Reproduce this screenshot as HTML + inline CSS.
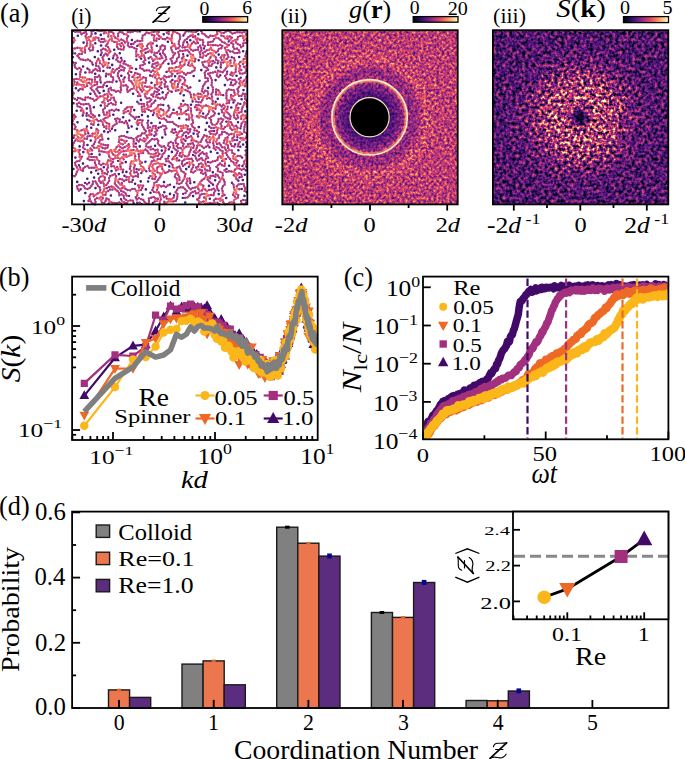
<!DOCTYPE html>
<html><head><meta charset="utf-8"><style>html,body{margin:0;padding:0;background:#fff;}svg{display:block;}</style></head><body>
<svg width="685" height="759" viewBox="0 0 685 759" font-family='"Liberation Serif", serif'>
<defs>
<linearGradient id="mg" x1="0" x2="1" y1="0" y2="0"><stop offset="0%" stop-color="#000004"/><stop offset="10%" stop-color="#140e36"/><stop offset="20%" stop-color="#3b0f70"/><stop offset="30%" stop-color="#641a80"/><stop offset="40%" stop-color="#8c2981"/><stop offset="50%" stop-color="#b73779"/><stop offset="60%" stop-color="#de4968"/><stop offset="70%" stop-color="#f7705c"/><stop offset="80%" stop-color="#fe9f6d"/><stop offset="90%" stop-color="#fecf92"/><stop offset="100%" stop-color="#fcfdbf"/></linearGradient>
</defs>
<rect width="685" height="759" fill="#fff"/>
<defs><filter id="fbi" x="-5%" y="-5%" width="110%" height="110%"><feGaussianBlur stdDeviation="0.35"/></filter></defs><g filter="url(#fbi)">
<path d="M219.5 181.8L220.6 179.6M220.6 179.6L222.2 177.7M222.2 177.7L223.7 179.7M223.7 179.7L224.6 182M224.6 182L224.7 184.5M224.7 184.5L222.9 186.2M222.9 186.2L222 188.5M222 188.5L222.6 190.9M222.6 190.9L222.7 193.4M222.7 193.4L224.6 195M224.6 195L222.3 196M222.2 177.7L222.8 175.3M222.8 175.3L222.5 172.8M222.5 172.8L220.2 171.9M220.2 171.9L217.8 171.1M217.8 171.1L218.1 168.7M218.1 168.7L216.4 166.8M216.4 166.8L218.2 165M218.2 165L220.1 163.5M220.1 163.5L222 165.2M222 165.2L224.4 166M224.4 166L225 163.6M225 163.6L224.6 161.1M224.6 161.1L222.1 161M222.1 161L223.5 158.9M223.5 158.9L226 158.9M219.5 181.8L218 183.8M218 183.8L216.8 186M216.8 186L217.3 188.5M217.3 188.5L218.6 190.6M193.3 147.9L190.9 147.5M190.9 147.5L190.7 150M190.7 150L189.6 152.2M189.6 152.2L189 154.6M189 154.6L187.4 156.6M187.4 156.6L184.9 156.2M184.9 156.2L183 154.6M183 154.6L181.6 156.7M181.6 156.7L179.4 155.6M179.4 155.6L180.1 153.2M180.1 153.2L182.5 152.3M182.5 152.3L182.6 149.8M182.6 149.8L180.8 148M180.8 148L178.3 148M178.3 148L176.7 146.1M176.7 146.1L178.2 144.1M178.2 144.1L175.9 143M175.9 143L175.4 140.6M175.4 140.6L176.5 138.3M176.5 138.3L178.7 137.1M178.7 137.1L176.8 135.4M176.8 135.4L178.2 133.4M178.2 133.4L176.1 132.1M176.1 132.1L173.7 132.9M173.7 132.9L171.5 131.8M171.5 131.8L172.5 129.5M172.5 129.5L175 129.5M178.2 133.4L179.6 131.3M179.6 131.3L182 130.8M182 130.8L181.1 128.5M181.1 128.5L183.6 128M183.6 128L183.3 125.6M183.3 125.6L180.8 125.9M180.8 125.9L178.4 126.5M178.4 126.5L176.3 125.1M176.3 125.1L174.2 123.8M174.2 123.8L172.5 122M172.5 122L170 122.1M170 122.1L167.5 121.9M167.5 121.9L165.8 120M165.8 120L164 118.3M164 118.3L161.6 118.8M161.6 118.8L159.1 118.1M159.1 118.1L157.5 116.3M157.5 116.3L156.7 113.9M156.7 113.9L159.2 114.5M159.2 114.5L161.1 116.1M193.3 147.9L193.9 145.5M193.9 145.5L192.8 143.2M192.8 143.2L190.4 143.7M190.4 143.7L187.9 144.1M187.9 144.1L188.7 146.5M188.7 146.5L186.2 146.6M186.2 146.6L184.3 148.2M184.3 148.2L182.9 146.1M182.9 146.1L183.6 143.7M183.6 143.7L181.6 142.2M181.6 142.2L181.2 139.7M181.2 139.7L183.6 139.2M183.6 139.2L185.5 140.8M228.9 45L226.5 44.1M226.5 44.1L224.5 42.7M224.5 42.7L222.1 41.8M222.1 41.8L220.5 39.9M220.5 39.9L218.6 38.3M218.6 38.3L216.2 37.7M216.2 37.7L214.1 39.1M214.1 39.1L213 41.3M213 41.3L210.6 41.9M210.6 41.9L208.1 42.4M208.1 42.4L207.9 44.9M207.9 44.9L210.4 45M210.4 45L212.9 45.2M212.9 45.2L215.4 45.1M215.4 45.1L217.9 45.6M228.9 45L227.1 46.7M227.1 46.7L224.8 47.8M224.8 47.8L225.8 50.1M225.8 50.1L226.6 52.4M226.6 52.4L227.6 54.7M227.6 54.7L228.4 57M228.4 57L226.8 58.9M226.8 58.9L224.4 59.8M224.4 59.8L221.9 59.8M221.9 59.8L220.7 57.6M220.7 57.6L222.1 55.5M222.1 55.5L224.6 55.2M224.6 55.2L223.8 57.6M81.5 34.3L80.3 32.1M80.3 32.1L77.9 31.5M77.9 31.5L75.4 31.9M75.4 31.9L73.1 30.9M81.5 34.3L83.6 32.9M83.6 32.9L85.8 31.7M85.8 31.7L86.6 34.1M86.6 34.1L85.5 36.3M85.5 36.3L86.3 38.6M86.3 38.6L88.4 37.2M88.4 37.2L90.7 36.3M90.7 36.3L91.7 34M91.7 34L91.4 31.6M91.4 31.6L93.6 30.5M176.4 170.5L177.3 172.9M177.3 172.9L175.4 174.4M175.4 174.4L174.8 176.8M174.8 176.8L176.6 178.5M176.6 178.5L177.4 180.9M177.4 180.9L176.9 183.3M176.9 183.3L179.3 183.9M179.3 183.9L181.5 182.8M181.5 182.8L182.8 180.7M182.8 180.7L184.3 178.7M184.3 178.7L184.9 176.2M184.9 176.2L185.5 173.8M185.5 173.8L183.6 172.2M183.6 172.2L181.4 171.1M181.4 171.1L180.5 168.8M180.5 168.8L179.5 166.5M179.5 166.5L177.2 167.5M177.2 167.5L174.9 168.5M174.9 168.5L172.7 167.3M172.7 167.3L172.5 164.8M172.5 164.8L170.7 163.1M170.7 163.1L168.9 161.4M168.9 161.4L166.4 161.2M166.4 161.2L165.6 158.8M165.6 158.8L168.1 158.4M168.1 158.4L168.7 156M177.3 172.9L178.3 175.1M178.3 175.1L179.4 177.4M179.4 177.4L179.5 179.9M176.4 170.5L173.9 170.6M173.9 170.6L171.5 171.3M171.5 171.3L169.2 170.2M169.2 170.2L167.6 172.1M167.6 172.1L165.2 172.9M165.2 172.9L163.5 171M163.5 171L162.3 168.9M162.3 168.9L162 166.4M162 166.4L159.5 166.2M159.5 166.2L157.4 167.5M157.4 167.5L156.8 169.9M156.8 169.9L157.5 172.3M157.5 172.3L159.8 173.2M159.8 173.2L160.8 175.5M160.8 175.5L159.6 177.6M159.6 177.6L158.2 179.7M158.2 179.7L156.7 181.7M156.7 181.7L154.4 182.8M154.4 182.8L154 185.2M154 185.2L153.3 187.6M153.3 187.6L152.3 189.9M152.3 189.9L153.8 191.8M153.8 191.8L156.3 192.3M156.3 192.3L158.8 192.3M158.8 192.3L159.8 194.5M159.8 194.5L160.5 196.9M160.5 196.9L160.8 199.4M160.8 199.4L159.8 201.7M159.8 201.7L159.7 204.2M160.8 175.5L162.2 173.4M110.2 99.8L108 100.9M108 100.9L106.9 98.7M106.9 98.7L108.1 96.5M108.1 96.5L107.1 94.2M107.1 94.2L104.6 94.6M104.6 94.6L102.8 96.2M102.8 96.2L100.3 96.3M100.3 96.3L98.3 97.8M98.3 97.8L96.6 96.1M96.6 96.1L95.2 94M95.2 94L94.1 91.7M94.1 91.7L92.3 90M92.3 90L90.7 88.1M90.7 88.1L92.4 86.2M92.4 86.2L94.6 85M94.6 85L97 84.3M97 84.3L97.3 81.9M97.3 81.9L94.8 82.1M94.8 82.1L94.9 79.6M94.9 79.6L94.9 77.1M94.9 77.1L97.4 77M97.4 77L99.2 75.3M99.2 75.3L100.4 77.5M100.4 77.5L100.2 80M100.2 80L100.8 82.4M98.3 97.8L96.5 99.6M96.5 99.6L94.4 100.8M94.4 100.8L92.7 98.9M92.7 98.9L90.3 98.2M90.3 98.2L88 97.3M88 97.3L85.5 97.5M85.5 97.5L85.1 100M85.1 100L82.6 99.5M82.6 99.5L80.4 98.3M80.4 98.3L78 97.8M78 97.8L77.1 100.1M77.1 100.1L74.9 98.9M74.9 98.9L72.6 97.9M72.6 97.9L72.5 95.4M72.5 95.4L73.7 93.2M73.7 93.2L72.3 91.1M72.3 91.1L72.3 88.6M72.3 88.6L72.4 86.1M72.4 86.1L74.1 84.3M74.1 84.3L74.5 81.8M74.5 81.8L74 79.4M74 79.4L76.5 78.9M76.5 78.9L79 79.2M79 79.2L81.2 80.4M81.2 80.4L83.1 82.1M83.1 82.1L85.5 81.4M85.5 81.4L87 79.4M87 79.4L89.5 79.2M89.5 79.2L92 79.6M92 79.6L92.1 82.1M92.1 82.1L90.8 84.3M90.8 84.3L89 82.6M89 82.6L86.7 83.5M86.7 83.5L87.2 85.9M87.2 85.9L84.9 87M84.9 87L82.4 86.9M82.4 86.9L82.8 89.4M82.8 89.4L80.3 88.9M80.3 88.9L78.4 90.5M85.5 81.4L83.7 79.6M83.7 79.6L82.6 77.4M82.6 77.4L80.1 76.9M80.1 76.9L80.1 74.4M80.1 74.4L80.4 71.9M80.4 71.9L81.2 69.6M81.2 69.6L79.4 67.8M79.4 67.8L77.3 69.1M77.3 69.1L75.3 67.5M75.3 67.5L74.5 65.2M74.5 65.2L75.8 63M75.8 63L73.3 62.5M82.6 77.4L85.1 77.5M110.2 99.8L111.3 97.6M111.3 97.6L113.8 97.7M113.8 97.7L114.3 100.1M114.3 100.1L115.8 102.1M115.8 102.1L115.6 104.6M115.6 104.6L113.1 104.4M113.1 104.4L111.1 103M111.1 103L108.7 103.8M108.7 103.8L107.3 105.9M210.3 35.6L208.5 37.4M208.5 37.4L206.3 36.2M206.3 36.2L204.6 34.4M204.6 34.4L202.3 33.3M202.3 33.3L201.3 31.1M210.3 35.6L212.8 36M212.8 36L215.2 35.5M215.2 35.5L217.3 34.1M217.3 34.1L217 31.6M217 31.6L219.5 31.2M219.5 31.2L221.4 32.8M221.4 32.8L223.9 32.9M223.9 32.9L225.9 31.5M225.9 31.5L228.3 30.7M228.3 30.7L230.4 32.1M230.4 32.1L232.4 33.6M232.4 33.6L234.8 32.9M234.8 32.9L237.2 32.1M237.2 32.1L239.7 32.3M239.7 32.3L242.1 32.6M242.1 32.6L244.6 32M227.2 71.6L226.8 74.1M226.8 74.1L225 75.9M225 75.9L226.1 78.1M226.1 78.1L227.6 80.1M227.6 80.1L229.9 79M229.9 79L232.3 79.8M232.3 79.8L234.8 80M234.8 80L236.4 81.9M236.4 81.9L235.2 84M235.2 84L233 85.3M233 85.3L230.5 84.9M230.5 84.9L231.2 82.5M96.9 135.4L94.9 137M94.9 137L95.7 139.3M95.7 139.3L95.1 141.8M95.1 141.8L94 144M94 144L92.3 145.8M92.3 145.8L94 147.6M94 147.6L96.5 147.8M96.5 147.8L98.3 146.1M98.3 146.1L100.8 146.4M100.8 146.4L102.7 148M102.7 148L105.2 148.5M105.2 148.5L107.5 147.6M107.5 147.6L108.2 145.2M108.2 145.2L105.7 145.2M105.7 145.2L103.3 144.6M103.3 144.6L100.9 144M100.9 144L98.9 142.4M98.9 142.4L100.1 140.2M100.1 140.2L102.5 139.5M102.5 139.5L102.1 137M102.1 137L101.5 134.6M101.5 134.6L99.6 136.3M99.6 136.3L97.7 137.9M96.9 135.4L97.9 133.1M97.9 133.1L98.4 130.7M98.4 130.7L96.6 128.9M96.6 128.9L96 131.4M96 131.4L95 133.6M95 133.6L92.5 133.6M92.5 133.6L92.4 136.1M92.4 136.1L90 135.7M90 135.7L87.6 136.4M87.6 136.4L87 138.8M87 138.8L84.5 138.5M157 138.8L158.3 140.9M158.3 140.9L157.9 143.4M157.9 143.4L159.5 145.3M159.5 145.3L161.6 146.7M161.6 146.7L164.1 146.2M164.1 146.2L165.6 148.1M165.6 148.1L165.4 150.6M165.4 150.6L164.3 152.9M164.3 152.9L162.5 154.5M162.5 154.5L161.7 156.9M161.7 156.9L160.3 159M160.3 159L157.8 159M157.8 159L156.5 161.1M156.5 161.1L154.1 160.4M154.1 160.4L151.8 161.4M151.8 161.4L150.8 163.7M150.8 163.7L149.6 165.9M149.6 165.9L149.1 168.3M149.1 168.3L149.6 170.8M149.6 170.8L152.1 170.9M152.1 170.9L152.7 173.3M152.7 173.3L154.9 174.5M154.9 174.5L155.7 176.8M155.7 176.8L154.8 179.1M154.8 179.1L152.3 178.6M152.3 178.6L152.7 176.1M152.7 176.1L150.2 176.1M150.2 176.1L148.7 178.1M157 138.8L154.6 139.5M154.6 139.5L152.1 139M152.1 139L150.2 140.6M150.2 140.6L148.5 142.4M148.5 142.4L146.5 143.8M146.5 143.8L146.2 146.3M146.2 146.3L148.5 147.4M148.5 147.4L150.9 146.7M198.7 184.5L201.2 184.4M201.2 184.4L203.4 185.7M203.4 185.7L203.2 188.2M203.2 188.2L202.1 190.4M202.1 190.4L199.6 190.8M199.6 190.8L198.3 188.7M198.3 188.7L197.4 186.4M197.4 186.4L195.1 187.6M195.1 187.6L192.6 187.8M192.6 187.8L190.7 189.3M190.7 189.3L188.9 187.6M188.9 187.6L187.5 185.5M187.5 185.5L186.3 183.3M186.3 183.3L187.4 181.1M187.4 181.1L187.1 178.7M187.1 178.7L189.6 178.3M189.6 178.3L190.2 180.7M190.2 180.7L190.3 183.2M198.7 184.5L200 182.4M200 182.4L201.7 180.5M201.7 180.5L203.7 179M203.7 179L205.5 177.3M205.5 177.3L206 174.9M206 174.9L205.4 172.5M205.4 172.5L203.3 173.9M203.3 173.9L201.1 172.7M201.1 172.7L202.2 170.5M202.2 170.5L199.9 169.6M199.9 169.6L197.3 169.6M197.3 169.6L196 167.5M196 167.5L198.3 166.5M198.3 166.5L198.9 164.1M198.9 164.1L201.2 163.3M201.2 163.3L203.1 164.9M203.1 164.9L201.7 167M201.7 167L204.2 167.1M204.2 167.1L205.1 169.4M205.1 169.4L207.4 170.5M207.4 170.5L209.9 170.6M209.9 170.6L210.1 168.1M210.1 168.1L209 165.8M209 165.8L206.5 165.7M206.5 165.7L205.5 163.5M205.5 163.5L205.1 161M205.1 161L205.9 158.7M205.9 158.7L208.2 157.7M208.2 157.7L206.6 155.9M206.6 155.9L206.6 153.4M206.6 153.4L204.2 154M204.2 154L202.5 152.2M202.5 152.2L200.5 153.7M200.5 153.7L198.9 155.6M205.1 161L202.7 160.1M202.7 160.1L201.5 157.9M201.5 157.9L199.4 159.2M199.4 159.2L197.3 160.6M197.3 160.6L196.1 158.5M196.1 158.5L195.2 156.1M195.2 156.1L193 154.9M142.6 120.3L141.6 122.6M141.6 122.6L142 125.1M142 125.1L143.3 127.2M143.3 127.2L144.4 129.4M144.4 129.4L146 131.3M146 131.3L144.6 133.3M144.6 133.3L142.1 133.4M142.1 133.4L140.7 135.5M140.7 135.5L138.3 136.2M138.3 136.2L136.3 137.7M136.3 137.7L136.8 140.1M136.8 140.1L138.8 141.5M138.8 141.5L140 139.3M140 139.3L142.3 140.2M142.3 140.2L144.5 141.4M144.5 141.4L146 139.4M146 139.4L143.8 138.3M142.6 120.3L140.1 119.8M140.1 119.8L137.7 120.5M137.7 120.5L136.7 122.8M136.7 122.8L137.8 125M137.8 125L139.2 123M204.3 193.8L201.8 194M201.8 194L199.9 195.5M199.9 195.5L199.3 198M199.3 198L197.2 199.4M197.2 199.4L198.9 201.2M198.9 201.2L199.2 203.7M199.2 203.7L201.1 202.1M201.1 202.1L203.5 201.5M203.5 201.5L206 201.4M206 201.4L206.1 199M206.1 199L204.1 197.5M204.1 197.5L206.4 196.4M206.4 196.4L208.7 195.4M208.7 195.4L211.1 195M211.1 195L213.6 195.2M213.6 195.2L214.1 192.7M214.1 192.7L215.4 190.6M215.4 190.6L213.8 188.6M213.8 188.6L211.5 189.6M211.5 189.6L209 189.9M209 189.9L206.9 191.3M206.9 191.3L205.2 189.5M204.3 193.8L206.8 193.8M158.9 77.9L160.9 79.3M160.9 79.3L162.9 77.9M162.9 77.9L164.5 79.9M164.5 79.9L165.8 82M165.8 82L164.6 84.2M164.6 84.2L164.9 86.7M164.9 86.7L167.4 86.4M167.4 86.4L167.9 88.9M167.9 88.9L169.3 90.9M169.3 90.9L171.7 91.7M158.9 77.9L156.8 79.3M156.8 79.3L156.8 81.8M156.8 81.8L157.2 84.3M157.2 84.3L159.2 82.7M159.2 82.7L161.6 82.4M161.6 82.4L160.8 84.7M160.8 84.7L159.4 86.8M159.4 86.8L161.5 88.3M157.2 84.3L154.8 85M154.8 85L154.6 87.5M154.6 87.5L156.8 88.7M156.8 88.7L158.9 90M158.9 90L157.3 91.9M157.3 91.9L154.8 91.5M154.8 91.5L153.7 93.7M153.7 93.7L151.4 94.7M151.4 94.7L153.2 96.5M131.3 72.1L129.1 71.1M129.1 71.1L127.9 73.3M127.9 73.3L129.2 75.4M129.2 75.4L128.7 77.8M128.7 77.8L129.2 80.3M129.2 80.3L131.3 81.5M131.3 81.5L132.6 83.6M132.6 83.6L133.9 85.8M133.9 85.8L134.1 88.3M134.1 88.3L131.6 88.8M131.6 88.8L129.7 90.4M129.7 90.4L127.7 91.9M127.7 91.9L127.1 89.4M127.1 89.4L127.7 87M127.7 87L126 85.2M126 85.2L123.5 85.6M123.5 85.6L121.1 85M121.1 85L120.7 87.5M120.7 87.5L121.1 89.9M121.1 89.9L120.4 92.3M120.4 92.3L118.3 90.8M118.3 90.8L116 91.7M116 91.7L114 90.3M114 90.3L111.5 90M111.5 90L110.8 87.6M110.8 87.6L108.7 88.9M108.7 88.9L108.5 91.4M108.5 91.4L109.5 93.7M109.5 93.7L111.5 95.1M121.1 85L121 82.5M121 82.5L119.8 80.3M119.8 80.3L118.9 78M118.9 78L117.7 75.8M117.7 75.8L117.9 73.4M117.9 73.4L119.1 71.2M119.1 71.2L121.3 69.9M121.3 69.9L123.7 70.5M123.7 70.5L124.6 68.1M124.6 68.1L122.5 66.7M122.5 66.7L120.3 65.5M120.3 65.5L119.3 67.8M119.3 67.8L117 68.9M117 68.9L115.1 70.5M115.1 70.5L113.9 72.6M113.9 72.6L111.7 71.4M111.7 71.4L112.8 69.1M180.7 106.4L181 103.9M180.7 106.4L178.8 108M178.8 108L180.9 109.4M180.9 109.4L180.8 111.9M180.8 111.9L182.2 114M182.2 114L184.3 112.7M184.3 112.7L186 110.9M186 110.9L188.2 109.7M188.2 109.7L188.6 107.2M188.6 107.2L187.5 105M187.5 105L185.1 104.3M185.1 104.3L183 105.7M193.3 32.1L195.8 32M195.8 32L197.8 30.6M193.3 32.1L190.9 31.4M190.9 31.4L188.4 31.3M188.4 31.3L185.9 31.2M185.9 31.2L184.7 33.4M184.7 33.4L183.4 35.5M173.5 55.3L172.7 57.6M172.7 57.6L170.6 59M170.6 59L171.8 61.2M171.8 61.2L172.3 63.6M172.3 63.6L174.7 63M174.7 63L176.5 61.2M176.5 61.2L177 58.7M177 58.7L178.8 57M178.8 57L179 54.5M179 54.5L178.1 52.1M178.1 52.1L180.1 50.6M180.1 50.6L182.6 50.8M182.6 50.8L185 50.3M185 50.3L187.5 50.2M187.5 50.2L189.2 52.1M189.2 52.1L190.6 54.2M190.6 54.2L193 54.9M193 54.9L193.5 57.3M193.5 57.3L195.4 59M195.4 59L194.8 61.4M194.8 61.4L192.3 61.4M192.3 61.4L191.7 59M191.7 59L191.1 56.6M173.5 55.3L175.1 53.4M175.1 53.4L172.8 52.3M172.8 52.3L171.7 50.1M171.7 50.1L171 47.7M171 47.7L172.8 46M172.8 46L174.4 44M174.4 44L175.2 46.4M175.2 46.4L176 48.7M176 48.7L178.4 48.2M178.4 48.2L179.8 46.1M179.8 46.1L178.7 43.9M178.7 43.9L178.9 41.4M178.9 41.4L179.9 39.1M179.9 39.1L180.2 36.7M180.2 36.7L179.6 34.3M179.6 34.3L177.3 33.1M177.3 33.1L175.1 32M175.1 32L172.9 30.7M172.9 30.7L172.8 33.2M172.8 33.2L171.8 35.5M171.8 35.5L171.9 38M171.9 38L171.4 40.5M171.4 40.5L172 42.9M171.9 38L169.5 38.7M169.5 38.7L167.2 37.6M167.2 37.6L165.2 39.2M165.2 39.2L162.7 38.9M72.2 175.5L74.6 176.2M74.6 176.2L76.1 174.2M76.1 174.2L76.9 171.8M76.9 171.8L78 169.6M78 169.6L77 167.3M77 167.3L75.6 165.2M75.6 165.2L74.9 162.8M74.9 162.8L76.9 161.3M76.9 161.3L79.4 160.8M79.4 160.8L80.8 158.8M80.8 158.8L82 156.6M82 156.6L79.5 156.8M79.5 156.8L79.8 154.3M79.8 154.3L78.7 152.1M78.7 152.1L79.8 149.9M79.8 149.9L77.4 150.2M77.4 150.2L75 151.2M75 151.2L72.5 151.3M72.5 151.3L72.2 153.7M72.2 153.7L72.1 156.2M106.6 152.4L104.1 151.8M104.1 151.8L101.7 151.3M101.7 151.3L99.2 151.2M99.2 151.2L98.9 148.8M106.6 152.4L108.9 151.7M108.9 151.7L110.8 150M110.8 150L111.8 152.3M111.8 152.3L113.2 154.4M113.2 154.4L115.3 155.7M115.3 155.7L117.8 155.3M117.8 155.3L119.5 153.4M119.5 153.4L121.3 151.7M121.3 151.7L123.8 151.2M123.8 151.2L126.2 150.6M126.2 150.6L128.7 150.9M128.7 150.9L131.1 150.2M131.1 150.2L133.6 149.9M108.9 151.7L108.6 154.1M108.6 154.1L109.2 156.5M109.2 156.5L110.7 158.5M110.7 158.5L113.1 159.2M113.1 159.2L115.3 158M115.3 158L117.8 157.7M117.8 157.7L120 158.7M120 158.7L122.1 157.4M122.1 157.4L123.7 159.3M190.4 129.1L187.9 129.4M187.9 129.4L186 127.8M186 127.8L188 126.3M188 126.3L185.8 125.2M190.4 129.1L189.9 131.5M189.9 131.5L188.3 133.5M188.3 133.5L186.4 131.9M186.4 131.9L184.1 132.9M184.1 132.9L182.8 135M182.8 135L181.4 137M111.8 110L109.4 110.7M109.4 110.7L109.4 113.1M109.4 113.1L109.7 115.6M109.7 115.6L107.9 117.3M107.9 117.3L105.5 117.9M105.5 117.9L103.4 119.4M103.4 119.4L105 121.3M105 121.3L106.8 123.1M106.8 123.1L109.2 123.9M109.2 123.9L109.3 126.4M109.3 126.4L109.1 128.8M109.1 128.8L110.2 131.1M110.2 131.1L107.9 132.2M111.8 110L114.2 110.8M114.2 110.8L116.2 109.4M116.2 109.4L118.6 110.2M231.6 72.4L233.8 73.5M233.8 73.5L235.7 71.8M235.7 71.8L235.7 69.3M235.7 69.3L236.1 66.8M236.1 66.8L236.4 64.3M236.4 64.3L234.1 65.2M234.1 65.2L231.7 66.1M231.7 66.1L229.4 65.1M229.4 65.1L230.6 62.9M230.6 62.9L230.5 60.4M230.5 60.4L228.4 61.8M228.4 61.8L227 63.9M227 63.9L227.5 66.4M227.5 66.4L225.9 68.3M225.9 68.3L224.4 70.3M224.4 70.3L222.7 72.2M222.7 72.2L220.3 71.6M220.3 71.6L218 70.6M218 70.6L217.4 73M217.4 73L216.8 75.5M216.8 75.5L218.6 77.1M218.6 77.1L220.3 75.2M231.6 72.4L230.3 74.6M230.3 74.6L232.6 75.6M228.8 171.2L231.2 171.4M231.2 171.4L233.7 171.8M233.7 171.8L235 169.6M235 169.6L237 168.2M237 168.2L239.5 168.6M239.5 168.6L241.7 169.8M241.7 169.8L243.9 168.7M243.9 168.7L245.8 170.3M228.8 171.2L226.4 171.9M226.4 171.9L224.4 170.3M224.4 170.3L226.5 169M89.5 72.3L92 72.4M92 72.4L93.3 70.3M93.3 70.3L95.5 69M95.5 69L97.5 70.5M97.5 70.5L100 71M100 71L99.7 68.5M99.7 68.5L98.5 66.3M98.5 66.3L96.1 65.7M96.1 65.7L96.1 63.2M96.1 63.2L97.1 60.9M97.1 60.9L98.3 58.7M98.3 58.7L99.7 60.8M99.7 60.8L99.9 63.3M89.5 72.3L89.5 69.8M89.5 69.8L87.4 68.5M213.9 200.4L214.8 202.7M214.8 202.7L212.4 203.4M212.4 203.4L209.9 203M209.9 203L207.5 203.5M207.5 203.5L205 204M213.9 200.4L215.7 198.7M215.7 198.7L218.2 199.1M218.2 199.1L220.6 198.2M220.6 198.2L220.3 200.7M220.3 200.7L222.7 199.9M222.7 199.9L223.3 202.3M223.3 202.3L224.9 204.2M224.9 204.2L227.4 204.1M227.4 204.1L229.4 202.6M229.4 202.6L231.8 202.2M231.8 202.2L234.2 203M234.2 203L234 200.5M234 200.5L235.8 198.7M235.8 198.7L234.8 196.4M234.8 196.4L233.1 194.7M233.1 194.7L233.9 192.3M235.8 198.7L238 197.5M238 197.5L238.3 195.1M238.3 195.1L236.2 193.7M236.2 193.7L236.3 191.2M236.3 191.2L234.5 189.5M234.5 189.5L233.9 187.1M233.9 187.1L233.5 184.6M233.5 184.6L231.9 182.7M228.7 41.4L230.4 39.6M230.4 39.6L231.9 37.6M231.9 37.6L229.7 36.5M229.7 36.5L227.2 36.3M227.2 36.3L227.7 38.7M227.7 38.7L225.3 38.3M225.3 38.3L223.7 36.3M223.7 36.3L221.3 35.5M143.9 55.1L144.5 57.5M144.5 57.5L145.3 59.9M145.3 59.9L143.5 61.7M143.5 61.7L144.8 63.8M144.8 63.8L142.7 65.1M142.7 65.1L140.2 65.6M140.2 65.6L140.1 68.1M140.1 68.1L142.4 69M142.4 69L144.3 70.7M144.3 70.7L146.7 70.3M146.7 70.3L149.2 70.3M149.2 70.3L151 72.1M151 72.1L152.8 70.4M152.8 70.4L154.8 71.8M154.8 71.8L157.1 70.9M143.9 55.1L141.5 55.9M141.5 55.9L139.3 57.1M139.3 57.1L141.2 58.7M102.2 173.4L102.3 170.9M102.3 170.9L100.7 169M100.7 169L98.2 169.4M98.2 169.4L96 170.6M102.2 173.4L104.7 173.2M104.7 173.2L107 174.2M107 174.2L107.9 171.8M107.9 171.8L106.9 169.6M106.9 169.6L108 167.4M108 167.4L107.8 164.9M107.8 164.9L107.2 162.5M107.2 162.5L108.4 160.2M108.4 160.2L110.7 161M110.7 161L113 162M113 162L111.3 163.9M111.3 163.9L111.2 166.3M111.2 166.3L113.7 166.1M113.7 166.1L115.2 168.1M115.2 168.1L116 170.4M116 170.4L118.2 169.2M118.2 169.2L117.2 166.9M107.8 164.9L105.4 164.3M105.4 164.3L103 163.6M103 163.6L101.1 165.1M101.1 165.1L99.1 163.6M99.1 163.6L99.3 161.1M99.3 161.1L97.3 159.5M97.3 159.5L96.5 157.2M96.5 157.2L94 157.1M94 157.1L91.5 156.8M91.5 156.8L89 156.6M89 156.6L87.6 158.7M87.6 158.7L89.7 160M89.7 160L92.2 160M92.2 160L94.7 160.2M94.7 160.2L94.9 162.7M94.9 162.7L95.8 165M95.8 165L96.7 167.3M96.7 167.3L94.2 167.7M94.2 167.7L91.7 167.7M91.7 167.7L89.2 167.8M89.2 167.8L87.5 166M87.5 166L85.1 166.8M85.1 166.8L83.3 168.5M83.3 168.5L82.9 171M82.9 171L80.6 169.8M80.6 169.8L80.1 167.4M80.1 167.4L78.9 165.2M235.9 107.7L238.4 107.9M238.4 107.9L237.7 110.3M237.7 110.3L235.2 110.1M235.2 110.1L234.2 112.4M234.2 112.4L236.7 112.8M236.7 112.8L239.2 112.6M239.2 112.6L241.6 111.8M241.6 111.8L241.8 109.3M241.8 109.3L242.6 107M242.6 107L243.8 104.8M243.8 104.8L244.4 102.4M244.4 102.4L246.4 103.9M246.4 103.9L246.8 106.3M234.2 112.4L233.8 114.9M233.8 114.9L234.3 117.3M234.3 117.3L236.2 119M236.2 119L238.2 117.5M238.2 117.5L237.3 115.2M235.9 107.7L236.5 105.3M236.5 105.3L238 103.3M238 103.3L240.4 103.9M177 198.7L175.8 200.9M175.8 200.9L173.4 201.5M173.4 201.5L170.9 201.4M170.9 201.4L168.4 201.4M168.4 201.4L166.3 202.8M166.3 202.8L164.2 201.6M164.2 201.6L164.3 204M177 198.7L177.4 196.3M177.4 196.3L177.5 193.8M177.5 193.8L175.6 192.2M175.6 192.2L176.9 190.1M176.9 190.1L178.3 188M178.3 188L180.7 187.2M180.7 187.2L183.2 187.4M183.2 187.4L185 189.1M185 189.1L186.8 190.9M186.8 190.9L185.5 193.1M185.5 193.1L183.1 193.8M245.2 188.4L244.2 186.2M244.2 186.2L243.6 183.8M243.6 183.8L241.1 184.1M241.1 184.1L238.6 184.4M238.6 184.4L236.7 186.1M236.7 186.1L236.9 188.5M236.9 188.5L239.3 189.2M239.3 189.2L241.8 189M245.2 188.4L244.6 190.9M244.6 190.9L246.7 192.1M231.2 161.1L230 158.9M230 158.9L228.3 157.1M228.3 157.1L227 154.9M227 154.9L225.6 152.9M225.6 152.9L227.5 151.4M227.5 151.4L225.7 149.7M225.7 149.7L224.6 147.4M224.6 147.4L222.1 147.3M222.1 147.3L220.8 145.2M220.8 145.2L219.4 143.2M219.4 143.2L217 144.1M217 144.1L216.2 141.7M216.2 141.7L217.1 139.4M217.1 139.4L218.9 137.7M218.9 137.7L219.4 135.2M219.4 135.2L221.7 134.2M221.7 134.2L222.2 131.8M222.2 131.8L224.7 131.9M224.7 131.9L226.9 133.2M226.9 133.2L228.9 134.7M228.9 134.7L231.3 134M231.3 134L233.8 133.9M233.8 133.9L234.2 136.4M234.2 136.4L232.5 138.2M232.5 138.2L232.2 140.7M232.2 140.7L234.6 140.1M234.6 140.1L237.1 140.1M231.2 161.1L233.4 162.3M233.4 162.3L234.5 164.5M234.5 164.5L236.7 165.7M236.7 165.7L239.2 165.5M194.9 107.2L196.2 105.1M196.2 105.1L198.7 105.1M198.7 105.1L201.1 105.9M201.1 105.9L202.3 108.1M202.3 108.1L203.7 106M203.7 106L206.1 105.4M206.1 105.4L208.4 106.4M208.4 106.4L210.8 107.2M210.8 107.2L213.2 108M213.2 108L215.5 108.8M215.5 108.8L215.9 106.3M215.9 106.3L217.4 104.3M217.4 104.3L219.9 104.6M219.9 104.6L221.6 106.5M221.6 106.5L223.3 104.7M223.3 104.7L225 106.5M225 106.5L223.8 108.7M223.8 108.7L221.6 109.8M221.6 109.8L222.1 112.2M222.1 112.2L224.5 113.1M224.5 113.1L223.8 115.5M223.8 115.5L225.5 117.3M225.5 117.3L227.8 118.4M227.8 118.4L230.2 118.9M230.2 118.9L230.6 116.4M230.6 116.4L229.3 114.3M229.3 114.3L227.5 112.6M227.5 112.6L225.6 110.9M225.6 110.9L227.3 109.1M227.3 109.1L227.7 106.6M194.9 107.2L197.4 107.6M197.4 107.6L196.7 110M196.7 110L199.1 109.4M199.1 109.4L201.3 110.7M201.3 110.7L199.8 112.6M199.8 112.6L199 115M199 115L198.9 117.5M198.9 117.5L196.8 116.2M234.7 100.4L232.3 99.5M232.3 99.5L230.9 97.5M230.9 97.5L231 95M231 95L233.1 96.3M233.1 96.3L235.2 94.9M235.2 94.9L234.4 92.6M234.4 92.6L233.8 90.2M233.8 90.2L231.3 89.8M231.3 89.8L228.8 89.3M228.8 89.3L226.8 90.7M226.8 90.7L226.4 93.2M226.4 93.2L226.5 95.7M226.5 95.7L226.4 98.2M226.4 98.2L227 100.6M227 100.6L229.5 100.3M229.5 100.3L229 102.7M229 102.7L226.6 103.3M234.7 100.4L233.4 102.5M201 102.3L202.3 100.2M202.3 100.2L203.2 97.9M203.2 97.9L204.8 95.9M204.8 95.9L207.3 96M207.3 96L208.3 93.6M208.3 93.6L207.5 91.3M207.5 91.3L205.1 90.6M205.1 90.6L203.7 92.7M203.7 92.7L201.8 91.1M201.8 91.1L202.5 88.7M202.5 88.7L203 86.2M203 86.2L204.4 84.2M204.4 84.2L205.6 82M205.6 82L207.9 81M207.9 81L207.8 78.5M207.8 78.5L205.4 77.9M205.4 77.9L205.1 75.5M205.1 75.5L204.7 73M204.7 73L205.9 70.8M205.9 70.8L208.2 69.7M208.2 69.7L206.8 67.7M206.8 67.7L204.4 66.8M204.4 66.8L202.9 64.8M202.9 64.8L202.4 62.3M202.4 62.3L204.8 61.6M204.8 61.6L207.3 61.3M207.3 61.3L209.1 59.6M209.1 59.6L210.4 57.5M210.4 57.5L211.6 55.3M211.6 55.3L214.1 55.5M214.1 55.5L215.8 57.3M215.8 57.3L216.1 59.8M216.1 59.8L218.4 60.8M218.4 60.8L217.7 63.2M211.6 55.3L212.8 53.1M212.8 53.1L210.3 53.2M210.3 53.2L208 54.1M208 54.1L206.1 55.8M201 102.3L198.5 102.2M198.5 102.2L196 101.5M233.3 156.1L234.6 153.9M234.6 153.9L232.3 152.8M232.3 152.8L231.9 150.4M231.9 150.4L229.5 150M229.5 150L228.1 147.9M228.1 147.9L228 145.4M228 145.4L225.7 144.3M225.7 144.3L227 142.2M227 142.2L227.3 139.7M227.3 139.7L227.6 137.2M227.6 137.2L225.4 138.2M225.4 138.2L224.4 140.5M224.4 140.5L223.7 142.9M233.3 156.1L233.3 158.6M233.3 158.6L235.6 159.7M235.6 159.7L235.7 157.2M235.7 157.2L237.8 155.8M237.8 155.8L240.3 156M240.3 156L242.2 157.6M235.6 159.7L237.8 160.8M237.8 160.8L236.4 162.9M245.5 155.1L246.7 157.3M246.7 157.3L245.8 159.6M245.8 159.6L247 161.8M247 161.8L246.2 164.1M246.2 164.1L246.2 166.6M245.8 159.6L244.2 161.5M244.2 161.5L243.9 164M243.9 164L242.4 166M245.5 155.1L246.5 152.8M246.5 152.8L245.6 150.4M108.6 62.8L107.5 65.1M107.5 65.1L107.4 67.6M107.4 67.6L109.9 67.6M85.1 50L84.8 47.5M84.8 47.5L86.6 45.8M86.6 45.8L87.1 43.4M87.1 43.4L86.9 40.9M86.9 40.9L89 39.6M89 39.6L90.6 41.5M90.6 41.5L90.4 44M90.4 44L90.3 46.5M90.3 46.5L88.9 48.6M88.9 48.6L90.3 50.6M90.3 50.6L92.7 50M92.7 50L93.2 47.6M93.2 47.6L92.6 45.2M85.1 50L85.1 52.5M122.4 188.1L124.3 186.5M124.3 186.5L125.4 188.8M125.4 188.8L127.6 190M127.6 190L130.1 190.3M130.1 190.3L132.2 188.9M132.2 188.9L134.7 188.8M134.7 188.8L136.2 190.8M136.2 190.8L138.7 190.5M138.7 190.5L141.1 190.1M141.1 190.1L142.2 187.9M142.2 187.9L143.2 185.6M143.2 185.6L140.7 185.4M140.7 185.4L138.2 185.3M138.2 185.3L139.2 187.6M122.4 188.1L120 188.9M120 188.9L121.2 191M121.2 191L123.6 191.9M123.6 191.9L125.6 193.4M125.6 193.4L126.6 195.6M126.6 195.6L129.1 195.8M120 188.9L118 187.3M118 187.3L116.3 185.5M116.3 185.5L114.8 183.5M114.8 183.5L115.4 181.1M115.4 181.1L115.5 178.6M115.5 178.6L116.1 176.2M116.1 176.2L114.8 174M114.8 174L112.6 175.1M112.6 175.1L110.2 176M110.2 176L109.1 178.2M139.3 93.8L137.7 91.9M137.7 91.9L136.4 89.8M136.4 89.8L136.9 87.4M136.9 87.4L136.2 85M136.2 85L135.6 82.6M135.6 82.6L137.1 80.5M137.1 80.5L139.6 80.3M139.6 80.3L141.6 78.9M141.6 78.9L143.4 77.2M143.4 77.2L145.8 78M145.8 78L146.1 80.4M146.1 80.4L145.4 82.8M145.4 82.8L142.9 82.5M142.9 82.5L140.5 83.2M140.5 83.2L138 82.6M138 82.6L138.9 85M138.9 85L139.3 87.4M139.3 87.4L140.6 89.6M140.6 89.6L142 91.6M142 91.6L143.7 89.8M143.7 89.8L142.6 87.5M142.6 87.5L142 85.1M139.3 93.8L140.4 96.1M140.4 96.1L137.9 96.1M180.9 67.9L182.6 66M182.6 66L184.5 64.5M184.5 64.5L184.8 62M184.8 62L186.4 60.1M186.4 60.1L184 59.4M184 59.4L181.8 58.4M181.8 58.4L183.5 56.6M183.5 56.6L183.2 54.1M180.9 67.9L179.7 70.1M179.7 70.1L177.3 70.9M177.3 70.9L174.8 71.2M174.8 71.2L172.4 70.5M172.4 70.5L170.6 72.2M170.6 72.2L172.5 73.8M172.5 73.8L171.4 76M171.4 76L169 76.7M169 76.7L166.5 77.2M166.5 77.2L164.4 76M186.5 119.5L189 119.5M189 119.5L189.2 117M189.2 117L188.6 114.6M188.6 114.6L186.2 114.2M150 89.4L152 87.9M152 87.9L149.8 86.7M149.8 86.7L147.3 86.9M147.3 86.9L144.9 86.3M150 89.4L148.3 91.3M148.3 91.3L145.8 91.4M145.8 91.4L147.2 93.5M147.2 93.5L144.7 94M144.7 94L145.3 96.4M145.3 96.4L146.8 98.4M146.8 98.4L149.3 98.1M149.3 98.1L151.3 99.6M151.3 99.6L149.7 101.5M149.7 101.5L147.3 102.3M147.3 102.3L147.3 104.8M147.3 104.8L148.5 106.9M148.5 106.9L146.6 108.6M146.6 108.6L148.8 109.9M148.8 109.9L151 111M151 111L153.4 110.4M153.4 110.4L155.5 109M155.5 109L157.4 107.4M157.4 107.4L158.4 105.1M158.4 105.1L160.8 104.6M160.8 104.6L163.3 105M153.4 110.4L154.1 112.8M154.1 112.8L153 115M146.6 108.6L144.2 109.3M144.2 109.3L145 111.7M145 111.7L142.5 111.6M142.5 111.6L141.8 109.2M141.8 109.2L141.8 106.7M141.8 106.7L144.3 106.3M144.3 106.3L143.9 103.8M143.9 103.8L141.4 103.8M141.4 103.8L138.9 103.6M138.9 103.6L137.3 101.7M148.5 106.9L150.9 106.2M150.9 106.2L151.7 103.9M151.7 103.9L153.8 102.6M153.8 102.6L155.3 100.6M117.7 57.6L116.3 59.7M116.3 59.7L118.1 61.4M118.1 61.4L120.4 62.4M120.4 62.4L121.8 60.4M121.8 60.4L121.2 57.9M117.7 57.6L116.8 55.3M116.8 55.3L114.9 53.7M114.9 53.7L113.6 55.8M113.6 55.8L113.1 58.2M77.6 188.7L77.1 186.3M77.1 186.3L79.2 184.9M79.2 184.9L81.7 184.8M81.7 184.8L83.8 186.2M83.8 186.2L85 188.3M85 188.3L87.4 189M87.4 189L89.7 188M89.7 188L91.3 186M91.3 186L92.7 184M92.7 184L92.9 181.5M92.9 181.5L95.4 181.3M95.4 181.3L96.6 183.5M96.6 183.5L97.9 185.7M97.9 185.7L99.7 187.4M99.7 187.4L100.3 189.8M100.3 189.8L100 192.2M100 192.2L97.7 193.4M97.7 193.4L95.7 194.8M95.7 194.8L93.7 196.3M93.7 196.3L93.1 193.9M93.1 193.9L90.6 194.2M90.6 194.2L89.4 196.4M89.4 196.4L89.8 198.9M89.8 198.9L88.5 201M88.5 201L91 201.4M91 201.4L92.5 203.4M92.5 203.4L94.8 204.4M94.8 204.4L95.6 202M95.6 202L95 199.6M95 199.6L96.9 198M96.9 198L99.4 198.5M99.4 198.5L101 196.6M101 196.6L102.9 198.2M102.9 198.2L101.3 200.2M101.3 200.2L101.8 202.6M101.8 202.6L104.3 202.8M104.3 202.8L105.7 200.8M105.7 200.8L106.4 198.4M106.4 198.4L108.7 199.4M108.7 199.4L109.8 201.6M109.8 201.6L112.1 202.6M112.1 202.6L114.6 202.8M114.6 202.8L117.1 203.1M117.1 203.1L119.4 202.3M119.4 202.3L121.3 203.9M109.8 201.6L108.5 203.8M77.6 188.7L78.9 190.8M78.9 190.8L80.7 189.2M135.7 197.2L137.3 195.3M137.3 195.3L137.5 192.8M135.7 197.2L136.7 199.5M136.7 199.5L138.7 198M138.7 198L141 199.1M141 199.1L143.3 200M143.3 200L144.6 202.1M144.6 202.1L146.5 203.7M146.5 203.7L149 203.4M149 203.4L148.9 201M148.9 201L148.8 198.5M148.8 198.5L151.2 197.7M151.2 197.7L153.6 196.9M153.6 196.9L155.4 198.5M155.4 198.5L157.9 198.7M157.9 198.7L157.3 201.1M157.3 201.1L154.8 201.5M154.8 201.5L152.8 203M131.6 155.1L130 153.2M130 153.2L132.4 152.4M132.4 152.4L134.5 153.7M134.5 153.7L135.3 156.1M135.3 156.1L134.8 158.5M134.8 158.5L136.4 160.4M136.4 160.4L133.9 161M133.9 161L131.5 161.5M131.5 161.5L130.5 163.8M130.5 163.8L130.5 166.3M130.5 166.3L129.8 168.7M129.8 168.7L131 170.9M131 170.9L130.2 173.3M130.2 173.3L131.1 175.6M131.1 175.6L133.3 176.8M133.3 176.8L135.7 176M135.7 176L138.1 176.7M138.1 176.7L138.2 174.2M138.2 174.2L136.8 172.1M136.8 172.1L134.4 172.5M134.4 172.5L133.7 170.1M133.7 170.1L134.1 167.7M134.1 167.7L134.9 165.3M134.9 165.3L133.2 163.5M131.6 155.1L129.2 155.7M129.2 155.7L126.9 156.7M126.9 156.7L124.4 156.9M124.4 156.9L123.5 154.6M123.5 154.6L126 154.6M209.8 75.6L208.1 73.7M208.1 73.7L210.4 72.8M210.4 72.8L212.9 72.5M212.9 72.5L215.3 71.7M209.8 75.6L210.9 77.8M210.9 77.8L211.9 80.1M211.9 80.1L211.8 82.6M211.8 82.6L211.5 85.1M211.5 85.1L212.7 87.3M212.7 87.3L212.9 89.8M212.9 89.8L212.7 92.2M212.7 92.2L211.3 94.3M211.3 94.3L212.2 96.7M212.2 96.7L211.6 99.1M211.6 99.1L212.9 101.2M212.9 101.2L212.4 103.7M212.4 103.7L214.8 104.1M214.8 104.1L215.7 101.7M211.6 99.1L209.4 98M209.4 98L206.9 98.6M188.2 88.3L187.1 86.1M187.1 86.1L184.9 84.9M184.9 84.9L182.5 84.2M182.5 84.2L184.4 82.6M184.4 82.6L185.1 80.2M185.1 80.2L183.9 78M183.9 78L181.9 76.6M181.9 76.6L179.5 76M179.5 76L178.5 78.2M178.5 78.2L180.4 79.9M180.4 79.9L179.3 82.1M179.3 82.1L178 84.2M178 84.2L177.7 86.7M177.7 86.7L175.9 88.4M175.9 88.4L175.7 90.8M175.7 90.8L178.2 90.2M178.2 90.2L180.5 89.4M180.5 89.4L181.8 87.2M181.8 87.2L183 89.4M183 89.4L181.6 91.5M181.6 91.5L180.3 93.6M188.2 88.3L190.4 87.3M117.5 118.4L119.8 119.5M119.8 119.5L119.4 122M119.4 122L122 122M122 122L124.3 123M124.3 123L125.9 121M125.9 121L127.1 123.2M127.1 123.2L127.9 125.6M127.9 125.6L128.6 127.9M117.5 118.4L115.1 118.9M115.1 118.9L116.2 121.1M116.2 121.1L116.8 123.5M116.8 123.5L114.6 124.8M114.6 124.8L112.7 126.4M112.7 126.4L111.9 128.8M132.1 46.8L129.6 47M129.6 47L127.8 45.3M127.8 45.3L128.3 42.8M128.3 42.8L126.9 40.8M126.9 40.8L125.1 42.5M125.1 42.5L123.5 40.6M123.5 40.6L121.3 39.4M121.3 39.4L119.2 40.7M119.2 40.7L117.6 38.8M117.6 38.8L115.3 37.7M115.3 37.7L113.6 35.9M113.6 35.9L113.5 33.4M113.5 33.4L111.5 31.9M111.5 31.9L109 31.6M109 31.6L108.5 34M108.5 34L108.3 36.5M126.9 40.8L126.9 38.3M126.9 38.3L128.2 36.2M128.2 36.2L126.5 34.4M126.5 34.4L124 34.1M124 34.1L122.3 32.4M122.3 32.4L119.8 31.8M119.8 31.8L118.2 33.7M118.2 33.7L118.1 36.2M132.1 46.8L134.2 48.1M134.2 48.1L136.6 48.9M136.6 48.9L136.3 51.4M136.3 51.4L136.1 53.8M136.1 53.8L138.4 54.8M138.4 54.8L136.3 56.2M74.7 40.3L73.4 42.5M73.4 42.5L72.2 40.3M74.7 40.3L73.7 38M87.4 150L89.8 150.7M89.8 150.7L92.2 150.3M92.2 150.3L90.5 148.5M87.4 150L87.7 152.4M87.7 152.4L89.3 154.3M89.3 154.3L91.8 154M243.1 38.1L242.7 35.6M242.7 35.6L240.2 35.9M240.2 35.9L238 36.9M238 36.9L237.4 39.4M237.4 39.4L235 40M235 40L235.9 42.3M235.9 42.3L237.7 44.1M237.7 44.1L240 45M240 45L241.1 47.2M241.1 47.2L243.2 45.8M243.2 45.8L243.2 43.3M243.2 43.3L245.7 42.9M245.7 42.9L247.2 40.9M247.2 40.9L245.9 38.8M245.9 38.8L244 40.4M235 40L232.7 41.1M232.7 41.1L231.2 43M231.2 43L233.3 44.3M233.3 44.3L233.2 46.8M233.2 46.8L234.4 49M234.4 49L236.9 48.5M236.9 48.5L238.8 50.1M238.8 50.1L239.6 52.4M239.6 52.4L237.2 53M237.2 53L234.7 53.1M234.7 53.1L232.7 51.5M232.7 51.5L230.2 51.5M230.2 51.5L228.2 50.1M243.1 38.1L245 36.4M245 36.4L246.2 34.2M190.3 72.9L192.3 71.5M192.3 71.5L194.5 70.3M194.5 70.3L194.8 67.8M194.8 67.8L192.9 66.1M192.9 66.1L191.8 63.9M191.8 63.9L190.4 65.9M190.4 65.9L188.1 65.1M188.1 65.1L188.7 62.7M188.7 62.7L189.7 60.5M190.3 72.9L187.8 73M187.8 73L185.9 74.7M185.9 74.7L183.9 73.2M183.9 73.2L182 71.6M182 71.6L179.7 72.7M179.7 72.7L177.3 73.5M177 112L174.9 113.2M174.9 113.2L172.4 113M172.4 113L170.6 114.8M170.6 114.8L169.7 117.1M169.7 117.1L167.3 116.3M167.3 116.3L165.8 114.3M165.8 114.3L166.7 112M166.7 112L168.5 110.3M168.5 110.3L169.3 107.9M169.3 107.9L168.3 105.7M177 112L177.3 114.5M177.3 114.5L179.8 114.1M212.4 124.5L214.9 124.9M214.9 124.9L217 123.6M217 123.6L218.3 121.4M218.3 121.4L218.6 119M218.6 119L221.1 118.5M221.1 118.5L223.3 119.6M223.3 119.6L222 121.8M222 121.8L220.6 123.8M220.6 123.8L221.6 126.2M221.6 126.2L220.9 128.6M220.9 128.6L223.4 129M223.4 129L225 127.1M225 127.1L227.1 125.9M227.1 125.9L228.4 123.7M228.4 123.7L229.6 125.9M229.6 125.9L230.4 128.2M230.4 128.2L232.2 130M232.2 130L234.5 129.1M234.5 129.1L236.8 130.1M236.8 130.1L237.7 132.4M237.7 132.4L240.2 132.3M240.2 132.3L242.1 133.9M242.1 133.9L239.7 134.8M239.7 134.8L237.2 134.9M237.2 134.9L237.4 137.3M237.7 132.4L235.3 132M236.8 130.1L237.6 127.7M237.6 127.7L236.1 125.7M236.1 125.7L233.8 126.6M233.8 126.6L232.2 124.7M232.2 124.7L231.1 122.4M231.1 122.4L228.8 121.4M228.8 121.4L226.3 121.6M212.4 124.5L211.1 122.4M211.1 122.4L211.1 119.9M211.1 119.9L209.4 118.1M209.4 118.1L211.4 116.6M211.4 116.6L213.6 115.4M213.6 115.4L215 113.3M215 113.3L213.4 111.4M213.4 111.4L211.5 109.7M211.5 109.7L209.2 109M209.2 109L209.1 111.5M209.1 111.5L208.1 113.8M208.1 113.8L206.4 115.6M206.4 115.6L205.7 118M205.7 118L203.4 117M203.4 117L201 116.2M89.9 106L88.5 103.9M88.5 103.9L86 103.9M86 103.9L83.6 104.5M83.6 104.5L81.1 104.1M81.1 104.1L79.1 102.7M79.1 102.7L76.9 103.9M76.9 103.9L77.6 106.3M77.6 106.3L80 106.8M80 106.8L82 108.4M82 108.4L80.9 110.6M80.9 110.6L83.4 110.7M83.4 110.7L83.5 113.1M83.5 113.1L82.7 115.5M89.9 106L90.4 108.5M90.4 108.5L90.6 110.9M90.6 110.9L91.1 113.4M91.1 113.4L93 115M93 115L95.1 116.4M95.1 116.4L93.1 117.8M93.1 117.8L90.8 116.9M90.8 116.9L88.8 115.3M88.8 115.3L86.4 115.7M86.4 115.7L86.7 113.2M120.9 49.3L123.4 49.5M123.4 49.5L124.1 47.1M124.1 47.1L123.2 44.8M123.2 44.8L121.6 42.9M120.9 49.3L118.4 48.8M118.4 48.8L117.1 46.7M117.1 46.7L117.1 44.2M117.1 44.2L119.6 44.2M119.6 44.2L121 46.3M117.1 44.2L116.8 41.8M116.8 41.8L114.3 41.9M114.3 41.9L112.1 40.8M112.1 40.8L111.8 38.3M111.8 38.3L111 35.9M115.4 189.4L113.8 187.4M113.8 187.4L111.5 186.5M111.5 186.5L109 186.9M109 186.9L106.9 188.2M106.9 188.2L104.4 188.5M104.4 188.5L103.7 190.9M103.7 190.9L102.2 192.9M102.2 192.9L103.1 195.2M103.1 195.2L105.5 194.7M105.5 194.7L105.9 192.2M105.9 192.2L108.1 191.1M108.1 191.1L110 189.5M110 189.5L112.5 189.5M115.4 189.4L117.4 190.9M117.4 190.9L119 192.8M119 192.8L119.3 195.3M119.3 195.3L121.6 194.3M121.6 194.3L123.7 195.8M123.7 195.8L124 198.2M124 198.2L125.9 199.8M125.9 199.8L128 201.2M128 201.2L126.8 203.4M126.8 203.4L124.4 202.5M124.4 202.5L122.2 201.4M122.2 201.4L121 199.2M128 201.2L130.3 200.3M130.3 200.3L132.8 200.6M132.8 200.6L133.6 203M115.5 149.3L116.7 147.1M116.7 147.1L118.5 145.4M118.5 145.4L120.4 147.1M120.4 147.1L122.6 148.4M122.6 148.4L124.7 147M124.7 147L126.9 145.9M126.9 145.9L128.7 144.2M128.7 144.2L129.5 146.6M129.5 146.6L128.1 148.7M115.5 149.3L113.3 150.5M113.3 150.5L115.5 151.8M115.5 151.8L118 151.6M118 151.6L119.6 149.8M162.5 97.4L164.2 99.2M164.2 99.2L165.9 97.3M165.9 97.3L166.3 94.9M166.3 94.9L167.8 92.9M162.5 97.4L160.3 98.6M160.3 98.6L157.9 97.6M157.9 97.6L155.6 96.8M155.6 96.8L156.9 94.7M156.9 94.7L159.3 94.1M123.4 79.4L124.8 77.3M123.4 79.4L123.6 81.8M200.1 45.7L201.2 48M201.2 48L201.5 50.4M201.5 50.4L199.7 52.2M199.7 52.2L200.3 54.6M200.3 54.6L200.2 57.1M200.2 57.1L202.6 57.6M202.6 57.6L203.7 55.3M203.7 55.3L202.7 53.1M202.7 53.1L204.8 51.8M204.8 51.8L206.8 50.3M206.8 50.3L209.3 49.7M209.3 49.7L210.8 47.7M210.8 47.7L211.9 50M211.9 50L214.2 50.8M214.2 50.8L215.9 52.6M215.9 52.6L217.8 51.1M217.8 51.1L218.8 48.8M218.8 48.8L221.3 48.2M221.3 48.2L222.3 46M222.3 46L220.1 44.8M200.1 45.7L198.2 47.3M198.2 47.3L198.1 49.8M198.1 49.8L195.6 49.9M195.6 49.9L193.2 50.7M193.2 50.7L190.9 49.6M190.9 49.6L189.5 47.6M189.5 47.6L190.7 45.4M190.7 45.4L192 43.3M192 43.3L193.8 41.6M193.8 41.6L195.6 43.4M195.6 43.4L198 43M198 43L197 40.7M197 40.7L195.6 38.6M195.6 38.6L195.3 36.2M195.3 36.2L193 37.1M193 37.1L192.8 34.7M192.8 34.7L190.5 35.7M190.5 35.7L188.4 37.1M188.4 37.1L186.9 39M186.9 39L184.7 40.3M184.7 40.3L183.5 42.5M183.5 42.5L183 44.9M183 44.9L182.4 47.3M182.4 47.3L184.9 47.4M184.9 47.4L187.3 46.6M187.3 46.6L188.1 44.3M188.1 44.3L187 42.1M197 40.7L197.9 38.4M197.9 38.4L200.1 39.7M200.1 39.7L202.6 40M202.6 40L203.3 42.3M203.3 42.3L202.8 44.8M202.8 44.8L204.9 46.1M204.9 46.1L204 48.4M133.5 117L131.4 115.6M131.4 115.6L129.6 113.8M129.6 113.8L130.6 111.5M130.6 111.5L131 109.1M131 109.1L132.2 106.9M132.2 106.9L129.7 106.9M129.7 106.9L127.2 107.4M127.2 107.4L125.4 109M125.4 109L123.6 110.8M123.6 110.8L123.7 113.3M123.7 113.3L125.8 112.1M125.8 112.1L128.1 111M133.5 117L135 118.9M135 118.9L136.5 116.9M136.5 116.9L139 116.8M79.2 54L81.7 54M81.7 54L82.7 51.7M82.7 51.7L80.7 50.3M80.7 50.3L82.2 48.3M82.2 48.3L79.7 48M79.7 48L77.3 47.7M77.3 47.7L74.9 48.5M74.9 48.5L72.4 48.5M72.4 48.5L72.4 51M72.4 51L72.7 53.4M72.7 53.4L75.2 53.3M79.2 54L77.3 55.6M77.3 55.6L78.9 57.6M78.9 57.6L80.6 59.4M80.6 59.4L83.1 59.7M83.1 59.7L85.5 60.3M85.5 60.3L87.9 59.4M87.9 59.4L90 60.7M90 60.7L91.9 62.4M91.9 62.4L92.8 64.6M147.8 127.9L147.9 125.4M147.9 125.4L147.5 123M147.5 123L148.2 120.6M147.8 127.9L150.2 127.3M149.9 50.5L151.7 52.3M151.7 52.3L152.3 49.9M152.3 49.9L151.6 47.5M151.6 47.5L151.2 45M151.2 45L153 43.3M153 43.3L150.7 42.5M150.7 42.5L148.5 43.9M148.5 43.9L147 45.8M147 45.8L147.6 48.3M147.6 48.3L145.3 49.2M145.3 49.2L143.1 50.5M143.1 50.5L140.8 51.2M140.8 51.2L141.8 53.5M149.9 50.5L147.9 52M147.9 52L145.5 52.7M130.5 66.2L129.7 68.6M129.7 68.6L132.2 68.1M130.5 66.2L128.1 65.5M128.1 65.5L125.9 64.3M125.9 64.3L123.5 63.5M123.5 63.5L124.6 61.2M209.1 126.5L211.2 127.9M211.2 127.9L213.7 128M213.7 128L216.1 127.2M216.1 127.2L218.4 128.1M218.4 128.1L217.2 130.3M217.2 130.3L217.1 132.8M217.1 132.8L215.4 134.6M215.4 134.6L213.1 133.8M213.1 133.8L210.5 133.7M210.5 133.7L209.3 131.6M209.3 131.6L211.7 130.8M211.7 130.8L214.2 131M89.1 182.6L87.1 184.2M87.1 184.2L85 182.8M120 184.4L118.5 182.4M118.5 182.4L117.5 180.1M117.5 180.1L119.7 178.9M119.7 178.9L122.2 179.4M122.2 179.4L124.1 181M124.1 181L126.2 179.7M126.2 179.7L128.7 179.6M128.7 179.6L129.1 177.1M129.1 177.1L126.6 176.9M126.6 176.9L124.4 175.7M128.7 179.6L129.3 182M129.3 182L131.8 182M131.8 182L132.8 179.7M120 184.4L122.3 185.3M122.3 185.3L121.8 182.9M171.9 86.3L173.3 88.4M173.3 88.4L174.5 86.2M174.5 86.2L174.3 83.7M174.3 83.7L175 81.3M175 81.3L177.4 80.7M171.9 86.3L172 83.8M172 83.8L170.6 81.7M170.6 81.7L172.4 80M104.6 180L104.9 177.5M104.9 177.5L102.9 176M102.9 176L100.5 176.6M100.5 176.6L98.9 178.5M98.9 178.5L99.4 181M99.4 181L100.8 183M100.8 183L102.5 181.2M102.5 181.2L103.6 183.4M103.6 183.4L104.1 185.9M104.1 185.9L106.4 184.8M106.4 184.8L107.9 182.8M107.9 182.8L109.2 180.7M220.8 64.9L220.8 62.4M220.8 62.4L223.3 62.5M223.3 62.5L225.7 61.8M220.8 64.9L220.7 67.4M243.9 66.7L245.7 68.4M245.7 68.4L246.2 70.9M246.2 70.9L244.8 72.9M244.8 72.9L242.4 73.6M242.4 73.6L239.9 73.4M239.9 73.4L239 71.1M239 71.1L241.3 70M241.3 70L239.3 68.5M239.3 68.5L240.2 66.1M240.2 66.1L238.9 64M238.9 64L240.3 61.9M240.3 61.9L242.7 61.3M242.7 61.3L243.7 59.1M243.7 59.1L246.1 58.6M246.1 58.6L245.3 56.2M245.3 56.2L245.9 53.8M245.9 53.8L246.6 51.5M243.9 66.7L246.3 66M246.3 66L247.2 63.7M247.2 63.7L246.9 61.2M246.9 61.2L244.8 62.5M244.8 62.5L242.8 64.1M74.9 140.8L76.5 138.9M76.5 138.9L77.9 140.9M77.9 140.9L80.4 141.4M80.4 141.4L82.7 140.4M82.7 140.4L83.9 142.5M83.9 142.5L83.7 145M83.7 145L83 147.4M83 147.4L84.8 149.1M74.9 140.8L73.7 143M73.7 143L72.6 145.2M72.6 145.2L72.8 147.7M72.8 147.7L75.1 148.7M200.8 141.7L201.9 139.5M201.9 139.5L203.1 137.3M203.1 137.3L204.3 135.2M204.3 135.2L206.7 136M206.7 136L207.5 138.4M207.5 138.4L206 140.4M206 140.4L207.4 142.4M207.4 142.4L209.9 142.3M209.9 142.3L209.7 139.8M209.7 139.8L211.8 138.4M211.8 138.4L213.1 136.3M213.1 136.3L214.5 138.4M214.5 138.4L213.6 140.8M213.6 140.8L213.2 143.2M213.2 143.2L213.8 145.6M213.8 145.6L213.7 148.1M213.7 148.1L215.6 149.7M207.5 138.4L209.5 136.9M200.8 141.7L198.4 142.7M198.4 142.7L196.3 141.3M196.3 141.3L194 140.5M194 140.5L191.5 140.5M191.5 140.5L192.4 138.2M192.4 138.2L191.1 136.1M191.1 136.1L188.8 137.1M188.8 137.1L186.6 138.2M186.6 138.2L185.9 135.8M131.3 138L133.6 139M133.6 139L133.7 141.5M133.7 141.5L133.5 144M133.5 144L136 143.5M133.5 144L133.7 146.5M133.7 146.5L136.1 146.8M131.3 138L128.8 137.8M128.8 137.8L126.4 137.1M126.4 137.1L124.1 136M124.1 136L121.6 135.9M121.6 135.9L119.3 136.8M159 38.9L161 37.3M161 37.3L159 35.8M159 35.8L157.2 34M157.2 34L158.7 32M158.7 32L156.3 31.4M156.3 31.4L153.8 31.8M153.8 31.8L151.4 32.5M151.4 32.5L149 33.2M149 33.2L146.6 32.5M146.6 32.5L144.9 34.4M144.9 34.4L142.7 35.6M142.7 35.6L142.3 38.1M142.3 38.1L142.3 40.6M142.3 40.6L139.9 41.2M139.9 41.2L137.4 40.7M137.4 40.7L135.2 41.8M135.2 41.8L133.5 43.7M133.5 43.7L131.1 44.2M159 38.9L156.6 38.3M156.6 38.3L156.4 40.7M156.4 40.7L154 40.4M154 40.4L153.8 37.9M153.8 37.9L154.4 35.5M154.4 35.5L151.9 34.8M125 142.8L123.9 140.6M123.9 140.6L121.6 139.7M121.6 139.7L119.1 139.3M119.1 139.3L118.8 141.8M118.8 141.8L120.5 143.6M120.5 143.6L122.9 144.3M125 142.8L126.6 140.8M219.2 204.3L217.4 202.6M245.2 86.2L243 85M243 85L242.3 82.6M242.3 82.6L243.8 80.7M243.8 80.7L245.8 79.1M245.8 79.1L246.6 76.8M245.2 86.2L245.5 83.7M245.5 83.7L246.5 81.4M168.8 34.1L166.8 32.6M166.8 32.6L169 31.5M192.2 115.5L191.1 113.3M191.1 113.3L191 110.8M191 110.8L191 108.3M192.2 115.5L191.5 117.9M191.5 117.9L192.6 120.2M192.6 120.2L193.2 122.6M193.2 122.6L191.5 124.3M191.5 124.3L192.5 126.6M192.5 126.6L194.6 127.9M194.6 127.9L194.4 130.3M194.4 130.3L196.9 130.7M196.9 130.7L199 132.1M199 132.1L197.4 134M197.4 134L198.1 136.4M162.9 52.9L163.3 50.5M163.3 50.5L165 48.7M165 48.7L164.8 46.2M164.8 46.2L162.5 45.2M162.5 45.2L160.5 46.7M160.5 46.7L160.4 49.1M160.4 49.1L158.9 51.1M158.9 51.1L157.1 52.8M157.1 52.8L154.6 52.6M154.6 52.6L154.3 55M154.3 55L156.2 56.6M156.2 56.6L157.4 58.7M157.4 58.7L159.9 58.6M159.9 58.6L162.4 58.1M162.4 58.1L161.3 55.8M161.3 55.8L160 53.7M162.9 52.9L164.7 54.7M164.7 54.7L165.8 56.9M165.8 56.9L166.3 59.3M166.3 59.3L164.4 60.9M164.4 60.9L163.1 63M163.1 63L161.2 64.7M161.2 64.7L160.4 67M160.4 67L159 69.1M159 69.1L156.6 68.6M156.6 68.6L154.2 67.8M154.2 67.8L152 66.6M152 66.6L152.7 64.2M152.7 64.2L155.1 63.5M155.1 63.5L157.4 62.4M157.4 62.4L158.7 64.5M158.7 64.5L156.6 65.9M246.1 202.8L243.9 204.1M243.9 204.1L241.5 203.4M241.5 203.4L241 200.9M241 200.9L243.2 199.8M243.2 199.8L245.6 200.4M235.7 176.7L233.7 175.2M233.7 175.2L235.4 173.4M235.4 173.4L237.4 175M237.4 175L239.2 173.2M239.2 173.2L241.4 174.3M241.4 174.3L241.8 176.7M241.8 176.7L239.4 177.4M235.7 176.7L236.5 179M236.5 179L238.4 180.7M141.3 168.8L138.9 169.7M138.9 169.7L136.5 169.2M141.3 168.8L142.5 170.9M142.5 170.9L141.3 173.1M107.4 55.4L105.7 53.6M105.7 53.6L103.9 55.4M103.9 55.4L102.5 57.5M102.5 57.5L103.3 59.8M103.3 59.8L103.7 62.3M103.7 62.3L106.2 62.7M106.2 62.7L104.9 64.8M104.9 64.8L103.1 66.6M103.1 66.6L102 64.3M107.4 55.4L108.7 53.3M108.7 53.3L110.4 51.4M110.4 51.4L109.2 49.2M109.2 49.2L108.1 47M108.1 47L105.9 45.8M105.9 45.8L107.4 43.8M107.4 43.8L108.3 41.5M108.3 41.5L109.8 39.4M105.9 76.2L106.2 73.7M106.2 73.7L108.6 74.4M108.6 74.4L111 73.7M111 73.7L111 76.2M111 76.2L113.1 77.4M113.1 77.4L113.3 79.9M113.3 79.9L112.3 82.2M112.3 82.2L109.8 81.8M109.8 81.8L107.3 81.9M107.3 81.9L104.9 82.8M104.9 82.8L103.6 84.9M103.6 84.9L102.8 87.2M102.8 87.2L100.3 86.9M100.3 86.9L97.8 87.2M97.8 87.2L96.4 89.2M96.4 89.2L98 91.2M98 91.2L99.6 93.1M166.4 196.1L166.7 198.6M166.7 198.6L169.1 199M169.1 199L171.6 199.1M171.6 199.1L173.6 197.6M173.6 197.6L174 195.2M166.4 196.1L164.1 197.2M164.1 197.2L162.7 195.2M245.9 137.7L244.3 139.6M244.3 139.6L241.8 140.1M241.8 140.1L240.3 138.1M240.3 138.1L242.8 137.8M245.9 137.7L246.9 135.4M246.9 135.4L246.5 133M246.5 133L244.2 132M244.2 132L244.2 129.5M244.2 129.5L244.5 127M244.5 127L245.1 124.6M245.1 124.6L245.6 122.1M245.6 122.1L243.1 121.6M243.1 121.6L241.6 123.5M241.6 123.5L241.1 126M241.1 126L240.4 128.3M139.8 202.7L141.8 204.1M139.8 202.7L137.2 202.7M234.1 58L231.7 57.2M234.1 58L234.7 60.4M234.7 60.4L234.2 62.9M185 164.4L183 165.9M183 165.9L181.9 163.7M181.9 163.7L182.3 161.2M182.3 161.2L184.3 159.7M184.3 159.7L186.7 158.9M186.7 158.9L189.2 159M189.2 159L191.6 158.7M191.6 158.7L192.8 160.9M192.8 160.9L191.7 163.2M191.7 163.2L193.5 164.9M193.5 164.9L192.9 167.3M192.9 167.3L191.6 169.4M191.6 169.4L191 171.8M191 171.8L193.3 172.6M193.3 172.6L195.3 171.1M185 164.4L187 163M187 163L189.4 162.2M189.4 162.2L189.9 164.6M189.9 164.6L188.8 166.8M196 193.4L195.1 191.1M195.1 191.1L192.7 192M192.7 192L190.6 193.3M190.6 193.3L189.4 195.5M189.4 195.5L187.6 197.3M187.6 197.3L185.2 197.8M185.2 197.8L182.7 197.9M196 193.4L198.4 193M155.8 126L153.3 126M153.3 126L152.5 128.3M152.5 128.3L151.6 130.7M151.6 130.7L149.1 130.4M149.1 130.4L149.6 132.9M149.6 132.9L151.5 134.5M151.5 134.5L149 135.1M149 135.1L146.5 135.3M146.5 135.3L147.5 137.6M155.8 126L155.6 128.4M155.6 128.4L157.3 130.3M157.3 130.3L155.4 131.9M155.4 131.9L156.4 134.2M156.4 134.2L154.3 135.7M176.8 160.6L177.1 158.1M177.1 158.1L174.9 159.2M174.9 159.2L172.4 159.2M172.4 159.2L173.7 157.1M173.7 157.1L175.6 155.5M175.6 155.5L176.9 153.3M176.9 153.3L177.7 151M177.7 151L175.6 149.6M175.6 149.6L173.6 148.1M173.6 148.1L173.5 145.6M173.5 145.6L173.1 143.1M173.1 143.1L170.9 141.9M170.9 141.9L168.7 143M168.7 143L168.1 145.5M168.1 145.5L169.9 147.2M169.9 147.2L168.7 149.4M176.8 160.6L179.3 160.3M139.9 163.9L142 162.6M142 162.6L139.9 161.3M139.9 161.3L138.8 159.1M138.8 159.1L139 156.6M139 156.6L138.5 154.2M138.5 154.2L140.7 153M140.7 153L143.2 153.1M143.2 153.1L143.3 150.7M143.3 150.7L140.8 150.7M140.8 150.7L138.4 151.3M138.4 151.3L137.1 149.2M137.1 149.2L135.7 151.2M143.3 150.7L145.5 149.5M145.5 149.5L147.5 151M147.5 151L148.6 153.2M148.6 153.2L150.9 154.2M150.9 154.2L153.4 154.4M153.4 154.4L155.8 153.4M155.8 153.4L157.9 152.1M157.9 152.1L159.5 154.1M159.5 154.1L157.8 155.9M157.8 155.9L155.3 156.2M155.3 156.2L153.2 157.5M153.2 157.5L150.7 156.8M157.9 152.1L157.6 149.7M157.6 149.7L155.2 150.4M155.2 150.4L153.1 149M153.1 149L150.6 149.4M139.9 163.9L141.2 166.1M141.2 166.1L143.3 167.4M143.3 167.4L144.5 169.6M144.5 169.6L146.4 171.3M140 31.4L137.5 31.4M137.5 31.4L135 30.9M135 30.9L132.6 31.7M132.6 31.7L130.2 32.2M130.2 32.2L127.7 32.1M190.8 94.6L189.8 92.3M189.8 92.3L187.6 91.1M187.6 91.1L185.4 90M190.8 94.6L191 97.1M191 97.1L192.6 99M192.6 99L192.6 101.5M104.5 30.8L102 30.7M102 30.7L99.5 31.1M99.5 31.1L97.1 30.3M104.5 30.8L106.3 32.6M106.3 32.6L103.9 33.3M98.4 37.8L95.9 37.4M95.9 37.4L93.4 37.8M93.4 37.8L95.1 39.6M95.1 39.6L92.8 40.4M98.4 37.8L98.8 40.3M98.8 40.3L100.7 41.8M100.7 41.8L103.2 42M103.2 42L105.6 41.1M105.6 41.1L104.1 39M104.1 39L101.6 39M243.5 117.1L242.9 114.7M242.9 114.7L241.1 116.4M241.1 116.4L241.3 118.9M243.5 117.1L245.4 115.5M245.4 115.5L246.2 117.9M246.2 117.9L244.2 119.4M218.7 148.1L220.3 150.1M220.3 150.1L222.6 151.1M222.6 151.1L222.7 153.5M222.7 153.5L222.6 156M222.6 156L221.1 158M221.1 158L219.8 155.9M219.8 155.9L218 157.5M218 157.5L217.4 160M217.4 160L215.2 161M215.2 161L212.7 161.4M212.7 161.4L210.5 162.6M210.5 162.6L208 162M218.7 148.1L216.4 147.1M237.8 146.3L240.3 146.7M237.8 146.3L238.5 143.9M238.5 143.9L239.8 141.8M247 144.6L246.1 142.3M247 144.6L246.2 147M86.3 128.7L87.4 131M87.4 131L88.3 133.3M86.3 128.7L86.9 126.3M160.9 109.2L158.5 109.5M158.5 109.5L159.3 111.9M159.3 111.9L156.9 111.3M160.9 109.2L163.2 110.2M163.2 110.2L164.2 112.5M164.2 112.5L163.3 114.8M158 187.5L157 189.8M158 187.5L156.7 185.3M156.7 185.3L159.2 185.1M159.2 185.1L161.3 186.5M161.3 186.5L163.7 185.7M163.7 185.7L165.8 187.1M165.8 187.1L167.7 185.5M167.7 185.5L170.1 184.6M103 124.7L104.2 126.9M104.2 126.9L106.5 126.1M106.5 126.1L106.4 128.6M103 124.7L102.6 122.2M102.6 122.2L100.8 120.5M100.8 120.5L98.4 121.1M98.4 121.1L96.6 119.3M96.6 119.3L94.2 120M94.2 120L94.1 122.5M94.1 122.5L93.4 124.9M93.4 124.9L91.2 123.7M94.2 120L91.9 121.1M91.9 121.1L89.5 120.7M89.5 120.7L87.2 119.6M105.4 49.5L103 48.6M103 48.6L101.2 50.2M101.2 50.2L101.7 52.7M101.7 52.7L100.8 55M105.4 49.5L107.4 50.9M166.5 71.9L168.8 70.8M168.8 70.8L169.4 68.3M169.4 68.3L171.8 67.9M171.8 67.9L174.2 68.6M174.2 68.6L176.2 67.1M176.2 67.1L178.7 66.8M178.7 66.8L180.5 65M180.5 65L180 62.6M180 62.6L182.2 61.3M75.6 126.8L74.4 124.6M74.4 124.6L72.3 123.3M72.3 123.3L72.7 120.8M72.7 120.8L74.1 118.8M74.1 118.8L75.6 116.8M75.6 116.8L74.2 114.7M74.2 114.7L72.8 116.7M75.6 126.8L74.6 129M74.6 129L76.9 129.9M76.9 129.9L76.9 132.4M76.9 132.4L79 133.7M79 133.7L81.2 134.9M81.2 134.9L83.6 135.6M83.6 135.6L81.7 137.3M81.7 137.3L79.8 138.9M79.8 138.9L78.2 137.1M78.2 137.1L76.7 135M76.7 135L74.3 135.4M74.3 135.4L73.5 137.8M76.9 129.9L79.1 131.1M79.1 131.1L81.5 130.3M81.5 130.3L83.8 129.3M83.8 129.3L84.9 131.5M84.9 131.5L85.4 134M218.5 90.4L219.8 92.6M219.8 92.6L220.8 94.8M220.8 94.8L223.3 95.1M218.5 90.4L216.2 89.4M216.2 89.4L216 91.9M216 91.9L215.9 94.4M215.9 94.4L218.4 94.6M244.8 96.4L245.4 93.9M245.4 93.9L242.9 93.7M242.9 93.7L241.5 95.8M241.5 95.8L239 95.9M239 95.9L237.6 93.8M237.6 93.8L238.4 91.5M238.4 91.5L237.4 89.2M237.4 89.2L238.8 87.2M238.8 87.2L240.5 85.4M240.5 85.4L239.4 83.2M239.4 83.2L240.4 80.9M240.4 80.9L238.8 79M238.8 79L240.9 77.6M244.8 96.4L245.1 98.8M245.1 98.8L246.8 100.7M137.6 73.7L135.2 72.9M135.2 72.9L134.2 75.2M134.2 75.2L132.4 76.9M132.4 76.9L134.7 77.9M134.7 77.9L134.4 80.3M137.6 73.7L139.9 74.6M139.9 74.6L139.8 77.1M139.8 77.1L137.4 77.6M152.2 58.7L153 61M153 61L154.9 59.3M152.2 58.7L150.6 56.8M150.6 56.8L148.6 58.3M165.3 164.9L163 164M163 164L160.5 164M160.5 164L158.1 163.1M158.1 163.1L155.7 163.6M155.7 163.6L153.3 164.3M153.3 164.3L152.2 166.6M152.2 166.6L153.4 168.8M153.4 168.8L154.6 171M164.8 132.2L164.5 129.7M164.5 129.7L166.5 128.3M166.5 128.3L165.4 126.1M165.4 126.1L163 125.6M163 125.6L160.9 127M160.9 127L158.5 127.7M164.8 132.2L165.5 134.6M150.1 75.4L152.5 76.3M152.5 76.3L154 74.3M154 74.3L156.3 75.3M156.3 75.3L157.6 73.2M157.6 73.2L159 75.3M156.3 75.3L155.1 77.5M202 146.3L199.8 145.1M199.8 145.1L197.4 145.5M197.4 145.5L196.7 147.9M196.7 147.9L195.8 150.2M195.8 150.2L193.8 151.7M193.8 151.7L195.7 153.3M195.7 153.3L197.9 152M197.9 152L199.7 150.3M202 146.3L203.8 148M203.8 148L206 146.7M206 146.7L208 145.3M208 145.3L209.5 147.3M210.6 175.9L213.1 175.7M213.1 175.7L215.4 176.8M215.4 176.8L215.7 174.3M215.7 174.3L217.9 175.5M217.9 175.5L219.2 177.7M210.6 175.9L210.1 178.3M210.1 178.3L207.9 177.1M207.9 177.1L207.6 179.6M207.6 179.6L209.3 181.4M209.3 181.4L211.2 183M211.2 183L213.1 184.7M123.2 169.7L122.7 172.2M123.2 169.7L120.7 169.2M120.7 169.2L120.6 166.7M120.6 166.7L120.2 164.2M120.2 164.2L122.4 163M122.4 163L120.4 161.5M120.4 161.5L118 160.8M104.2 114.6L103.4 112.2M103.4 112.2L103.1 109.7M103.1 109.7L105 108.1M105 108.1L104.8 105.6M104.8 105.6L104.8 103.1M104.8 103.1L102.4 102.2M102.4 102.2L104.2 100.5M104.2 100.5L104.6 98M104.2 114.6L106.7 114.8M106.7 114.8L107 112.4M78.8 84.3L81.3 84.9M81.3 84.9L83.8 84.9M78.8 84.3L76.4 84.7M76.4 84.7L77.3 82.5M140.4 46.4L142.9 46.2M142.9 46.2L141.7 44M141.7 44L139.2 44.3M139.2 44.3L137.3 45.9M140.4 46.4L141.8 48.4M211.3 65.7L208.8 65.7M208.8 65.7L208.7 63.2M208.7 63.2L210.6 61.5M210.6 61.5L213 60.8M213 60.8L214.8 62.5M211.3 65.7L212.6 63.6M235.2 144.2L234.3 146.5M234.3 146.5L231.8 146.1M231.8 146.1L230.8 143.8M230.8 143.8L229.6 141.6M198 96.7L198.7 99.1M198 96.7L200.5 96.9M200.5 96.9L202.4 95.4M202.4 95.4L200.4 93.9M200.4 93.9L198 93.6M198 93.6L196.1 95.2M196.1 95.2L193.8 94.4M193.8 94.4L194 96.8M194 96.8L195 99.1" stroke="#e65470" stroke-width="1.7" stroke-linecap="round" fill="none"/>
<path d="M97.8 51.3h0M126.4 171.9h0M104.2 131.4h0M183.8 95.3h0M167.9 41.8h0M83.1 66.5h0M191 104.8h0M127.3 132.1h0M151.5 82.7h0M210.8 151.7h0M115.2 130.2h0M164 182.1h0M199.5 80.7h0M243.1 51.3h0M145.4 161.7h0M99.2 115.4h0M79.6 146.4h0M205.6 129.9h0M224.9 85.1h0M193.6 133.6h0M173.5 109.7h0M218.7 194.1h0M155.1 145.7h0M83.3 152.1h0M185.2 202.5h0M215.6 80.1h0M139.8 146.4h0M76.7 110.7h0M83 163.6h0M95.2 73.7h0M140.7 181.4h0M86.8 108.5h0M215.1 180.2h0M121.1 102.7h0M135.1 183.7h0M239.2 57h0M103.4 71h0M113.3 114.7h0M175.1 76.3h0M73.5 103.3h0M136.9 128.8h0M238.4 150.2h0M162.3 137.6h0M190.3 40.3h0M229.1 165.7h0M140.9 99.9h0M90.7 140.5h0M83.6 42.6h0M109 59h0M131.9 40h0M72.8 57.1h0M90.4 93.7h0M77.2 181.9h0M133.1 93.8h0M94.1 177.6h0M245.3 111.4h0M156.8 45.8h0M118.8 174.1h0M100.8 34.9h0M238 122.2h0M98.2 124.8h0M77.5 122.2h0M242.8 180h0M193.7 76h0M136.5 59.8h0M206.9 122.9h0M208.1 87.9h0M111.5 171.1h0M212.8 172.3h0M201.3 70.1h0M162.7 92.4h0M77.8 35.8h0M121.3 75.7h0M193.1 196.1h0M150.5 192.8h0M244.5 195.9h0M136.1 69h0M112.2 64.9h0M108.3 138.7h0M218.8 113.8h0M186.2 169.1h0M87.5 145h0M203.1 113.5h0M103.8 167.2h0M241.6 99.3h0M142.5 194.5h0M198.7 60.3h0M94.8 57.1h0M98.2 173.7h0M243.1 144.5h0M95.5 33.4h0M164.3 192.2h0M148.1 181.5h0M216.3 67.4h0M116.5 81.5h0M95.5 188.1h0M134.2 110.1h0M174.1 187.1h0M145.9 189.4h0M159.9 122.8h0M163.7 34.2h0M149.2 62.6h0M73.4 169h0M198.8 127.1h0M129.4 120.5h0M169.3 166.4h0M91.2 127.7h0M231.3 107.5h0M179.2 118.3h0M161.8 150.6h0M151.4 123h0M194.3 182.3h0M236.5 75.8h0M170 193.9h0M218.7 54.6h0M93.9 107.3h0M85.4 72.5h0M209 185.9h0M99.6 154.6h0M187.5 55.6h0M226.2 198h0M110.9 195.5h0M142 115.1h0M244.8 174.7h0M100.8 105.5h0M106.8 86h0M198.3 34.3h0M75.9 88.2h0M83.9 201.1h0M209.8 198.8h0M119.8 53.3h0M171.9 151.9h0M85.3 193h0M87.3 178.8h0M131.7 126.5h0M114.2 49.8h0M125.8 162.1h0M123.1 117.3h0M103.7 90.9h0M75.9 74.2h0M75.4 157.6h0M168.5 63.7h0M91.2 172.4h0M147.9 116.4h0M217.8 98.8h0M243.5 90.1h0M217.4 153h0M183.3 100.8h0M95.3 43.2h0M101.1 45.5h0" stroke="#3c1a86" stroke-width="2.6" stroke-linecap="round" fill="none"/>
<path d="M219.5 181.8h0M223.7 179.7h0M224.6 182h0M224.7 184.5h0M222.9 186.2h0M222 188.5h0M222.6 190.9h0M224.6 195h0M222.3 196h0M222.8 175.3h0M222.5 172.8h0M220.2 171.9h0M217.8 171.1h0M218.1 168.7h0M216.4 166.8h0M218.2 165h0M220.1 163.5h0M222 165.2h0M224.4 166h0M225 163.6h0M222.1 161h0M226 158.9h0M218 183.8h0M216.8 186h0M217.3 188.5h0M193.3 147.9h0M190.7 150h0M189.6 152.2h0M189 154.6h0M184.9 156.2h0M181.6 156.7h0M179.4 155.6h0M180.1 153.2h0M180.8 148h0M178.3 148h0M176.7 146.1h0M178.2 144.1h0M175.9 143h0M175.4 140.6h0M176.5 138.3h0M176.8 135.4h0M176.1 132.1h0M173.7 132.9h0M171.5 131.8h0M172.5 129.5h0M179.6 131.3h0M182 130.8h0M178.4 126.5h0M176.3 125.1h0M174.2 123.8h0M172.5 122h0M170 122.1h0M167.5 121.9h0M165.8 120h0M164 118.3h0M159.1 118.1h0M193.9 145.5h0M192.8 143.2h0M190.4 143.7h0M187.9 144.1h0M186.2 146.6h0M182.9 146.1h0M183.6 143.7h0M181.6 142.2h0M183.6 139.2h0M228.9 45h0M224.5 42.7h0M222.1 41.8h0M220.5 39.9h0M218.6 38.3h0M214.1 39.1h0M213 41.3h0M210.6 41.9h0M208.1 42.4h0M207.9 44.9h0M212.9 45.2h0M215.4 45.1h0M217.9 45.6h0M224.8 47.8h0M226.6 52.4h0M227.6 54.7h0M228.4 57h0M226.8 58.9h0M221.9 59.8h0M220.7 57.6h0M224.6 55.2h0M81.5 34.3h0M80.3 32.1h0M77.9 31.5h0M75.4 31.9h0M83.6 32.9h0M85.8 31.7h0M86.6 34.1h0M85.5 36.3h0M90.7 36.3h0M91.7 34h0M91.4 31.6h0M175.4 174.4h0M174.8 176.8h0M176.6 178.5h0M176.9 183.3h0M179.3 183.9h0M181.5 182.8h0M182.8 180.7h0M184.9 176.2h0M185.5 173.8h0M183.6 172.2h0M181.4 171.1h0M180.5 168.8h0M179.5 166.5h0M177.2 167.5h0M172.7 167.3h0M172.5 164.8h0M170.7 163.1h0M168.9 161.4h0M166.4 161.2h0M165.6 158.8h0M168.1 158.4h0M178.3 175.1h0M179.4 177.4h0M179.5 179.9h0M171.5 171.3h0M169.2 170.2h0M167.6 172.1h0M165.2 172.9h0M162.3 168.9h0M157.4 167.5h0M157.5 172.3h0M159.6 177.6h0M158.2 179.7h0M156.7 181.7h0M154.4 182.8h0M153.3 187.6h0M152.3 189.9h0M153.8 191.8h0M158.8 192.3h0M159.8 194.5h0M160.8 199.4h0M110.2 99.8h0M108 100.9h0M108.1 96.5h0M104.6 94.6h0M100.3 96.3h0M96.6 96.1h0M95.2 94h0M94.1 91.7h0M92.3 90h0M90.7 88.1h0M94.6 85h0M97 84.3h0M97.3 81.9h0M94.9 79.6h0M94.9 77.1h0M97.4 77h0M99.2 75.3h0M100.4 77.5h0M100.2 80h0M96.5 99.6h0M94.4 100.8h0M92.7 98.9h0M90.3 98.2h0M88 97.3h0M85.5 97.5h0M85.1 100h0M82.6 99.5h0M80.4 98.3h0M78 97.8h0M77.1 100.1h0M74.9 98.9h0M72.6 97.9h0M72.5 95.4h0M73.7 93.2h0M72.3 91.1h0M72.3 88.6h0M72.4 86.1h0M74.5 81.8h0M74 79.4h0M76.5 78.9h0M89.5 79.2h0M92 79.6h0M89 82.6h0M87.2 85.9h0M82.8 89.4h0M80.3 88.9h0M80.1 74.4h0M80.4 71.9h0M81.2 69.6h0M79.4 67.8h0M77.3 69.1h0M75.3 67.5h0M74.5 65.2h0M75.8 63h0M113.8 97.7h0M114.3 100.1h0M115.8 102.1h0M115.6 104.6h0M113.1 104.4h0M111.1 103h0M108.7 103.8h0M107.3 105.9h0M210.3 35.6h0M208.5 37.4h0M206.3 36.2h0M204.6 34.4h0M202.3 33.3h0M212.8 36h0M217.3 34.1h0M217 31.6h0M219.5 31.2h0M223.9 32.9h0M225.9 31.5h0M228.3 30.7h0M230.4 32.1h0M232.4 33.6h0M234.8 32.9h0M237.2 32.1h0M239.7 32.3h0M242.1 32.6h0M244.6 32h0M226.8 74.1h0M225 75.9h0M226.1 78.1h0M227.6 80.1h0M229.9 79h0M232.3 79.8h0M234.8 80h0M236.4 81.9h0M235.2 84h0M233 85.3h0M230.5 84.9h0M95.1 141.8h0M94 144h0M92.3 145.8h0M94 147.6h0M102.7 148h0M105.2 148.5h0M107.5 147.6h0M108.2 145.2h0M105.7 145.2h0M103.3 144.6h0M98.9 142.4h0M100.1 140.2h0M102.5 139.5h0M101.5 134.6h0M96.6 128.9h0M92.5 133.6h0M90 135.7h0M87.6 136.4h0M87 138.8h0M84.5 138.5h0M157 138.8h0M158.3 140.9h0M157.9 143.4h0M159.5 145.3h0M161.6 146.7h0M164.1 146.2h0M165.6 148.1h0M165.4 150.6h0M164.3 152.9h0M162.5 154.5h0M161.7 156.9h0M160.3 159h0M157.8 159h0M154.1 160.4h0M151.8 161.4h0M149.1 168.3h0M149.6 170.8h0M155.7 176.8h0M154.8 179.1h0M152.3 178.6h0M150.2 176.1h0M154.6 139.5h0M152.1 139h0M150.2 140.6h0M148.5 142.4h0M146.5 143.8h0M146.2 146.3h0M148.5 147.4h0M150.9 146.7h0M203.4 185.7h0M202.1 190.4h0M198.3 188.7h0M195.1 187.6h0M192.6 187.8h0M190.7 189.3h0M188.9 187.6h0M187.5 185.5h0M186.3 183.3h0M187.4 181.1h0M189.6 178.3h0M190.2 180.7h0M201.7 180.5h0M203.7 179h0M206 174.9h0M205.4 172.5h0M203.3 173.9h0M201.1 172.7h0M202.2 170.5h0M199.9 169.6h0M196 167.5h0M198.3 166.5h0M198.9 164.1h0M201.2 163.3h0M201.7 167h0M205.1 169.4h0M207.4 170.5h0M209.9 170.6h0M210.1 168.1h0M209 165.8h0M205.5 163.5h0M205.9 158.7h0M208.2 157.7h0M206.6 155.9h0M206.6 153.4h0M204.2 154h0M202.5 152.2h0M200.5 153.7h0M202.7 160.1h0M201.5 157.9h0M199.4 159.2h0M197.3 160.6h0M196.1 158.5h0M195.2 156.1h0M142.6 120.3h0M142 125.1h0M143.3 127.2h0M144.4 129.4h0M146 131.3h0M144.6 133.3h0M142.1 133.4h0M140.7 135.5h0M138.3 136.2h0M136.3 137.7h0M136.8 140.1h0M138.8 141.5h0M140 139.3h0M144.5 141.4h0M143.8 138.3h0M140.1 119.8h0M137.7 120.5h0M137.8 125h0M204.3 193.8h0M201.8 194h0M199.9 195.5h0M199.3 198h0M197.2 199.4h0M199.2 203.7h0M203.5 201.5h0M204.1 197.5h0M211.1 195h0M213.6 195.2h0M214.1 192.7h0M215.4 190.6h0M213.8 188.6h0M211.5 189.6h0M209 189.9h0M205.2 189.5h0M160.9 79.3h0M164.5 79.9h0M165.8 82h0M164.6 84.2h0M164.9 86.7h0M167.4 86.4h0M167.9 88.9h0M161.6 82.4h0M159.4 86.8h0M154.8 85h0M156.8 88.7h0M158.9 90h0M157.3 91.9h0M154.8 91.5h0M153.7 93.7h0M151.4 94.7h0M153.2 96.5h0M127.9 73.3h0M129.2 75.4h0M128.7 77.8h0M129.2 80.3h0M131.3 81.5h0M132.6 83.6h0M131.6 88.8h0M129.7 90.4h0M127.7 91.9h0M127.1 89.4h0M127.7 87h0M126 85.2h0M123.5 85.6h0M120.7 87.5h0M121.1 89.9h0M120.4 92.3h0M118.3 90.8h0M116 91.7h0M114 90.3h0M111.5 90h0M110.8 87.6h0M108.7 88.9h0M108.5 91.4h0M111.5 95.1h0M119.8 80.3h0M118.9 78h0M117.7 75.8h0M117.9 73.4h0M119.1 71.2h0M121.3 69.9h0M123.7 70.5h0M124.6 68.1h0M122.5 66.7h0M120.3 65.5h0M119.3 67.8h0M117 68.9h0M113.9 72.6h0M112.8 69.1h0M181 103.9h0M178.8 108h0M180.9 109.4h0M186 110.9h0M188.2 109.7h0M187.5 105h0M185.1 104.3h0M195.8 32h0M190.9 31.4h0M188.4 31.3h0M185.9 31.2h0M184.7 33.4h0M173.5 55.3h0M172.7 57.6h0M170.6 59h0M171.8 61.2h0M172.3 63.6h0M174.7 63h0M176.5 61.2h0M177 58.7h0M178.8 57h0M179 54.5h0M178.1 52.1h0M180.1 50.6h0M182.6 50.8h0M185 50.3h0M187.5 50.2h0M189.2 52.1h0M195.4 59h0M194.8 61.4h0M175.1 53.4h0M172.8 52.3h0M171.7 50.1h0M171 47.7h0M176 48.7h0M178.4 48.2h0M179.8 46.1h0M178.7 43.9h0M178.9 41.4h0M179.9 39.1h0M180.2 36.7h0M179.6 34.3h0M177.3 33.1h0M172.9 30.7h0M171.8 35.5h0M172 42.9h0M167.2 37.6h0M165.2 39.2h0M162.7 38.9h0M74.6 176.2h0M76.1 174.2h0M76.9 171.8h0M77 167.3h0M75.6 165.2h0M74.9 162.8h0M76.9 161.3h0M79.4 160.8h0M82 156.6h0M79.8 154.3h0M79.8 149.9h0M72.5 151.3h0M72.2 153.7h0M104.1 151.8h0M101.7 151.3h0M99.2 151.2h0M113.2 154.4h0M123.8 151.2h0M133.6 149.9h0M109.2 156.5h0M113.1 159.2h0M123.7 159.3h0M190.4 129.1h0M187.9 129.4h0M188 126.3h0M189.9 131.5h0M188.3 133.5h0M186.4 131.9h0M184.1 132.9h0M182.8 135h0M111.8 110h0M109.4 110.7h0M109.7 115.6h0M105.5 117.9h0M103.4 119.4h0M106.8 123.1h0M109.2 123.9h0M110.2 131.1h0M114.2 110.8h0M116.2 109.4h0M231.6 72.4h0M235.7 71.8h0M235.7 69.3h0M231.7 66.1h0M230.5 60.4h0M225.9 68.3h0M224.4 70.3h0M222.7 72.2h0M220.3 71.6h0M218 70.6h0M216.8 75.5h0M218.6 77.1h0M230.3 74.6h0M232.6 75.6h0M228.8 171.2h0M231.2 171.4h0M235 169.6h0M239.5 168.6h0M241.7 169.8h0M243.9 168.7h0M226.4 171.9h0M224.4 170.3h0M89.5 72.3h0M92 72.4h0M93.3 70.3h0M95.5 69h0M97.5 70.5h0M100 71h0M99.7 68.5h0M98.5 66.3h0M96.1 65.7h0M96.1 63.2h0M98.3 58.7h0M99.9 63.3h0M89.5 69.8h0M213.9 200.4h0M212.4 203.4h0M209.9 203h0M205 204h0M215.7 198.7h0M223.3 202.3h0M224.9 204.2h0M227.4 204.1h0M229.4 202.6h0M234.2 203h0M234.8 196.4h0M233.1 194.7h0M238 197.5h0M238.3 195.1h0M233.9 187.1h0M233.5 184.6h0M231.9 37.6h0M229.7 36.5h0M227.7 38.7h0M223.7 36.3h0M221.3 35.5h0M144.5 57.5h0M145.3 59.9h0M143.5 61.7h0M144.8 63.8h0M142.7 65.1h0M140.2 65.6h0M140.1 68.1h0M142.4 69h0M144.3 70.7h0M146.7 70.3h0M149.2 70.3h0M151 72.1h0M152.8 70.4h0M102.3 170.9h0M100.7 169h0M104.7 173.2h0M107 174.2h0M107.9 171.8h0M106.9 169.6h0M108 167.4h0M108.4 160.2h0M113 162h0M111.3 163.9h0M111.2 166.3h0M113.7 166.1h0M116 170.4h0M117.2 166.9h0M103 163.6h0M101.1 165.1h0M99.1 163.6h0M99.3 161.1h0M96.5 157.2h0M94 157.1h0M91.5 156.8h0M87.6 158.7h0M89.7 160h0M92.2 160h0M94.9 162.7h0M95.8 165h0M94.2 167.7h0M91.7 167.7h0M89.2 167.8h0M87.5 166h0M85.1 166.8h0M83.3 168.5h0M82.9 171h0M80.1 167.4h0M238.4 107.9h0M239.2 112.6h0M241.6 111.8h0M241.8 109.3h0M242.6 107h0M244.4 102.4h0M233.8 114.9h0M234.3 117.3h0M236.2 119h0M238.2 117.5h0M237.3 115.2h0M236.5 105.3h0M238 103.3h0M177 198.7h0M175.8 200.9h0M173.4 201.5h0M164.2 201.6h0M164.3 204h0M177.4 196.3h0M177.5 193.8h0M175.6 192.2h0M176.9 190.1h0M178.3 188h0M180.7 187.2h0M183.2 187.4h0M185 189.1h0M186.8 190.9h0M185.5 193.1h0M245.2 188.4h0M244.2 186.2h0M243.6 183.8h0M241.1 184.1h0M238.6 184.4h0M236.7 186.1h0M239.3 189.2h0M244.6 190.9h0M231.2 161.1h0M230 158.9h0M228.3 157.1h0M227 154.9h0M225.6 152.9h0M225.7 149.7h0M224.6 147.4h0M222.1 147.3h0M220.8 145.2h0M219.4 143.2h0M217 144.1h0M218.9 137.7h0M219.4 135.2h0M221.7 134.2h0M222.2 131.8h0M224.7 131.9h0M226.9 133.2h0M228.9 134.7h0M231.3 134h0M234.2 136.4h0M232.5 138.2h0M234.6 140.1h0M233.4 162.3h0M194.9 107.2h0M196.2 105.1h0M198.7 105.1h0M206.1 105.4h0M215.5 108.8h0M219.9 104.6h0M221.6 106.5h0M223.3 104.7h0M223.8 108.7h0M221.6 109.8h0M222.1 112.2h0M223.8 115.5h0M225.5 117.3h0M227.8 118.4h0M230.2 118.9h0M230.6 116.4h0M229.3 114.3h0M227.5 112.6h0M227.3 109.1h0M227.7 106.6h0M196.7 110h0M199.8 112.6h0M196.8 116.2h0M234.7 100.4h0M232.3 99.5h0M231 95h0M234.4 92.6h0M233.8 90.2h0M231.3 89.8h0M228.8 89.3h0M226.8 90.7h0M226.4 93.2h0M226.5 95.7h0M226.4 98.2h0M229.5 100.3h0M229 102.7h0M226.6 103.3h0M201 102.3h0M202.3 100.2h0M208.3 93.6h0M207.5 91.3h0M205.1 90.6h0M203.7 92.7h0M201.8 91.1h0M202.5 88.7h0M203 86.2h0M204.4 84.2h0M205.6 82h0M207.9 81h0M207.8 78.5h0M205.4 77.9h0M205.1 75.5h0M204.7 73h0M205.9 70.8h0M208.2 69.7h0M206.8 67.7h0M204.4 66.8h0M202.9 64.8h0M202.4 62.3h0M204.8 61.6h0M210.4 57.5h0M215.8 57.3h0M216.1 59.8h0M218.4 60.8h0M208 54.1h0M206.1 55.8h0M198.5 102.2h0M196 101.5h0M234.6 153.9h0M232.3 152.8h0M231.9 150.4h0M228.1 147.9h0M228 145.4h0M227.6 137.2h0M224.4 140.5h0M223.7 142.9h0M237.8 155.8h0M240.3 156h0M237.8 160.8h0M236.4 162.9h0M245.5 155.1h0M246.7 157.3h0M247 161.8h0M244.2 161.5h0M246.5 152.8h0M108.6 62.8h0M107.4 67.6h0M85.1 50h0M86.6 45.8h0M87.1 43.4h0M88.9 48.6h0M90.3 50.6h0M92.7 50h0M93.2 47.6h0M85.1 52.5h0M122.4 188.1h0M125.4 188.8h0M127.6 190h0M130.1 190.3h0M132.2 188.9h0M134.7 188.8h0M141.1 190.1h0M142.2 187.9h0M143.2 185.6h0M138.2 185.3h0M139.2 187.6h0M121.2 191h0M123.6 191.9h0M125.6 193.4h0M126.6 195.6h0M118 187.3h0M116.3 185.5h0M114.8 183.5h0M116.1 176.2h0M114.8 174h0M112.6 175.1h0M110.2 176h0M109.1 178.2h0M137.7 91.9h0M143.4 77.2h0M145.8 78h0M146.1 80.4h0M145.4 82.8h0M140.6 89.6h0M142 91.6h0M140.4 96.1h0M137.9 96.1h0M184.5 64.5h0M186.4 60.1h0M181.8 58.4h0M183.5 56.6h0M172.5 73.8h0M171.4 76h0M169 76.7h0M166.5 77.2h0M164.4 76h0M189 119.5h0M186.2 114.2h0M147.3 86.9h0M144.9 86.3h0M145.3 96.4h0M146.8 98.4h0M149.3 98.1h0M151.3 99.6h0M149.7 101.5h0M147.3 102.3h0M147.3 104.8h0M148.8 109.9h0M151 111h0M158.4 105.1h0M160.8 104.6h0M154.1 112.8h0M145 111.7h0M142.5 111.6h0M141.8 106.7h0M144.3 106.3h0M143.9 103.8h0M141.4 103.8h0M138.9 103.6h0M150.9 106.2h0M151.7 103.9h0M153.8 102.6h0M117.7 57.6h0M116.3 59.7h0M118.1 61.4h0M120.4 62.4h0M121.8 60.4h0M116.8 55.3h0M114.9 53.7h0M113.6 55.8h0M77.6 188.7h0M77.1 186.3h0M79.2 184.9h0M81.7 184.8h0M83.8 186.2h0M85 188.3h0M87.4 189h0M89.7 188h0M91.3 186h0M92.7 184h0M92.9 181.5h0M95.4 181.3h0M96.6 183.5h0M97.9 185.7h0M99.7 187.4h0M100.3 189.8h0M97.7 193.4h0M93.7 196.3h0M90.6 194.2h0M89.4 196.4h0M89.8 198.9h0M88.5 201h0M91 201.4h0M92.5 203.4h0M94.8 204.4h0M95.6 202h0M95 199.6h0M96.9 198h0M102.9 198.2h0M101.8 202.6h0M104.3 202.8h0M105.7 200.8h0M106.4 198.4h0M108.7 199.4h0M112.1 202.6h0M114.6 202.8h0M117.1 203.1h0M119.4 202.3h0M121.3 203.9h0M78.9 190.8h0M135.7 197.2h0M137.3 195.3h0M136.7 199.5h0M138.7 198h0M141 199.1h0M143.3 200h0M144.6 202.1h0M146.5 203.7h0M149 203.4h0M148.9 201h0M148.8 198.5h0M151.2 197.7h0M153.6 196.9h0M155.4 198.5h0M157.9 198.7h0M154.8 201.5h0M135.3 156.1h0M130.5 166.3h0M129.8 168.7h0M130.2 173.3h0M133.3 176.8h0M135.7 176h0M138.1 176.7h0M138.2 174.2h0M136.8 172.1h0M134.4 172.5h0M134.1 167.7h0M134.9 165.3h0M123.5 154.6h0M126 154.6h0M209.8 75.6h0M208.1 73.7h0M210.4 72.8h0M212.9 72.5h0M215.3 71.7h0M210.9 77.8h0M211.9 80.1h0M211.8 82.6h0M211.5 85.1h0M212.7 87.3h0M212.9 89.8h0M212.7 92.2h0M211.3 94.3h0M212.2 96.7h0M212.9 101.2h0M212.4 103.7h0M209.4 98h0M206.9 98.6h0M188.2 88.3h0M187.1 86.1h0M182.5 84.2h0M185.1 80.2h0M183.9 78h0M181.9 76.6h0M179.5 76h0M180.4 79.9h0M178 84.2h0M177.7 86.7h0M175.7 90.8h0M178.2 90.2h0M181.8 87.2h0M117.5 118.4h0M119.8 119.5h0M119.4 122h0M122 122h0M124.3 123h0M125.9 121h0M127.1 123.2h0M127.9 125.6h0M115.1 118.9h0M116.2 121.1h0M116.8 123.5h0M114.6 124.8h0M112.7 126.4h0M132.1 46.8h0M129.6 47h0M127.8 45.3h0M128.3 42.8h0M125.1 42.5h0M123.5 40.6h0M121.3 39.4h0M115.3 37.7h0M113.5 33.4h0M111.5 31.9h0M109 31.6h0M108.3 36.5h0M126.9 38.3h0M128.2 36.2h0M124 34.1h0M122.3 32.4h0M119.8 31.8h0M118.2 33.7h0M118.1 36.2h0M134.2 48.1h0M136.6 48.9h0M136.3 51.4h0M136.3 56.2h0M73.4 42.5h0M73.7 38h0M92.2 150.3h0M90.5 148.5h0M240.2 35.9h0M238 36.9h0M237.4 39.4h0M235.9 42.3h0M237.7 44.1h0M240 45h0M241.1 47.2h0M243.2 45.8h0M243.2 43.3h0M245.7 42.9h0M247.2 40.9h0M244 40.4h0M231.2 43h0M233.3 44.3h0M233.2 46.8h0M234.4 49h0M236.9 48.5h0M238.8 50.1h0M239.6 52.4h0M237.2 53h0M234.7 53.1h0M232.7 51.5h0M230.2 51.5h0M228.2 50.1h0M246.2 34.2h0M190.3 72.9h0M192.3 71.5h0M194.5 70.3h0M194.8 67.8h0M188.1 65.1h0M188.7 62.7h0M187.8 73h0M185.9 74.7h0M183.9 73.2h0M177.3 73.5h0M177 112h0M172.4 113h0M170.6 114.8h0M169.7 117.1h0M167.3 116.3h0M168.5 110.3h0M169.3 107.9h0M212.4 124.5h0M217 123.6h0M218.3 121.4h0M218.6 119h0M221.1 118.5h0M223.3 119.6h0M222 121.8h0M220.6 123.8h0M221.6 126.2h0M223.4 129h0M225 127.1h0M230.4 128.2h0M232.2 130h0M242.1 133.9h0M237.6 127.7h0M236.1 125.7h0M232.2 124.7h0M231.1 122.4h0M211.1 122.4h0M211.1 119.9h0M209.4 118.1h0M211.4 116.6h0M213.6 115.4h0M215 113.3h0M213.4 111.4h0M209.1 111.5h0M208.1 113.8h0M206.4 115.6h0M205.7 118h0M203.4 117h0M89.9 106h0M88.5 103.9h0M86 103.9h0M83.6 104.5h0M81.1 104.1h0M79.1 102.7h0M76.9 103.9h0M77.6 106.3h0M80 106.8h0M80.9 110.6h0M83.5 113.1h0M90.4 108.5h0M90.6 110.9h0M91.1 113.4h0M93 115h0M95.1 116.4h0M90.8 116.9h0M88.8 115.3h0M86.4 115.7h0M120.9 49.3h0M123.4 49.5h0M124.1 47.1h0M121.6 42.9h0M118.4 48.8h0M117.1 46.7h0M121 46.3h0M114.3 41.9h0M115.4 189.4h0M111.5 186.5h0M109 186.9h0M106.9 188.2h0M105.5 194.7h0M108.1 191.1h0M110 189.5h0M112.5 189.5h0M117.4 190.9h0M119 192.8h0M119.3 195.3h0M121.6 194.3h0M123.7 195.8h0M124 198.2h0M125.9 199.8h0M126.8 203.4h0M124.4 202.5h0M130.3 200.3h0M132.8 200.6h0M116.7 147.1h0M120.4 147.1h0M122.6 148.4h0M124.7 147h0M128.7 144.2h0M119.6 149.8h0M162.5 97.4h0M164.2 99.2h0M165.9 97.3h0M166.3 94.9h0M167.8 92.9h0M160.3 98.6h0M157.9 97.6h0M156.9 94.7h0M123.4 79.4h0M123.6 81.8h0M200.1 45.7h0M201.2 48h0M201.5 50.4h0M199.7 52.2h0M200.3 54.6h0M200.2 57.1h0M202.6 57.6h0M202.7 53.1h0M204.8 51.8h0M206.8 50.3h0M215.9 52.6h0M217.8 51.1h0M218.8 48.8h0M221.3 48.2h0M222.3 46h0M220.1 44.8h0M198.2 47.3h0M198.1 49.8h0M195.6 49.9h0M193.2 50.7h0M190.9 49.6h0M192 43.3h0M193.8 41.6h0M195.6 43.4h0M198 43h0M195.3 36.2h0M193 37.1h0M190.5 35.7h0M188.4 37.1h0M186.9 39h0M184.7 40.3h0M183.5 42.5h0M183 44.9h0M182.4 47.3h0M184.9 47.4h0M200.1 39.7h0M202.6 40h0M203.3 42.3h0M202.8 44.8h0M204.9 46.1h0M133.5 117h0M131.4 115.6h0M129.6 113.8h0M132.2 106.9h0M127.2 107.4h0M125.4 109h0M123.7 113.3h0M128.1 111h0M135 118.9h0M136.5 116.9h0M79.2 54h0M81.7 54h0M77.3 47.7h0M74.9 48.5h0M72.4 48.5h0M72.4 51h0M72.7 53.4h0M77.3 55.6h0M78.9 57.6h0M80.6 59.4h0M83.1 59.7h0M85.5 60.3h0M87.9 59.4h0M90 60.7h0M91.9 62.4h0M147.8 127.9h0M147.9 125.4h0M147.5 123h0M150.2 127.3h0M151.7 52.3h0M151.6 47.5h0M153 43.3h0M148.5 43.9h0M147 45.8h0M147.6 48.3h0M145.3 49.2h0M140.8 51.2h0M147.9 52h0M132.2 68.1h0M128.1 65.5h0M125.9 64.3h0M123.5 63.5h0M211.2 127.9h0M213.7 128h0M217.2 130.3h0M217.1 132.8h0M215.4 134.6h0M210.5 133.7h0M209.3 131.6h0M211.7 130.8h0M87.1 184.2h0M118.5 182.4h0M119.7 178.9h0M122.2 179.4h0M124.1 181h0M126.2 179.7h0M126.6 176.9h0M129.3 182h0M131.8 182h0M121.8 182.9h0M175 81.3h0M170.6 81.7h0M104.6 180h0M104.9 177.5h0M100.5 176.6h0M98.9 178.5h0M99.4 181h0M100.8 183h0M103.6 183.4h0M106.4 184.8h0M107.9 182.8h0M109.2 180.7h0M220.8 64.9h0M220.8 62.4h0M223.3 62.5h0M243.9 66.7h0M246.2 70.9h0M244.8 72.9h0M242.4 73.6h0M239.9 73.4h0M241.3 70h0M240.2 66.1h0M240.3 61.9h0M243.7 59.1h0M245.3 56.2h0M245.9 53.8h0M242.8 64.1h0M74.9 140.8h0M83.9 142.5h0M83.7 145h0M83 147.4h0M84.8 149.1h0M73.7 143h0M72.6 145.2h0M72.8 147.7h0M200.8 141.7h0M201.9 139.5h0M203.1 137.3h0M204.3 135.2h0M206.7 136h0M206 140.4h0M207.4 142.4h0M209.9 142.3h0M213.2 143.2h0M213.8 145.6h0M213.7 148.1h0M215.6 149.7h0M209.5 136.9h0M196.3 141.3h0M191.5 140.5h0M191.1 136.1h0M188.8 137.1h0M186.6 138.2h0M131.3 138h0M133.6 139h0M133.7 141.5h0M133.7 146.5h0M136.1 146.8h0M128.8 137.8h0M126.4 137.1h0M124.1 136h0M121.6 135.9h0M119.3 136.8h0M159 38.9h0M159 35.8h0M158.7 32h0M153.8 31.8h0M149 33.2h0M146.6 32.5h0M144.9 34.4h0M142.7 35.6h0M142.3 38.1h0M142.3 40.6h0M139.9 41.2h0M137.4 40.7h0M135.2 41.8h0M133.5 43.7h0M156.4 40.7h0M154 40.4h0M154.4 35.5h0M151.9 34.8h0M121.6 139.7h0M118.8 141.8h0M122.9 144.3h0M126.6 140.8h0M217.4 202.6h0M245.2 86.2h0M243.8 80.7h0M246.5 81.4h0M168.8 34.1h0M166.8 32.6h0M169 31.5h0M192.2 115.5h0M191 110.8h0M191 108.3h0M192.6 120.2h0M193.2 122.6h0M191.5 124.3h0M192.5 126.6h0M194.6 127.9h0M194.4 130.3h0M196.9 130.7h0M199 132.1h0M197.4 134h0M162.9 52.9h0M163.3 50.5h0M165 48.7h0M164.8 46.2h0M162.5 45.2h0M160.5 46.7h0M160.4 49.1h0M158.9 51.1h0M157.1 52.8h0M154.6 52.6h0M154.3 55h0M156.2 56.6h0M159.9 58.6h0M162.4 58.1h0M161.3 55.8h0M164.7 54.7h0M165.8 56.9h0M166.3 59.3h0M164.4 60.9h0M163.1 63h0M160.4 67h0M154.2 67.8h0M152 66.6h0M152.7 64.2h0M155.1 63.5h0M157.4 62.4h0M156.6 65.9h0M246.1 202.8h0M243.9 204.1h0M241.5 203.4h0M241 200.9h0M243.2 199.8h0M245.6 200.4h0M233.7 175.2h0M239.2 173.2h0M241.4 174.3h0M241.8 176.7h0M236.5 179h0M138.9 169.7h0M107.4 55.4h0M105.7 53.6h0M103.9 55.4h0M102.5 57.5h0M103.3 59.8h0M103.1 66.6h0M110.4 51.4h0M108.1 47h0M105.9 45.8h0M107.4 43.8h0M106.2 73.7h0M108.6 74.4h0M111 76.2h0M113.1 77.4h0M113.3 79.9h0M112.3 82.2h0M109.8 81.8h0M107.3 81.9h0M104.9 82.8h0M103.6 84.9h0M102.8 87.2h0M100.3 86.9h0M97.8 87.2h0M96.4 89.2h0M98 91.2h0M166.4 196.1h0M166.7 198.6h0M173.6 197.6h0M164.1 197.2h0M162.7 195.2h0M245.9 137.7h0M240.3 138.1h0M246.9 135.4h0M246.5 133h0M244.2 132h0M244.2 129.5h0M244.5 127h0M245.1 124.6h0M245.6 122.1h0M241.6 123.5h0M241.1 126h0M139.8 202.7h0M234.1 58h0M234.7 60.4h0M185 164.4h0M183 165.9h0M181.9 163.7h0M182.3 161.2h0M184.3 159.7h0M189.2 159h0M191.6 158.7h0M192.8 160.9h0M193.5 164.9h0M192.9 167.3h0M191.6 169.4h0M191 171.8h0M193.3 172.6h0M195.3 171.1h0M187 163h0M196 193.4h0M195.1 191.1h0M192.7 192h0M190.6 193.3h0M189.4 195.5h0M187.6 197.3h0M185.2 197.8h0M198.4 193h0M155.8 126h0M153.3 126h0M151.6 130.7h0M149.1 130.4h0M151.5 134.5h0M146.5 135.3h0M147.5 137.6h0M155.6 128.4h0M157.3 130.3h0M155.4 131.9h0M156.4 134.2h0M177.1 158.1h0M172.4 159.2h0M175.6 155.5h0M176.9 153.3h0M177.7 151h0M175.6 149.6h0M173.6 148.1h0M173.5 145.6h0M173.1 143.1h0M170.9 141.9h0M168.7 143h0M168.1 145.5h0M169.9 147.2h0M142 162.6h0M139 156.6h0M138.5 154.2h0M143.2 153.1h0M145.5 149.5h0M147.5 151h0M148.6 153.2h0M155.8 153.4h0M159.5 154.1h0M157.8 155.9h0M153.2 157.5h0M150.7 156.8h0M157.6 149.7h0M155.2 150.4h0M153.1 149h0M150.6 149.4h0M137.5 31.4h0M135 30.9h0M132.6 31.7h0M130.2 32.2h0M127.7 32.1h0M190.8 94.6h0M189.8 92.3h0M187.6 91.1h0M185.4 90h0M191 97.1h0M102 30.7h0M99.5 31.1h0M103.9 33.3h0M98.4 37.8h0M98.8 40.3h0M100.7 41.8h0M103.2 42h0M104.1 39h0M241.3 118.9h0M246.2 117.9h0M218.7 148.1h0M220.3 150.1h0M222.6 151.1h0M222.7 153.5h0M218 157.5h0M217.4 160h0M215.2 161h0M212.7 161.4h0M210.5 162.6h0M216.4 147.1h0M237.8 146.3h0M238.5 143.9h0M239.8 141.8h0M247 144.6h0M160.9 109.2h0M163.2 110.2h0M157 189.8h0M161.3 186.5h0M163.7 185.7h0M165.8 187.1h0M167.7 185.5h0M103 124.7h0M104.2 126.9h0M106.4 128.6h0M100.8 120.5h0M98.4 121.1h0M96.6 119.3h0M93.4 124.9h0M91.2 123.7h0M89.5 120.7h0M105.4 49.5h0M103 48.6h0M101.2 50.2h0M101.7 52.7h0M169.4 68.3h0M176.2 67.1h0M180 62.6h0M75.6 126.8h0M74.4 124.6h0M72.3 123.3h0M72.7 120.8h0M75.6 116.8h0M74.2 114.7h0M72.8 116.7h0M74.6 129h0M74.3 135.4h0M81.5 130.3h0M85.4 134h0M218.5 90.4h0M216.2 89.4h0M216 91.9h0M215.9 94.4h0M244.8 96.4h0M245.4 93.9h0M242.9 93.7h0M241.5 95.8h0M239 95.9h0M238.4 91.5h0M237.4 89.2h0M238.8 87.2h0M239.4 83.2h0M238.8 79h0M245.1 98.8h0M137.6 73.7h0M135.2 72.9h0M132.4 76.9h0M139.9 74.6h0M137.4 77.6h0M153 61h0M150.6 56.8h0M164.8 132.2h0M164.5 129.7h0M166.5 128.3h0M165.4 126.1h0M163 125.6h0M160.9 127h0M152.5 76.3h0M155.1 77.5h0M202 146.3h0M197.4 145.5h0M196.7 147.9h0M193.8 151.7h0M195.7 153.3h0M203.8 148h0M206 146.7h0M208 145.3h0M210.6 175.9h0M213.1 175.7h0M215.4 176.8h0M215.7 174.3h0M217.9 175.5h0M219.2 177.7h0M210.1 178.3h0M207.6 179.6h0M209.3 181.4h0M211.2 183h0M123.2 169.7h0M120.6 166.7h0M122.4 163h0M104.2 114.6h0M103.4 112.2h0M103.1 109.7h0M105 108.1h0M102.4 102.2h0M107 112.4h0M77.3 82.5h0M211.3 65.7h0M208.8 65.7h0M213 60.8h0M214.8 62.5h0M212.6 63.6h0M234.3 146.5h0M231.8 146.1h0M230.8 143.8h0M198.7 99.1h0M200.4 93.9h0M198 93.6h0M193.8 94.4h0" stroke="#a8388a" stroke-width="2.35" stroke-linecap="round" fill="none"/>
<path d="M220.6 179.6h0M222.2 177.7h0M222.7 193.4h0M190.9 147.5h0M187.4 156.6h0M183 154.6h0M182.5 152.3h0M182.6 149.8h0M178.7 137.1h0M178.2 133.4h0M181.1 128.5h0M183.6 128h0M183.3 125.6h0M180.8 125.9h0M161.6 118.8h0M157.5 116.3h0M156.7 113.9h0M161.1 116.1h0M188.7 146.5h0M184.3 148.2h0M181.2 139.7h0M226.5 44.1h0M216.2 37.7h0M210.4 45h0M227.1 46.7h0M225.8 50.1h0M222.1 55.5h0M223.8 57.6h0M86.3 38.6h0M88.4 37.2h0M176.4 170.5h0M177.3 172.9h0M177.4 180.9h0M184.3 178.7h0M173.9 170.6h0M163.5 171h0M162 166.4h0M159.5 166.2h0M156.8 169.9h0M159.8 173.2h0M160.8 175.5h0M154 185.2h0M156.3 192.3h0M160.5 196.9h0M159.8 201.7h0M162.2 173.4h0M106.9 98.7h0M107.1 94.2h0M102.8 96.2h0M98.3 97.8h0M92.4 86.2h0M94.8 82.1h0M74.1 84.3h0M79 79.2h0M81.2 80.4h0M83.1 82.1h0M87 79.4h0M92.1 82.1h0M90.8 84.3h0M86.7 83.5h0M84.9 87h0M82.6 77.4h0M80.1 76.9h0M85.1 77.5h0M111.3 97.6h0M215.2 35.5h0M221.4 32.8h0M94.9 137h0M95.7 139.3h0M96.5 147.8h0M98.3 146.1h0M100.8 146.4h0M100.9 144h0M102.1 137h0M99.6 136.3h0M97.7 137.9h0M97.9 133.1h0M98.4 130.7h0M95 133.6h0M92.4 136.1h0M150.8 163.7h0M149.6 165.9h0M152.7 173.3h0M154.9 174.5h0M198.7 184.5h0M201.2 184.4h0M203.2 188.2h0M199.6 190.8h0M197.4 186.4h0M187.1 178.7h0M200 182.4h0M205.5 177.3h0M197.3 169.6h0M203.1 164.9h0M206.5 165.7h0M205.1 161h0M141.6 122.6h0M142.3 140.2h0M146 139.4h0M136.7 122.8h0M139.2 123h0M198.9 201.2h0M201.1 202.1h0M206.1 199h0M208.7 195.4h0M206.9 191.3h0M158.9 77.9h0M162.9 77.9h0M169.3 90.9h0M156.8 79.3h0M156.8 81.8h0M157.2 84.3h0M160.8 84.7h0M154.6 87.5h0M129.1 71.1h0M133.9 85.8h0M134.1 88.3h0M121.1 85h0M109.5 93.7h0M121 82.5h0M115.1 70.5h0M111.7 71.4h0M180.7 106.4h0M180.8 111.9h0M182.2 114h0M184.3 112.7h0M188.6 107.2h0M183 105.7h0M193.3 32.1h0M190.6 54.2h0M193 54.9h0M172.8 46h0M174.4 44h0M175.2 46.4h0M175.1 32h0M172.8 33.2h0M171.9 38h0M171.4 40.5h0M169.5 38.7h0M78 169.6h0M80.8 158.8h0M79.5 156.8h0M78.7 152.1h0M75 151.2h0M106.6 152.4h0M98.9 148.8h0M108.9 151.7h0M110.8 150h0M111.8 152.3h0M115.3 155.7h0M117.8 155.3h0M119.5 153.4h0M121.3 151.7h0M126.2 150.6h0M131.1 150.2h0M108.6 154.1h0M110.7 158.5h0M115.3 158h0M117.8 157.7h0M120 158.7h0M122.1 157.4h0M185.8 125.2h0M181.4 137h0M109.4 113.1h0M107.9 117.3h0M105 121.3h0M109.3 126.4h0M109.1 128.8h0M233.8 73.5h0M236.1 66.8h0M230.6 62.9h0M227.5 66.4h0M217.4 73h0M233.7 171.8h0M237 168.2h0M97.1 60.9h0M99.7 60.8h0M214.8 202.7h0M207.5 203.5h0M218.2 199.1h0M220.6 198.2h0M220.3 200.7h0M222.7 199.9h0M231.8 202.2h0M234 200.5h0M235.8 198.7h0M233.9 192.3h0M236.2 193.7h0M234.5 189.5h0M230.4 39.6h0M227.2 36.3h0M225.3 38.3h0M143.9 55.1h0M154.8 71.8h0M141.5 55.9h0M139.3 57.1h0M102.2 173.4h0M98.2 169.4h0M107.8 164.9h0M107.2 162.5h0M110.7 161h0M115.2 168.1h0M118.2 169.2h0M105.4 164.3h0M97.3 159.5h0M89 156.6h0M94.7 160.2h0M96.7 167.3h0M80.6 169.8h0M235.9 107.7h0M237.7 110.3h0M235.2 110.1h0M234.2 112.4h0M243.8 104.8h0M246.4 103.9h0M170.9 201.4h0M168.4 201.4h0M166.3 202.8h0M227.5 151.4h0M216.2 141.7h0M217.1 139.4h0M233.8 133.9h0M232.2 140.7h0M234.5 164.5h0M236.7 165.7h0M201.1 105.9h0M202.3 108.1h0M203.7 106h0M208.4 106.4h0M213.2 108h0M215.9 106.3h0M217.4 104.3h0M225 106.5h0M224.5 113.1h0M225.6 110.9h0M197.4 107.6h0M199.1 109.4h0M201.3 110.7h0M198.9 117.5h0M230.9 97.5h0M233.1 96.3h0M235.2 94.9h0M227 100.6h0M203.2 97.9h0M204.8 95.9h0M207.3 96h0M207.3 61.3h0M209.1 59.6h0M214.1 55.5h0M210.3 53.2h0M233.3 156.1h0M229.5 150h0M225.7 144.3h0M227 142.2h0M227.3 139.7h0M225.4 138.2h0M233.3 158.6h0M235.6 159.7h0M245.8 159.6h0M246.2 164.1h0M243.9 164h0M84.8 47.5h0M86.9 40.9h0M89 39.6h0M90.6 41.5h0M90.4 44h0M90.3 46.5h0M92.6 45.2h0M124.3 186.5h0M136.2 190.8h0M138.7 190.5h0M140.7 185.4h0M120 188.9h0M115.4 181.1h0M115.5 178.6h0M139.3 93.8h0M136.4 89.8h0M136.9 87.4h0M139.6 80.3h0M141.6 78.9h0M142.9 82.5h0M139.3 87.4h0M143.7 89.8h0M142.6 87.5h0M142 85.1h0M180.9 67.9h0M182.6 66h0M177.3 70.9h0M174.8 71.2h0M170.6 72.2h0M189.2 117h0M188.6 114.6h0M150 89.4h0M152 87.9h0M149.8 86.7h0M148.3 91.3h0M147.2 93.5h0M144.7 94h0M148.5 106.9h0M146.6 108.6h0M153.4 110.4h0M155.5 109h0M157.4 107.4h0M144.2 109.3h0M141.8 109.2h0M100 192.2h0M95.7 194.8h0M93.1 193.9h0M99.4 198.5h0M101 196.6h0M101.3 200.2h0M109.8 201.6h0M137.5 192.8h0M157.3 201.1h0M131.6 155.1h0M134.5 153.7h0M134.8 158.5h0M136.4 160.4h0M131.5 161.5h0M130.5 163.8h0M131 170.9h0M131.1 175.6h0M133.7 170.1h0M129.2 155.7h0M126.9 156.7h0M211.6 99.1h0M184.9 84.9h0M184.4 82.6h0M178.5 78.2h0M179.3 82.1h0M181.6 91.5h0M126.9 40.8h0M119.2 40.7h0M117.6 38.8h0M113.6 35.9h0M108.5 34h0M126.5 34.4h0M136.1 53.8h0M138.4 54.8h0M74.7 40.3h0M72.2 40.3h0M87.4 150h0M87.7 152.4h0M89.3 154.3h0M243.1 38.1h0M242.7 35.6h0M235 40h0M245.9 38.8h0M232.7 41.1h0M192.9 66.1h0M191.8 63.9h0M190.4 65.9h0M189.7 60.5h0M182 71.6h0M179.7 72.7h0M174.9 113.2h0M166.7 112h0M177.3 114.5h0M179.8 114.1h0M214.9 124.9h0M220.9 128.6h0M227.1 125.9h0M228.4 123.7h0M229.6 125.9h0M234.5 129.1h0M240.2 132.3h0M239.7 134.8h0M237.2 134.9h0M235.3 132h0M233.8 126.6h0M228.8 121.4h0M201 116.2h0M82 108.4h0M83.4 110.7h0M93.1 117.8h0M123.2 44.8h0M117.1 44.2h0M119.6 44.2h0M116.8 41.8h0M112.1 40.8h0M111.8 38.3h0M111 35.9h0M113.8 187.4h0M104.4 188.5h0M103.7 190.9h0M102.2 192.9h0M103.1 195.2h0M105.9 192.2h0M128 201.2h0M122.2 201.4h0M115.5 149.3h0M118.5 145.4h0M126.9 145.9h0M129.5 146.6h0M128.1 148.7h0M115.5 151.8h0M118 151.6h0M155.6 96.8h0M203.7 55.3h0M209.3 49.7h0M210.8 47.7h0M211.9 50h0M214.2 50.8h0M189.5 47.6h0M190.7 45.4h0M197 40.7h0M195.6 38.6h0M192.8 34.7h0M187.3 46.6h0M188.1 44.3h0M197.9 38.4h0M130.6 111.5h0M131 109.1h0M129.7 106.9h0M123.6 110.8h0M125.8 112.1h0M82.7 51.7h0M80.7 50.3h0M82.2 48.3h0M79.7 48h0M149.9 50.5h0M152.3 49.9h0M151.2 45h0M150.7 42.5h0M143.1 50.5h0M141.8 53.5h0M130.5 66.2h0M129.7 68.6h0M216.1 127.2h0M218.4 128.1h0M213.1 133.8h0M120 184.4h0M128.7 179.6h0M129.1 177.1h0M122.3 185.3h0M171.9 86.3h0M173.3 88.4h0M174.3 83.7h0M177.4 80.7h0M172 83.8h0M102.9 176h0M102.5 181.2h0M104.1 185.9h0M245.7 68.4h0M239 71.1h0M239.3 68.5h0M238.9 64h0M246.1 58.6h0M246.3 66h0M247.2 63.7h0M246.9 61.2h0M76.5 138.9h0M77.9 140.9h0M80.4 141.4h0M82.7 140.4h0M75.1 148.7h0M209.7 139.8h0M213.1 136.3h0M213.6 140.8h0M198.4 142.7h0M194 140.5h0M192.4 138.2h0M133.5 144h0M161 37.3h0M157.2 34h0M156.3 31.4h0M151.4 32.5h0M156.6 38.3h0M153.8 37.9h0M125 142.8h0M123.9 140.6h0M119.1 139.3h0M120.5 143.6h0M242.3 82.6h0M245.8 79.1h0M245.5 83.7h0M191.1 113.3h0M191.5 117.9h0M157.4 58.7h0M161.2 64.7h0M159 69.1h0M158.7 64.5h0M235.7 176.7h0M235.4 173.4h0M237.4 175h0M142.5 170.9h0M103.7 62.3h0M104.9 64.8h0M102 64.3h0M108.7 53.3h0M109.2 49.2h0M108.3 41.5h0M109.8 39.4h0M111 73.7h0M169.1 199h0M171.6 199.1h0M244.3 139.6h0M242.8 137.8h0M243.1 121.6h0M234.2 62.9h0M186.7 158.9h0M189.4 162.2h0M189.9 164.6h0M152.5 128.3h0M149.6 132.9h0M149 135.1h0M176.8 160.6h0M173.7 157.1h0M139.9 163.9h0M139.9 161.3h0M138.8 159.1h0M140.7 153h0M143.3 150.7h0M140.8 150.7h0M138.4 151.3h0M137.1 149.2h0M150.9 154.2h0M153.4 154.4h0M157.9 152.1h0M155.3 156.2h0M141.2 166.1h0M143.3 167.4h0M144.5 169.6h0M104.5 30.8h0M106.3 32.6h0M95.9 37.4h0M93.4 37.8h0M95.1 39.6h0M92.8 40.4h0M105.6 41.1h0M242.9 114.7h0M241.1 116.4h0M245.4 115.5h0M244.2 119.4h0M222.6 156h0M221.1 158h0M219.8 155.9h0M86.3 128.7h0M87.4 131h0M159.3 111.9h0M163.3 114.8h0M158 187.5h0M156.7 185.3h0M159.2 185.1h0M106.5 126.1h0M102.6 122.2h0M94.1 122.5h0M107.4 50.9h0M168.8 70.8h0M171.8 67.9h0M178.7 66.8h0M180.5 65h0M182.2 61.3h0M74.1 118.8h0M76.9 129.9h0M81.2 134.9h0M83.6 135.6h0M81.7 137.3h0M78.2 137.1h0M83.8 129.3h0M84.9 131.5h0M219.8 92.6h0M220.8 94.8h0M218.4 94.6h0M237.6 93.8h0M240.5 85.4h0M240.4 80.9h0M134.2 75.2h0M134.4 80.3h0M139.8 77.1h0M152.2 58.7h0M154.9 59.3h0M163 164h0M160.5 164h0M158.1 163.1h0M155.7 163.6h0M153.3 164.3h0M152.2 166.6h0M153.4 168.8h0M154.6 171h0M154 74.3h0M157.6 73.2h0M159 75.3h0M199.8 145.1h0M195.8 150.2h0M197.9 152h0M207.9 177.1h0M120.7 169.2h0M120.2 164.2h0M104.8 105.6h0M104.8 103.1h0M104.2 100.5h0M104.6 98h0M106.7 114.8h0M78.8 84.3h0M81.3 84.9h0M83.8 84.9h0M76.4 84.7h0M142.9 46.2h0M141.7 44h0M139.2 44.3h0M141.8 48.4h0M208.7 63.2h0M210.6 61.5h0M229.6 141.6h0M198 96.7h0M200.5 96.9h0M195 99.1h0" stroke="#e65468" stroke-width="2.35" stroke-linecap="round" fill="none"/>
<path d="M224.6 161.1h0M223.5 158.9h0M159.2 114.5h0M224.4 59.8h0M174.9 168.5h0M85.5 81.4h0M82.4 86.9h0M96.9 135.4h0M96 131.4h0M156.5 161.1h0M152.1 170.9h0M152.7 176.1h0M204.2 167.1h0M206 201.4h0M206.4 196.4h0M206.8 193.8h0M159.2 82.7h0M193.5 57.3h0M192.3 61.4h0M191.7 59h0M191.1 56.6h0M77.4 150.2h0M128.7 150.9h0M186 127.8h0M236.4 64.3h0M234.1 65.2h0M229.4 65.1h0M228.4 61.8h0M227 63.9h0M236.3 191.2h0M157.1 70.9h0M236.7 112.8h0M236.9 188.5h0M210.8 107.2h0M199 115h0M211.6 55.3h0M212.8 53.1h0M235.7 157.2h0M107.5 65.1h0M136.2 85h0M135.6 82.6h0M137.1 80.5h0M140.5 83.2h0M138.9 85h0M184.8 62h0M184 59.4h0M179.7 70.1h0M172.4 70.5h0M145.8 91.4h0M130 153.2h0M132.4 152.4h0M133.9 161h0M133.2 163.5h0M124.4 156.9h0M214.8 104.1h0M175.9 88.4h0M180.5 89.4h0M183 89.4h0M89.8 150.7h0M245 36.4h0M165.8 114.3h0M236.8 130.1h0M237.7 132.4h0M211.5 109.7h0M209.2 109h0M113.3 150.5h0M117.5 180.1h0M174.5 86.2h0M225.7 61.8h0M242.7 61.3h0M244.8 62.5h0M207.5 138.4h0M211.8 138.4h0M214.5 138.4h0M243 85h0M156.6 68.6h0M141.3 168.8h0M106.2 62.7h0M241.8 140.1h0M191.7 163.2h0M174.9 159.2h0M135.7 151.2h0M192.6 99h0M158.5 109.5h0M156.9 111.3h0M164.2 112.5h0M94.2 120h0M91.9 121.1h0M174.2 68.6h0M76.9 132.4h0M79 133.7h0M79.8 138.9h0M76.7 135h0M79.1 131.1h0M134.7 77.9h0M156.3 75.3h0M120.4 161.5h0M140.4 46.4h0M202.4 95.4h0M196.1 95.2h0M194 96.8h0" stroke="#f88a5e" stroke-width="2.35" stroke-linecap="round" fill="none"/>
<path d="M218.6 190.6h0M175 129.5h0M185.5 140.8h0M73.1 30.9h0M93.6 30.5h0M168.7 156h0M159.7 204.2h0M100.8 82.4h0M78.4 90.5h0M73.3 62.5h0M201.3 31.1h0M227.2 71.6h0M231.2 82.5h0M148.7 178.1h0M190.3 183.2h0M198.9 155.6h0M193 154.9h0M171.7 91.7h0M161.5 88.3h0M131.3 72.1h0M197.8 30.6h0M183.4 35.5h0M72.2 175.5h0M72.1 156.2h0M107.9 132.2h0M118.6 110.2h0M220.3 75.2h0M245.8 170.3h0M226.5 169h0M87.4 68.5h0M231.9 182.7h0M228.7 41.4h0M141.2 58.7h0M96 170.6h0M78.9 165.2h0M246.8 106.3h0M240.4 103.9h0M183.1 193.8h0M241.8 189h0M246.7 192.1h0M237.1 140.1h0M239.2 165.5h0M233.4 102.5h0M217.7 63.2h0M242.2 157.6h0M246.2 166.6h0M242.4 166h0M245.6 150.4h0M109.9 67.6h0M129.1 195.8h0M183.2 54.1h0M186.5 119.5h0M163.3 105h0M153 115h0M137.3 101.7h0M155.3 100.6h0M121.2 57.9h0M113.1 58.2h0M108.5 203.8h0M80.7 189.2h0M152.8 203h0M215.7 101.7h0M180.3 93.6h0M190.4 87.3h0M128.6 127.9h0M111.9 128.8h0M91.8 154h0M168.3 105.7h0M237.4 137.3h0M226.3 121.6h0M82.7 115.5h0M86.7 113.2h0M121 199.2h0M133.6 203h0M159.3 94.1h0M124.8 77.3h0M187 42.1h0M204 48.4h0M139 116.8h0M75.2 53.3h0M92.8 64.6h0M148.2 120.6h0M145.5 52.7h0M124.6 61.2h0M209.1 126.5h0M214.2 131h0M89.1 182.6h0M85 182.8h0M124.4 175.7h0M132.8 179.7h0M172.4 80h0M220.7 67.4h0M246.6 51.5h0M185.9 135.8h0M136 143.5h0M131.1 44.2h0M219.2 204.3h0M246.6 76.8h0M198.1 136.4h0M160 53.7h0M239.4 177.4h0M238.4 180.7h0M136.5 169.2h0M141.3 173.1h0M105.9 76.2h0M99.6 93.1h0M174 195.2h0M240.4 128.3h0M141.8 204.1h0M137.2 202.7h0M231.7 57.2h0M188.8 166.8h0M182.7 197.9h0M154.3 135.7h0M168.7 149.4h0M179.3 160.3h0M146.4 171.3h0M140 31.4h0M192.6 101.5h0M97.1 30.3h0M101.6 39h0M208 162h0M240.3 146.7h0M246.1 142.3h0M246.2 147h0M88.3 133.3h0M86.9 126.3h0M170.1 184.6h0M87.2 119.6h0M100.8 55h0M166.5 71.9h0M73.5 137.8h0M223.3 95.1h0M240.9 77.6h0M246.8 100.7h0M148.6 58.3h0M165.3 164.9h0M158.5 127.7h0M165.5 134.6h0M150.1 75.4h0M199.7 150.3h0M209.5 147.3h0M213.1 184.7h0M122.7 172.2h0M118 160.8h0M137.3 45.9h0M235.2 144.2h0" stroke="#5a2490" stroke-width="2.35" stroke-linecap="round" fill="none"/>
<path d="M83.7 79.6h0M138 82.6h0M243.5 117.1h0" stroke="#fdbf80" stroke-width="2.35" stroke-linecap="round" fill="none"/>
</g>
<defs><radialGradient id="rgii" gradientUnits="userSpaceOnUse" cx="369.6" cy="117.3" r="130"><stop offset="0.000" stop-color="#4c4c4c"/><stop offset="0.146" stop-color="#4c4c4c"/><stop offset="0.158" stop-color="#3d3d3d"/><stop offset="0.185" stop-color="#454545"/><stop offset="0.231" stop-color="#575757"/><stop offset="0.262" stop-color="#6b6b6b"/><stop offset="0.277" stop-color="#8c8c8c"/><stop offset="0.292" stop-color="#999999"/><stop offset="0.304" stop-color="#707070"/><stop offset="0.331" stop-color="#666666"/><stop offset="0.369" stop-color="#6e6e6e"/><stop offset="0.408" stop-color="#878787"/><stop offset="0.438" stop-color="#969696"/><stop offset="0.477" stop-color="#8c8c8c"/><stop offset="0.538" stop-color="#858585"/><stop offset="1.000" stop-color="#858585"/></radialGradient>
<clipPath id="cpii"><rect x="282.3" y="30.2" width="175.4" height="174.2"/></clipPath>
<filter id="fii" x="282.3" y="30.2" width="175.4" height="174.2" filterUnits="userSpaceOnUse" color-interpolation-filters="sRGB">
<feTurbulence type="fractalNoise" baseFrequency="0.38" numOctaves="2" seed="5" result="n0"/>
<feColorMatrix in="n0" type="matrix" values="0 0 0 1 0 0 0 0 1 0 0 0 0 1 0 0 0 0 0 1" result="n"/>
<feComposite in="SourceGraphic" in2="n" operator="arithmetic" k1="1.9" k2="0.05" k3="0" k4="0" result="v"/>
<feComponentTransfer in="v"><feFuncR type="table" tableValues="0.001 0.009 0.025 0.052 0.079 0.113 0.147 0.185 0.232 0.272 0.317 0.354 0.390 0.433 0.470 0.513 0.550 0.588 0.633 0.671 0.716 0.755 0.792 0.835 0.869 0.904 0.930 0.950 0.968 0.978 0.987 0.992 0.995 0.997 0.997 0.997 0.996 0.994 0.991 0.989 0.987"/><feFuncG type="table" tableValues="0.000 0.008 0.021 0.039 0.054 0.065 0.069 0.066 0.060 0.061 0.072 0.085 0.100 0.118 0.132 0.148 0.161 0.174 0.188 0.200 0.215 0.229 0.244 0.266 0.288 0.320 0.353 0.391 0.440 0.484 0.536 0.580 0.624 0.676 0.719 0.770 0.813 0.856 0.906 0.949 0.991"/><feFuncB type="table" tableValues="0.014 0.053 0.101 0.159 0.212 0.277 0.334 0.388 0.438 0.466 0.485 0.496 0.502 0.506 0.508 0.508 0.506 0.502 0.495 0.487 0.475 0.463 0.448 0.428 0.409 0.388 0.373 0.362 0.360 0.366 0.382 0.402 0.427 0.461 0.494 0.535 0.573 0.612 0.661 0.705 0.750"/><feFuncA type="linear" slope="0" intercept="1"/></feComponentTransfer>
</filter></defs>
<g clip-path="url(#cpii)">
<rect x="282.3" y="30.2" width="175.4" height="174.2" fill="url(#rgii)" filter="url(#fii)"/>
<circle cx="369.6" cy="117.3" r="36.3" fill="none" stroke="#fca06c" stroke-width="2.2" opacity="0.55"/>
<circle cx="369.6" cy="117.3" r="37.7" fill="none" stroke="#fdf3c4" stroke-width="1.6" opacity="0.95"/>
<circle cx="369.6" cy="117.3" r="19.6" fill="#000" stroke="#fbe3b0" stroke-width="1.2"/>
</g>
<defs><radialGradient id="rgiii" gradientUnits="userSpaceOnUse" cx="580" cy="117.3" r="130"><stop offset="0.000" stop-color="#111111"/><stop offset="0.023" stop-color="#222222"/><stop offset="0.046" stop-color="#4b4b4b"/><stop offset="0.077" stop-color="#888888"/><stop offset="0.123" stop-color="#aaaaaa"/><stop offset="0.215" stop-color="#aaaaaa"/><stop offset="0.292" stop-color="#969696"/><stop offset="0.369" stop-color="#7a7a7a"/><stop offset="0.446" stop-color="#666666"/><stop offset="0.554" stop-color="#585858"/><stop offset="1.000" stop-color="#555555"/></radialGradient>
<clipPath id="cpiii"><rect x="492.9" y="30.2" width="175.4" height="174.2"/></clipPath>
<filter id="fiii" x="492.9" y="30.2" width="175.4" height="174.2" filterUnits="userSpaceOnUse" color-interpolation-filters="sRGB">
<feTurbulence type="fractalNoise" baseFrequency="0.31" numOctaves="2" seed="11" result="n0"/>
<feColorMatrix in="n0" type="matrix" values="0 0 0 1 0 0 0 0 1 0 0 0 0 1 0 0 0 0 0 1" result="n1"/>
<feComposite in="SourceGraphic" in2="n1" operator="arithmetic" k1="1.535" k2="-0.395" k3="0" k4="0" result="v"/>
<feComponentTransfer in="v"><feFuncR type="table" tableValues="0.001 0.009 0.025 0.052 0.079 0.113 0.147 0.185 0.232 0.272 0.317 0.354 0.390 0.433 0.470 0.513 0.550 0.588 0.633 0.671 0.716 0.761 0.811 0.858 0.895 0.930 0.956 0.972 0.983 0.991 0.995 0.997 0.997 0.996 0.994 0.991 0.989 0.987 0.987 0.987 0.987 0.987 0.987 0.987 0.987 0.987 0.987 0.987 0.987 0.987 0.987 0.987 0.987 0.987 0.987 0.987 0.987 0.987 0.987 0.987 0.987 0.987 0.987 0.987 0.987 0.987 0.987 0.987 0.987 0.987 0.987 0.987 0.987 0.987 0.987 0.987 0.987 0.987 0.987 0.987 0.987"/><feFuncG type="table" tableValues="0.000 0.008 0.021 0.039 0.054 0.065 0.069 0.066 0.060 0.061 0.072 0.085 0.100 0.118 0.132 0.148 0.161 0.174 0.188 0.200 0.215 0.231 0.253 0.280 0.310 0.353 0.404 0.454 0.513 0.573 0.624 0.683 0.741 0.791 0.849 0.906 0.956 0.991 0.991 0.991 0.991 0.991 0.991 0.991 0.991 0.991 0.991 0.991 0.991 0.991 0.991 0.991 0.991 0.991 0.991 0.991 0.991 0.991 0.991 0.991 0.991 0.991 0.991 0.991 0.991 0.991 0.991 0.991 0.991 0.991 0.991 0.991 0.991 0.991 0.991 0.991 0.991 0.991 0.991 0.991 0.991"/><feFuncB type="table" tableValues="0.014 0.053 0.101 0.159 0.212 0.277 0.334 0.388 0.438 0.466 0.485 0.496 0.502 0.506 0.508 0.508 0.506 0.502 0.495 0.487 0.475 0.460 0.439 0.415 0.394 0.373 0.361 0.361 0.374 0.399 0.427 0.467 0.511 0.553 0.606 0.661 0.712 0.750 0.750 0.750 0.750 0.750 0.750 0.750 0.750 0.750 0.750 0.750 0.750 0.750 0.750 0.750 0.750 0.750 0.750 0.750 0.750 0.750 0.750 0.750 0.750 0.750 0.750 0.750 0.750 0.750 0.750 0.750 0.750 0.750 0.750 0.750 0.750 0.750 0.750 0.750 0.750 0.750 0.750 0.750 0.750"/><feFuncA type="linear" slope="0" intercept="1"/></feComponentTransfer>
</filter></defs>
<g clip-path="url(#cpiii)">
<rect x="492.9" y="30.2" width="175.4" height="174.2" fill="url(#rgiii)" filter="url(#fiii)"/>
</g>
<rect x="72" y="30.2" width="175.3" height="174.2" fill="none" stroke="#000" stroke-width="1.8"/>
<rect x="282.3" y="30.2" width="175.4" height="174.2" fill="none" stroke="#000" stroke-width="1.8"/>
<rect x="492.9" y="30.2" width="175.4" height="174.2" fill="none" stroke="#000" stroke-width="1.8"/>
<line x1="84.2" y1="204.4" x2="84.2" y2="210.6" stroke="#000" stroke-width="1.8"/>
<line x1="159.4" y1="204.4" x2="159.4" y2="210.6" stroke="#000" stroke-width="1.8"/>
<line x1="234.6" y1="204.4" x2="234.6" y2="210.6" stroke="#000" stroke-width="1.8"/>
<line x1="121.8" y1="204.4" x2="121.8" y2="208" stroke="#000" stroke-width="1.8"/>
<line x1="197" y1="204.4" x2="197" y2="208" stroke="#000" stroke-width="1.8"/>
<line x1="292.8" y1="204.4" x2="292.8" y2="210.6" stroke="#000" stroke-width="1.8"/>
<line x1="370" y1="204.4" x2="370" y2="210.6" stroke="#000" stroke-width="1.8"/>
<line x1="447.2" y1="204.4" x2="447.2" y2="210.6" stroke="#000" stroke-width="1.8"/>
<line x1="331.4" y1="204.4" x2="331.4" y2="208" stroke="#000" stroke-width="1.8"/>
<line x1="408.6" y1="204.4" x2="408.6" y2="208" stroke="#000" stroke-width="1.8"/>
<line x1="513.8" y1="204.4" x2="513.8" y2="210.6" stroke="#000" stroke-width="1.8"/>
<line x1="580.3" y1="204.4" x2="580.3" y2="210.6" stroke="#000" stroke-width="1.8"/>
<line x1="646.8" y1="204.4" x2="646.8" y2="210.6" stroke="#000" stroke-width="1.8"/>
<line x1="547" y1="204.4" x2="547" y2="208" stroke="#000" stroke-width="1.8"/>
<line x1="613.5" y1="204.4" x2="613.5" y2="208" stroke="#000" stroke-width="1.8"/>
<rect x="202.8" y="16.6" width="44.8" height="5.6" fill="url(#mg)" stroke="#000" stroke-width="1.3"/>
<rect x="413.2" y="16.6" width="44.8" height="5.6" fill="url(#mg)" stroke="#000" stroke-width="1.3"/>
<rect x="623.5" y="16.6" width="45" height="6" fill="url(#mg)" stroke="#000" stroke-width="1.3"/>
<g transform="translate(152.8,6.8) scale(1.0)" fill="none" stroke="#000" stroke-linecap="round" stroke-linejoin="round"><path d="M3.6 3.9 C4.2 1.5 5.5 0.5 8 0.4 C10.5 0.3 13 0.6 16.8 0 M0.3 15.4 C2.5 13.9 4.5 13.8 7.5 14.6 C10.5 15.4 14 15 16.3 11.3 M5.8 6.6 L13.1 6.6" stroke-width="1.15"/><path d="M16.8 0 L0.3 15.4" stroke-width="1.7"/></g>
<g>
<defs><clipPath id="cpb"><rect x="72.1" y="276.6" width="245.6" height="163.4"/></clipPath></defs>
<g clip-path="url(#cpb)">
<path d="M84.3 395.6L115 357.7L133 345.8L145.7 344.6L155.6 330.8L163.7 316.8L170.5 306L176.4 311.2L181.6 306.9L186.3 309L190.5 309L194.4 306.8L197.9 307L201.2 307.8L204.2 308.8L207.1 305.6L209.8 312.1L212.3 321.9L214.7 318.3L217 322.5L219.2 323.7L221.2 319.4L223.2 325.6L225.1 332.3L226.9 326.5L228.6 329.9L230.3 334.3L231.9 335.1L233.5 335.6L235 335.2L236.4 337.9L237.8 337.6L239.2 333.5L240.5 343L241.8 344.3L243 343.9L244.2 340.9L245.4 347.8L246.6 342.4L247.7 352.2L248.8 352.6L249.9 350.7L250.9 354.4L251.9 354.8L252.9 352.6L253.9 352.8L254.8 355.9L255.8 358.3L256.7 354.3L257.6 358.4L258.5 361.4L259.3 358L260.2 365.6L261 363.3L261.8 362.8L262.6 365.9L263.4 368.2L264.2 365.6L264.9 368.6L265.7 369.1L266.4 370.7L267.1 363.7L267.8 369.7L268.5 364.6L269.2 367.3L269.9 369.5L270.5 366.9L271.2 368.2L271.8 368.2L272.5 372.4L273.1 367.4L273.7 364.3L274.3 365.1L274.9 363.1L275.5 361.1L276.1 364L276.7 358.6L277.3 369L277.8 364.5L278.4 371L279 359.5L279.5 360.8L280 354.8L280.6 360.2L281.1 364.4L281.6 353.2L282.1 360.4L282.6 359.2L283.1 354.9L283.6 351.4L284.1 354.1L284.6 350.7L285.1 355.8L285.5 343.2L286 347.4L286.5 345.5L286.9 342.7L287.4 342.7L287.8 341.3L288.3 343.6L288.7 339.7L289.2 336.8L289.6 333.6L290 336L290.4 334.1L290.9 331.8L291.3 329.6L291.7 329.2L292.1 329.1L292.5 328.5L292.9 321.9L293.3 323L293.7 322.4L294.1 310.2L294.5 316.9L294.9 315.6L295.2 316.4L295.6 318.6L296 310.4L296.4 312.8L296.7 311L297.1 306.5L297.5 305.1L297.8 306.1L298.2 305.5L298.5 297.6L298.9 301L299.2 304.6L299.6 297.7L299.9 298.3L300.2 297.3L300.6 294L300.9 294.1L301.3 287.7L301.6 294.2L301.9 295L302.2 293.1L302.6 299.4L302.9 295.4L303.2 299.7L303.5 296.7L303.8 304.1L304.1 301.9L304.4 309.8L304.7 307.9L305.1 308.1L305.4 308.3L305.7 305.3L306 307.3L306.2 318.9L306.5 318.6L306.8 313.9L307.1 317.5L307.4 324.1L307.7 319.4L308 325.4L308.3 325.6L308.6 327.8L308.8 325.7L309.1 318.9L309.4 325.7L309.7 328.2L309.9 321L310.2 331.3L310.5 331.2L310.7 332.6L311 331.2L311.3 334L311.5 329L311.8 335L312.1 332.9L312.3 334.5L312.6 338.4L312.8 339.2L313.1 336.9L313.3 344.4L313.6 337.7L313.8 338L314.1 338.2L314.3 339.1L314.6 338L314.8 340.5L315.1 337.6L315.3 344.9L315.5 337.3L315.8 343.1L316 339.1L316.3 342.3L316.5 342.4L316.7 343.8L317 337.4" fill="none" stroke="#420a68" stroke-width="2.2" stroke-linejoin="round"/>
<path d="M84.3 390.3L89.2 399.1L79.4 399.1ZM115 352.4L119.9 361.2L110.1 361.2ZM133 340.6L137.9 349.4L128 349.4ZM145.7 339.4L150.6 348.2L140.8 348.2ZM155.6 325.5L160.5 334.4L150.7 334.4ZM163.7 311.6L168.6 320.4L158.7 320.4ZM170.5 300.7L175.4 309.6L165.6 309.6ZM176.4 306L181.3 314.8L171.5 314.8ZM181.6 301.6L186.5 310.5L176.7 310.5ZM186.3 303.7L191.2 312.6L181.4 312.6ZM190.5 303.7L195.4 312.5L185.6 312.5ZM194.4 301.6L199.3 310.4L189.4 310.4ZM197.9 301.7L202.8 310.5L193 310.5ZM201.2 302.5L206.1 311.3L196.3 311.3ZM204.2 303.5L209.2 312.4L199.3 312.4ZM207.1 300.3L212 309.1L202.2 309.1ZM209.8 306.8L214.7 315.7L204.9 315.7ZM212.3 316.6L217.3 325.4L207.4 325.4ZM214.7 313L219.7 321.8L209.8 321.8ZM217 317.2L221.9 326L212.1 326ZM219.2 318.4L224.1 327.2L214.2 327.2ZM221.2 314.1L226.1 323L216.3 323ZM223.2 320.3L228.1 329.1L218.3 329.1ZM225.1 327L230 335.8L220.1 335.8ZM226.9 321.2L231.8 330.1L221.9 330.1ZM228.6 324.7L233.5 333.5L223.7 333.5ZM230.3 329L235.2 337.9L225.4 337.9ZM231.9 329.8L236.8 338.6L227 338.6ZM233.5 330.4L238.4 339.2L228.5 339.2ZM235 329.9L239.9 338.8L230 338.8ZM236.4 332.6L241.3 341.4L231.5 341.4ZM237.8 332.4L242.7 341.2L232.9 341.2ZM239.2 328.2L244.1 337L234.2 337ZM240.5 337.7L245.4 346.5L235.6 346.5ZM241.8 339L246.7 347.9L236.9 347.9ZM243 338.6L248 347.4L238.1 347.4ZM244.2 335.7L249.2 344.5L239.3 344.5ZM245.4 342.5L250.4 351.4L240.5 351.4ZM246.6 337.1L251.5 345.9L241.6 345.9ZM247.7 346.9L252.6 355.8L242.8 355.8ZM248.8 347.3L253.7 356.1L243.9 356.1ZM249.9 345.4L254.8 354.3L244.9 354.3ZM250.9 349.1L255.8 358L246 358ZM251.9 349.5L256.8 358.3L247 358.3ZM252.9 347.3L257.8 356.1L248 356.1ZM253.9 347.5L258.8 356.4L249 356.4ZM254.8 350.6L259.8 359.5L249.9 359.5ZM255.8 353L260.7 361.8L250.8 361.8ZM256.7 349.1L261.6 357.9L251.8 357.9ZM257.6 353.1L262.5 361.9L252.7 361.9ZM258.5 356.2L263.4 365L253.5 365ZM259.3 352.7L264.2 361.6L254.4 361.6ZM260.2 360.4L265.1 369.2L255.2 369.2ZM261 358.1L265.9 366.9L256.1 366.9ZM261.8 357.5L266.7 366.4L256.9 366.4ZM262.6 360.6L267.5 369.4L257.7 369.4ZM263.4 362.9L268.3 371.8L258.5 371.8ZM264.2 360.3L269.1 369.2L259.2 369.2ZM264.9 363.4L269.8 372.2L260 372.2ZM265.7 363.8L270.6 372.6L260.7 372.6ZM266.4 365.4L271.3 374.2L261.5 374.2ZM267.1 358.4L272 367.2L262.2 367.2ZM267.8 364.4L272.7 373.3L262.9 373.3ZM268.5 359.4L273.4 368.2L263.6 368.2ZM269.2 362L274.1 370.9L264.3 370.9ZM269.9 364.3L274.8 373.1L265 373.1ZM270.5 361.6L275.5 370.4L265.6 370.4ZM271.2 363L276.1 371.8L266.3 371.8ZM271.8 362.9L276.8 371.7L266.9 371.7ZM272.5 367.1L277.4 376L267.6 376ZM273.1 362.1L278 371L268.2 371ZM273.7 359.1L278.7 367.9L268.8 367.9ZM274.3 359.9L279.3 368.7L269.4 368.7ZM274.9 357.8L279.9 366.7L270 366.7ZM275.5 355.8L280.5 364.6L270.6 364.6ZM276.1 358.7L281.1 367.6L271.2 367.6ZM276.7 353.3L281.6 362.2L271.8 362.2ZM277.3 363.7L282.2 372.6L272.4 372.6ZM277.8 359.3L282.8 368.1L272.9 368.1ZM278.4 365.7L283.3 374.6L273.5 374.6ZM279 354.3L283.9 363.1L274 363.1ZM279.5 355.5L284.4 364.4L274.6 364.4ZM280 349.5L285 358.4L275.1 358.4ZM280.6 355L285.5 363.8L275.6 363.8ZM281.1 359.2L286 368L276.2 368ZM281.6 347.9L286.5 356.7L276.7 356.7ZM282.1 355.1L287 363.9L277.2 363.9ZM282.6 353.9L287.6 362.8L277.7 362.8ZM283.1 349.6L288.1 358.4L278.2 358.4ZM283.6 346.2L288.5 355L278.7 355ZM284.1 348.8L289 357.6L279.2 357.6ZM284.6 345.5L289.5 354.3L279.7 354.3ZM285.1 350.5L290 359.4L280.1 359.4ZM285.5 337.9L290.5 346.7L280.6 346.7ZM286 342.2L290.9 351L281.1 351ZM286.5 340.2L291.4 349.1L281.5 349.1ZM286.9 337.5L291.9 346.3L282 346.3ZM287.4 337.4L292.3 346.3L282.5 346.3ZM287.8 336L292.8 344.9L282.9 344.9ZM288.3 338.3L293.2 347.1L283.4 347.1ZM288.7 334.5L293.7 343.3L283.8 343.3ZM289.2 331.5L294.1 340.3L284.2 340.3ZM289.6 328.3L294.5 337.2L284.7 337.2ZM290 330.7L295 339.6L285.1 339.6ZM290.4 328.9L295.4 337.7L285.5 337.7ZM290.9 326.6L295.8 335.4L285.9 335.4ZM291.3 324.3L296.2 333.2L286.4 333.2ZM291.7 323.9L296.6 332.8L286.8 332.8ZM292.1 323.9L297 332.7L287.2 332.7ZM292.5 323.2L297.4 332L287.6 332ZM292.9 316.6L297.8 325.5L288 325.5ZM293.3 317.8L298.2 326.6L288.4 326.6ZM293.7 317.2L298.6 326L288.8 326ZM294.1 304.9L299 313.8L289.2 313.8ZM294.5 311.6L299.4 320.5L289.5 320.5ZM294.9 310.3L299.8 319.1L289.9 319.1ZM295.2 311.1L300.2 319.9L290.3 319.9ZM295.6 313.3L300.5 322.2L290.7 322.2ZM296 305.2L300.9 314L291.1 314ZM296.4 307.6L301.3 316.4L291.4 316.4ZM296.7 305.7L301.7 314.5L291.8 314.5ZM297.1 301.2L302 310.1L292.2 310.1ZM297.5 299.8L302.4 308.7L292.5 308.7ZM297.8 300.9L302.7 309.7L292.9 309.7ZM298.2 300.2L303.1 309L293.2 309ZM298.5 292.3L303.5 301.2L293.6 301.2ZM298.9 295.7L303.8 304.6L293.9 304.6ZM299.2 299.4L304.2 308.2L294.3 308.2ZM299.6 292.5L304.5 301.3L294.6 301.3ZM299.9 293L304.8 301.8L295 301.8ZM300.2 292.1L305.2 300.9L295.3 300.9ZM300.6 288.7L305.5 297.6L295.7 297.6ZM300.9 288.8L305.9 297.6L296 297.6ZM301.3 282.4L306.2 291.3L296.3 291.3ZM301.6 289L306.5 297.8L296.7 297.8ZM301.9 289.8L306.8 298.6L297 298.6ZM302.2 287.8L307.2 296.7L297.3 296.7ZM302.6 294.1L307.5 303L297.6 303ZM302.9 290.1L307.8 299L297.9 299ZM303.2 294.4L308.1 303.2L298.3 303.2ZM303.5 291.4L308.4 300.3L298.6 300.3ZM303.8 298.9L308.8 307.7L298.9 307.7ZM304.1 296.6L309.1 305.4L299.2 305.4ZM304.4 304.6L309.4 313.4L299.5 313.4ZM304.7 302.6L309.7 311.5L299.8 311.5ZM305.1 302.9L310 311.7L300.1 311.7ZM305.4 303L310.3 311.8L300.4 311.8ZM305.7 300L310.6 308.9L300.7 308.9ZM306 302.1L310.9 310.9L301 310.9ZM306.2 313.6L311.2 322.4L301.3 322.4ZM306.5 313.4L311.5 322.2L301.6 322.2ZM306.8 308.6L311.8 317.5L301.9 317.5ZM307.1 312.2L312.1 321L302.2 321ZM307.4 318.9L312.3 327.7L302.5 327.7ZM307.7 314.1L312.6 323L302.8 323ZM308 320.2L312.9 329L303.1 329ZM308.3 320.3L313.2 329.2L303.3 329.2ZM308.6 322.6L313.5 331.4L303.6 331.4ZM308.8 320.5L313.8 329.3L303.9 329.3ZM309.1 313.6L314 322.5L304.2 322.5ZM309.4 320.4L314.3 329.3L304.5 329.3ZM309.7 322.9L314.6 331.8L304.7 331.8ZM309.9 315.7L314.9 324.6L305 324.6ZM310.2 326L315.1 334.8L305.3 334.8ZM310.5 326L315.4 334.8L305.5 334.8ZM310.7 327.3L315.7 336.1L305.8 336.1ZM311 325.9L315.9 334.8L306.1 334.8ZM311.3 328.7L316.2 337.6L306.3 337.6ZM311.5 323.8L316.5 332.6L306.6 332.6ZM311.8 329.7L316.7 338.6L306.9 338.6ZM312.1 327.6L317 336.4L307.1 336.4ZM312.3 329.2L317.2 338L307.4 338ZM312.6 333.1L317.5 341.9L307.6 341.9ZM312.8 334L317.8 342.8L307.9 342.8ZM313.1 331.6L318 340.4L308.1 340.4ZM313.3 339.1L318.3 348L308.4 348ZM313.6 332.4L318.5 341.3L308.7 341.3ZM313.8 332.7L318.8 341.6L308.9 341.6ZM314.1 332.9L319 341.7L309.1 341.7ZM314.3 333.8L319.3 342.7L309.4 342.7ZM314.6 332.7L319.5 341.6L309.6 341.6ZM314.8 335.2L319.7 344L309.9 344ZM315.1 332.3L320 341.2L310.1 341.2ZM315.3 339.7L320.2 348.5L310.4 348.5ZM315.5 332L320.5 340.8L310.6 340.8ZM315.8 337.8L320.7 346.7L310.8 346.7ZM316 333.8L320.9 342.7L311.1 342.7ZM316.3 337L321.2 345.9L311.3 345.9ZM316.5 337.1L321.4 346L311.6 346ZM316.7 338.5L321.7 347.3L311.8 347.3ZM317 332.1L321.9 340.9L312 340.9Z" fill="#420a68"/>
<path d="M84.3 383.4L115 354.9L133 356L145.7 346.6L155.6 315.2L163.7 320.2L170.5 306L176.4 309L181.6 308.3L186.3 305.6L190.5 304L194.4 307.4L197.9 306.8L201.2 313L204.2 312.4L207.1 314.7L209.8 319.7L212.3 322.3L214.7 324.6L217 321.9L219.2 323.3L221.2 325.2L223.2 325.4L225.1 331.1L226.9 328.5L228.6 329.1L230.3 329.1L231.9 335.7L233.5 335.8L235 342.3L236.4 339L237.8 345.7L239.2 344.6L240.5 338L241.8 349.6L243 341.6L244.2 344.3L245.4 347.6L246.6 346.4L247.7 347.4L248.8 347L249.9 352.2L250.9 354.4L251.9 355.6L252.9 357.8L253.9 356L254.8 359.4L255.8 354.8L256.7 365L257.6 363.7L258.5 364.3L259.3 368.9L260.2 357.4L261 371.9L261.8 366.2L262.6 367.9L263.4 361.7L264.2 373.3L264.9 364L265.7 369.9L266.4 368.3L267.1 370.1L267.8 366.3L268.5 372L269.2 369L269.9 367.8L270.5 363.4L271.2 376.8L271.8 364L272.5 365.3L273.1 369.2L273.7 366.3L274.3 368.2L274.9 361.1L275.5 365.1L276.1 366L276.7 365.5L277.3 364.9L277.8 364.3L278.4 365.9L279 355.7L279.5 367.1L280 371.3L280.6 359.5L281.1 358.6L281.6 356L282.1 356.8L282.6 355.7L283.1 353.3L283.6 350.4L284.1 353.9L284.6 352.5L285.1 343.9L285.5 346.9L286 350.3L286.5 338.6L286.9 342.1L287.4 345.1L287.8 345.6L288.3 339.7L288.7 342L289.2 341.4L289.6 340.9L290 337.2L290.4 331L290.9 334.2L291.3 335.9L291.7 327.8L292.1 328.2L292.5 324.2L292.9 321.7L293.3 324.5L293.7 322.9L294.1 321.2L294.5 323.2L294.9 316.1L295.2 312.6L295.6 314.9L296 314.7L296.4 313.4L296.7 313.6L297.1 312.2L297.5 309.5L297.8 309.5L298.2 306.9L298.5 309.1L298.9 301.7L299.2 301.3L299.6 303.7L299.9 305.9L300.2 297.4L300.6 292.7L300.9 297.1L301.3 295.4L301.6 296.7L301.9 293.8L302.2 299.6L302.6 294.6L302.9 299.5L303.2 296.6L303.5 300.3L303.8 302.2L304.1 307.8L304.4 307L304.7 307.3L305.1 306.1L305.4 309.1L305.7 313.6L306 311.8L306.2 311.6L306.5 316.7L306.8 319.2L307.1 320.1L307.4 317.3L307.7 319.2L308 324.8L308.3 321.8L308.6 325.4L308.8 327.3L309.1 322L309.4 324.3L309.7 330.1L309.9 328.6L310.2 328.3L310.5 332.8L310.7 332.1L311 330.4L311.3 338.6L311.5 332.5L311.8 331.8L312.1 333.1L312.3 339.3L312.6 334.7L312.8 338.9L313.1 334.9L313.3 335.3L313.6 337.1L313.8 340.6L314.1 340.5L314.3 336.2L314.6 341.9L314.8 337.8L315.1 338L315.3 340.7L315.5 332.6L315.8 340.1L316 333.9L316.3 347.1L316.5 348.1L316.7 338.3L317 339.6" fill="none" stroke="#a3307e" stroke-width="2.2" stroke-linejoin="round"/>
<path d="M80.7 379.8h7.2v7.2h-7.2ZM111.4 351.2h7.2v7.2h-7.2ZM129.3 352.4h7.2v7.2h-7.2ZM142.1 343h7.2v7.2h-7.2ZM152 311.6h7.2v7.2h-7.2ZM160 316.5h7.2v7.2h-7.2ZM166.9 302.4h7.2v7.2h-7.2ZM172.8 305.4h7.2v7.2h-7.2ZM178 304.7h7.2v7.2h-7.2ZM182.7 302h7.2v7.2h-7.2ZM186.9 300.4h7.2v7.2h-7.2ZM190.8 303.8h7.2v7.2h-7.2ZM194.3 303.2h7.2v7.2h-7.2ZM197.6 309.4h7.2v7.2h-7.2ZM200.6 308.7h7.2v7.2h-7.2ZM203.5 311.1h7.2v7.2h-7.2ZM206.2 316.1h7.2v7.2h-7.2ZM208.7 318.7h7.2v7.2h-7.2ZM211.1 321h7.2v7.2h-7.2ZM213.4 318.3h7.2v7.2h-7.2ZM215.5 319.6h7.2v7.2h-7.2ZM217.6 321.6h7.2v7.2h-7.2ZM219.6 321.8h7.2v7.2h-7.2ZM221.5 327.5h7.2v7.2h-7.2ZM223.3 324.9h7.2v7.2h-7.2ZM225 325.5h7.2v7.2h-7.2ZM226.7 325.5h7.2v7.2h-7.2ZM228.3 332.1h7.2v7.2h-7.2ZM229.8 332.2h7.2v7.2h-7.2ZM231.3 338.7h7.2v7.2h-7.2ZM232.8 335.4h7.2v7.2h-7.2ZM234.2 342h7.2v7.2h-7.2ZM235.6 341h7.2v7.2h-7.2ZM236.9 334.4h7.2v7.2h-7.2ZM238.2 346h7.2v7.2h-7.2ZM239.4 338h7.2v7.2h-7.2ZM240.6 340.7h7.2v7.2h-7.2ZM241.8 344h7.2v7.2h-7.2ZM243 342.8h7.2v7.2h-7.2ZM244.1 343.8h7.2v7.2h-7.2ZM245.2 343.4h7.2v7.2h-7.2ZM246.2 348.5h7.2v7.2h-7.2ZM247.3 350.8h7.2v7.2h-7.2ZM248.3 351.9h7.2v7.2h-7.2ZM249.3 354.2h7.2v7.2h-7.2ZM250.3 352.4h7.2v7.2h-7.2ZM251.2 355.8h7.2v7.2h-7.2ZM252.2 351.1h7.2v7.2h-7.2ZM253.1 361.4h7.2v7.2h-7.2ZM254 360.1h7.2v7.2h-7.2ZM254.8 360.7h7.2v7.2h-7.2ZM255.7 365.3h7.2v7.2h-7.2ZM256.6 353.8h7.2v7.2h-7.2ZM257.4 368.3h7.2v7.2h-7.2ZM258.2 362.6h7.2v7.2h-7.2ZM259 364.3h7.2v7.2h-7.2ZM259.8 358.1h7.2v7.2h-7.2ZM260.5 369.7h7.2v7.2h-7.2ZM261.3 360.4h7.2v7.2h-7.2ZM262 366.2h7.2v7.2h-7.2ZM262.8 364.7h7.2v7.2h-7.2ZM263.5 366.5h7.2v7.2h-7.2ZM264.2 362.7h7.2v7.2h-7.2ZM264.9 368.4h7.2v7.2h-7.2ZM265.6 365.4h7.2v7.2h-7.2ZM266.3 364.2h7.2v7.2h-7.2ZM266.9 359.8h7.2v7.2h-7.2ZM267.6 373.1h7.2v7.2h-7.2ZM268.2 360.4h7.2v7.2h-7.2ZM268.9 361.6h7.2v7.2h-7.2ZM269.5 365.6h7.2v7.2h-7.2ZM270.1 362.6h7.2v7.2h-7.2ZM270.7 364.6h7.2v7.2h-7.2ZM271.3 357.5h7.2v7.2h-7.2ZM271.9 361.5h7.2v7.2h-7.2ZM272.5 362.3h7.2v7.2h-7.2ZM273.1 361.9h7.2v7.2h-7.2ZM273.7 361.3h7.2v7.2h-7.2ZM274.2 360.7h7.2v7.2h-7.2ZM274.8 362.3h7.2v7.2h-7.2ZM275.3 352.1h7.2v7.2h-7.2ZM275.9 363.4h7.2v7.2h-7.2ZM276.4 367.7h7.2v7.2h-7.2ZM277 355.9h7.2v7.2h-7.2ZM277.5 355h7.2v7.2h-7.2ZM278 352.4h7.2v7.2h-7.2ZM278.5 353.2h7.2v7.2h-7.2ZM279 352.1h7.2v7.2h-7.2ZM279.5 349.7h7.2v7.2h-7.2ZM280 346.7h7.2v7.2h-7.2ZM280.5 350.3h7.2v7.2h-7.2ZM281 348.9h7.2v7.2h-7.2ZM281.5 340.3h7.2v7.2h-7.2ZM281.9 343.3h7.2v7.2h-7.2ZM282.4 346.7h7.2v7.2h-7.2ZM282.9 335h7.2v7.2h-7.2ZM283.3 338.5h7.2v7.2h-7.2ZM283.8 341.5h7.2v7.2h-7.2ZM284.2 342h7.2v7.2h-7.2ZM284.7 336.1h7.2v7.2h-7.2ZM285.1 338.4h7.2v7.2h-7.2ZM285.6 337.8h7.2v7.2h-7.2ZM286 337.3h7.2v7.2h-7.2ZM286.4 333.6h7.2v7.2h-7.2ZM286.8 327.3h7.2v7.2h-7.2ZM287.3 330.6h7.2v7.2h-7.2ZM287.7 332.3h7.2v7.2h-7.2ZM288.1 324.2h7.2v7.2h-7.2ZM288.5 324.5h7.2v7.2h-7.2ZM288.9 320.6h7.2v7.2h-7.2ZM289.3 318h7.2v7.2h-7.2ZM289.7 320.9h7.2v7.2h-7.2ZM290.1 319.3h7.2v7.2h-7.2ZM290.5 317.6h7.2v7.2h-7.2ZM290.9 319.6h7.2v7.2h-7.2ZM291.2 312.5h7.2v7.2h-7.2ZM291.6 308.9h7.2v7.2h-7.2ZM292 311.3h7.2v7.2h-7.2ZM292.4 311.1h7.2v7.2h-7.2ZM292.8 309.7h7.2v7.2h-7.2ZM293.1 309.9h7.2v7.2h-7.2ZM293.5 308.6h7.2v7.2h-7.2ZM293.8 305.9h7.2v7.2h-7.2ZM294.2 305.9h7.2v7.2h-7.2ZM294.6 303.3h7.2v7.2h-7.2ZM294.9 305.4h7.2v7.2h-7.2ZM295.3 298.1h7.2v7.2h-7.2ZM295.6 297.7h7.2v7.2h-7.2ZM296 300.1h7.2v7.2h-7.2ZM296.3 302.3h7.2v7.2h-7.2ZM296.6 293.8h7.2v7.2h-7.2ZM297 289.1h7.2v7.2h-7.2ZM297.3 293.5h7.2v7.2h-7.2ZM297.6 291.8h7.2v7.2h-7.2ZM298 293h7.2v7.2h-7.2ZM298.3 290.2h7.2v7.2h-7.2ZM298.6 296h7.2v7.2h-7.2ZM298.9 291h7.2v7.2h-7.2ZM299.3 295.9h7.2v7.2h-7.2ZM299.6 293h7.2v7.2h-7.2ZM299.9 296.7h7.2v7.2h-7.2ZM300.2 298.6h7.2v7.2h-7.2ZM300.5 304.2h7.2v7.2h-7.2ZM300.8 303.4h7.2v7.2h-7.2ZM301.1 303.7h7.2v7.2h-7.2ZM301.4 302.5h7.2v7.2h-7.2ZM301.7 305.4h7.2v7.2h-7.2ZM302 310h7.2v7.2h-7.2ZM302.3 308.2h7.2v7.2h-7.2ZM302.6 308h7.2v7.2h-7.2ZM302.9 313.1h7.2v7.2h-7.2ZM303.2 315.6h7.2v7.2h-7.2ZM303.5 316.5h7.2v7.2h-7.2ZM303.8 313.7h7.2v7.2h-7.2ZM304.1 315.6h7.2v7.2h-7.2ZM304.4 321.2h7.2v7.2h-7.2ZM304.7 318.1h7.2v7.2h-7.2ZM304.9 321.8h7.2v7.2h-7.2ZM305.2 323.7h7.2v7.2h-7.2ZM305.5 318.4h7.2v7.2h-7.2ZM305.8 320.7h7.2v7.2h-7.2ZM306 326.5h7.2v7.2h-7.2ZM306.3 325h7.2v7.2h-7.2ZM306.6 324.6h7.2v7.2h-7.2ZM306.9 329.2h7.2v7.2h-7.2ZM307.1 328.5h7.2v7.2h-7.2ZM307.4 326.8h7.2v7.2h-7.2ZM307.7 335h7.2v7.2h-7.2ZM307.9 328.9h7.2v7.2h-7.2ZM308.2 328.2h7.2v7.2h-7.2ZM308.4 329.4h7.2v7.2h-7.2ZM308.7 335.7h7.2v7.2h-7.2ZM309 331.1h7.2v7.2h-7.2ZM309.2 335.3h7.2v7.2h-7.2ZM309.5 331.3h7.2v7.2h-7.2ZM309.7 331.7h7.2v7.2h-7.2ZM310 333.5h7.2v7.2h-7.2ZM310.2 337h7.2v7.2h-7.2ZM310.5 336.9h7.2v7.2h-7.2ZM310.7 332.6h7.2v7.2h-7.2ZM311 338.3h7.2v7.2h-7.2ZM311.2 334.2h7.2v7.2h-7.2ZM311.4 334.4h7.2v7.2h-7.2ZM311.7 337.1h7.2v7.2h-7.2ZM311.9 329h7.2v7.2h-7.2ZM312.2 336.5h7.2v7.2h-7.2ZM312.4 330.3h7.2v7.2h-7.2ZM312.6 343.5h7.2v7.2h-7.2ZM312.9 344.5h7.2v7.2h-7.2ZM313.1 334.6h7.2v7.2h-7.2ZM313.3 336h7.2v7.2h-7.2Z" fill="#a3307e"/>
<path d="M84.3 415.2L115 368.7L133 368.5L145.7 342.6L155.6 338.6L163.7 323.8L170.5 319.1L176.4 318.2L181.6 318.4L186.3 317L190.5 315.2L194.4 313.8L197.9 317.7L201.2 312.9L204.2 319.1L207.1 334L209.8 316L212.3 325.8L214.7 329.7L217 327.1L219.2 329.3L221.2 332L223.2 338L225.1 334.9L226.9 344.6L228.6 332.6L230.3 347.3L231.9 343.5L233.5 343.5L235 343.6L236.4 346.8L237.8 344.4L239.2 364.6L240.5 349.6L241.8 350.9L243 353.1L244.2 344.9L245.4 357.6L246.6 354.3L247.7 364.3L248.8 354.3L249.9 364.1L250.9 364.7L251.9 347L252.9 355.5L253.9 359.7L254.8 359.7L255.8 368.1L256.7 367.1L257.6 360.9L258.5 373.7L259.3 363.2L260.2 373.5L261 365.4L261.8 372.2L262.6 359.5L263.4 363.5L264.2 371L264.9 377.7L265.7 372.6L266.4 369.4L267.1 374L267.8 368.1L268.5 364.9L269.2 370.1L269.9 372L270.5 366.4L271.2 371.6L271.8 365.6L272.5 370.6L273.1 360.9L273.7 369.3L274.3 372.5L274.9 366.5L275.5 369.4L276.1 370.4L276.7 366L277.3 361.3L277.8 374.7L278.4 364L279 363.4L279.5 362.4L280 356.9L280.6 365.9L281.1 355.6L281.6 358.8L282.1 356.2L282.6 356.9L283.1 356.5L283.6 356.4L284.1 351.1L284.6 341.9L285.1 345.5L285.5 345.1L286 345.1L286.5 348.7L286.9 342.2L287.4 333.9L287.8 348.5L288.3 337.2L288.7 335L289.2 337.2L289.6 333.6L290 329.5L290.4 324.3L290.9 327.1L291.3 323.9L291.7 328.7L292.1 324.8L292.5 326.4L292.9 324.3L293.3 326.5L293.7 319.6L294.1 314.5L294.5 320.7L294.9 317.3L295.2 314.2L295.6 315.6L296 309.8L296.4 311.6L296.7 316.9L297.1 314.8L297.5 305.1L297.8 304.1L298.2 300.5L298.5 303.2L298.9 302L299.2 309.1L299.6 293.7L299.9 303.3L300.2 292.7L300.6 301.7L300.9 298.1L301.3 293.4L301.6 297L301.9 299.3L302.2 292.6L302.6 294.6L302.9 296.8L303.2 301.2L303.5 304.4L303.8 303.9L304.1 305.8L304.4 305.1L304.7 303L305.1 309.1L305.4 313.7L305.7 314.5L306 307.1L306.2 314L306.5 315.3L306.8 316.6L307.1 316.1L307.4 319.3L307.7 315.4L308 318.1L308.3 336.3L308.6 324.6L308.8 311.1L309.1 332L309.4 326.3L309.7 322.8L309.9 328.9L310.2 323.6L310.5 336.7L310.7 337.6L311 333.4L311.3 336.5L311.5 338.6L311.8 331.4L312.1 333.4L312.3 335.1L312.6 337.6L312.8 335L313.1 337.3L313.3 340.7L313.6 335.3L313.8 336.5L314.1 338.2L314.3 335.6L314.6 344.3L314.8 340.1L315.1 342.1L315.3 333.6L315.5 337.7L315.8 330.4L316 333.2L316.3 342.6L316.5 346.2L316.7 339L317 342.9" fill="none" stroke="#ed6925" stroke-width="2.2" stroke-linejoin="round"/>
<path d="M84.3 420.5L89.2 411.7L79.4 411.7ZM115 374L119.9 365.1L110.1 365.1ZM133 373.8L137.9 364.9L128 364.9ZM145.7 347.9L150.6 339L140.8 339ZM155.6 343.8L160.5 335L150.7 335ZM163.7 329.1L168.6 320.3L158.7 320.3ZM170.5 324.3L175.4 315.5L165.6 315.5ZM176.4 323.5L181.3 314.6L171.5 314.6ZM181.6 323.7L186.5 314.8L176.7 314.8ZM186.3 322.3L191.2 313.4L181.4 313.4ZM190.5 320.4L195.4 311.6L185.6 311.6ZM194.4 319.1L199.3 310.3L189.4 310.3ZM197.9 323L202.8 314.2L193 314.2ZM201.2 318.1L206.1 309.3L196.3 309.3ZM204.2 324.3L209.2 315.5L199.3 315.5ZM207.1 339.2L212 330.4L202.2 330.4ZM209.8 321.3L214.7 312.4L204.9 312.4ZM212.3 331.1L217.3 322.2L207.4 322.2ZM214.7 335L219.7 326.2L209.8 326.2ZM217 332.4L221.9 323.5L212.1 323.5ZM219.2 334.5L224.1 325.7L214.2 325.7ZM221.2 337.2L226.1 328.4L216.3 328.4ZM223.2 343.3L228.1 334.5L218.3 334.5ZM225.1 340.1L230 331.3L220.1 331.3ZM226.9 349.9L231.8 341L221.9 341ZM228.6 337.9L233.5 329L223.7 329ZM230.3 352.5L235.2 343.7L225.4 343.7ZM231.9 348.7L236.8 339.9L227 339.9ZM233.5 348.8L238.4 339.9L228.5 339.9ZM235 348.9L239.9 340L230 340ZM236.4 352.1L241.3 343.2L231.5 343.2ZM237.8 349.7L242.7 340.8L232.9 340.8ZM239.2 369.9L244.1 361L234.2 361ZM240.5 354.9L245.4 346.1L235.6 346.1ZM241.8 356.2L246.7 347.3L236.9 347.3ZM243 358.4L248 349.6L238.1 349.6ZM244.2 350.2L249.2 341.3L239.3 341.3ZM245.4 362.8L250.4 354L240.5 354ZM246.6 359.5L251.5 350.7L241.6 350.7ZM247.7 369.6L252.6 360.7L242.8 360.7ZM248.8 359.6L253.7 350.8L243.9 350.8ZM249.9 369.4L254.8 360.5L244.9 360.5ZM250.9 369.9L255.8 361.1L246 361.1ZM251.9 352.3L256.8 343.4L247 343.4ZM252.9 360.8L257.8 352L248 352ZM253.9 364.9L258.8 356.1L249 356.1ZM254.8 364.9L259.8 356.1L249.9 356.1ZM255.8 373.4L260.7 364.5L250.8 364.5ZM256.7 372.4L261.6 363.5L251.8 363.5ZM257.6 366.2L262.5 357.4L252.7 357.4ZM258.5 379L263.4 370.2L253.5 370.2ZM259.3 368.5L264.2 359.6L254.4 359.6ZM260.2 378.7L265.1 369.9L255.2 369.9ZM261 370.7L265.9 361.9L256.1 361.9ZM261.8 377.5L266.7 368.6L256.9 368.6ZM262.6 364.8L267.5 355.9L257.7 355.9ZM263.4 368.8L268.3 359.9L258.5 359.9ZM264.2 376.2L269.1 367.4L259.2 367.4ZM264.9 383L269.8 374.1L260 374.1ZM265.7 377.9L270.6 369.1L260.7 369.1ZM266.4 374.6L271.3 365.8L261.5 365.8ZM267.1 379.3L272 370.4L262.2 370.4ZM267.8 373.4L272.7 364.5L262.9 364.5ZM268.5 370.2L273.4 361.4L263.6 361.4ZM269.2 375.3L274.1 366.5L264.3 366.5ZM269.9 377.3L274.8 368.5L265 368.5ZM270.5 371.7L275.5 362.9L265.6 362.9ZM271.2 376.9L276.1 368L266.3 368ZM271.8 370.9L276.8 362L266.9 362ZM272.5 375.9L277.4 367L267.6 367ZM273.1 366.1L278 357.3L268.2 357.3ZM273.7 374.6L278.7 365.7L268.8 365.7ZM274.3 377.8L279.3 368.9L269.4 368.9ZM274.9 371.7L279.9 362.9L270 362.9ZM275.5 374.7L280.5 365.8L270.6 365.8ZM276.1 375.6L281.1 366.8L271.2 366.8ZM276.7 371.3L281.6 362.4L271.8 362.4ZM277.3 366.6L282.2 357.8L272.4 357.8ZM277.8 379.9L282.8 371.1L272.9 371.1ZM278.4 369.2L283.3 360.4L273.5 360.4ZM279 368.7L283.9 359.9L274 359.9ZM279.5 367.7L284.4 358.8L274.6 358.8ZM280 362.1L285 353.3L275.1 353.3ZM280.6 371.2L285.5 362.3L275.6 362.3ZM281.1 360.8L286 352L276.2 352ZM281.6 364.1L286.5 355.3L276.7 355.3ZM282.1 361.5L287 352.7L277.2 352.7ZM282.6 362.1L287.6 353.3L277.7 353.3ZM283.1 361.7L288.1 352.9L278.2 352.9ZM283.6 361.7L288.5 352.9L278.7 352.9ZM284.1 356.3L289 347.5L279.2 347.5ZM284.6 347.1L289.5 338.3L279.7 338.3ZM285.1 350.7L290 341.9L280.1 341.9ZM285.5 350.3L290.5 341.5L280.6 341.5ZM286 350.4L290.9 341.5L281.1 341.5ZM286.5 353.9L291.4 345.1L281.5 345.1ZM286.9 347.5L291.9 338.6L282 338.6ZM287.4 339.2L292.3 330.3L282.5 330.3ZM287.8 353.8L292.8 345L282.9 345ZM288.3 342.5L293.2 333.6L283.4 333.6ZM288.7 340.3L293.7 331.5L283.8 331.5ZM289.2 342.5L294.1 333.7L284.2 333.7ZM289.6 338.8L294.5 330L284.7 330ZM290 334.7L295 325.9L285.1 325.9ZM290.4 329.6L295.4 320.7L285.5 320.7ZM290.9 332.4L295.8 323.5L285.9 323.5ZM291.3 329.2L296.2 320.3L286.4 320.3ZM291.7 333.9L296.6 325.1L286.8 325.1ZM292.1 330.1L297 321.2L287.2 321.2ZM292.5 331.7L297.4 322.8L287.6 322.8ZM292.9 329.6L297.8 320.8L288 320.8ZM293.3 331.7L298.2 322.9L288.4 322.9ZM293.7 324.9L298.6 316L288.8 316ZM294.1 319.8L299 310.9L289.2 310.9ZM294.5 326L299.4 317.1L289.5 317.1ZM294.9 322.6L299.8 313.8L289.9 313.8ZM295.2 319.4L300.2 310.6L290.3 310.6ZM295.6 320.9L300.5 312L290.7 312ZM296 315.1L300.9 306.2L291.1 306.2ZM296.4 316.8L301.3 308L291.4 308ZM296.7 322.2L301.7 313.3L291.8 313.3ZM297.1 320.1L302 311.2L292.2 311.2ZM297.5 310.3L302.4 301.5L292.5 301.5ZM297.8 309.4L302.7 300.6L292.9 300.6ZM298.2 305.8L303.1 296.9L293.2 296.9ZM298.5 308.4L303.5 299.6L293.6 299.6ZM298.9 307.3L303.8 298.4L293.9 298.4ZM299.2 314.3L304.2 305.5L294.3 305.5ZM299.6 298.9L304.5 290.1L294.6 290.1ZM299.9 308.6L304.8 299.7L295 299.7ZM300.2 297.9L305.2 289.1L295.3 289.1ZM300.6 306.9L305.5 298.1L295.7 298.1ZM300.9 303.4L305.9 294.5L296 294.5ZM301.3 298.6L306.2 289.8L296.3 289.8ZM301.6 302.3L306.5 293.5L296.7 293.5ZM301.9 304.5L306.8 295.7L297 295.7ZM302.2 297.9L307.2 289.1L297.3 289.1ZM302.6 299.9L307.5 291L297.6 291ZM302.9 302.1L307.8 293.3L297.9 293.3ZM303.2 306.5L308.1 297.6L298.3 297.6ZM303.5 309.7L308.4 300.8L298.6 300.8ZM303.8 309.1L308.8 300.3L298.9 300.3ZM304.1 311L309.1 302.2L299.2 302.2ZM304.4 310.4L309.4 301.5L299.5 301.5ZM304.7 308.3L309.7 299.4L299.8 299.4ZM305.1 314.3L310 305.5L300.1 305.5ZM305.4 318.9L310.3 310.1L300.4 310.1ZM305.7 319.7L310.6 310.9L300.7 310.9ZM306 312.4L310.9 303.6L301 303.6ZM306.2 319.3L311.2 310.4L301.3 310.4ZM306.5 320.5L311.5 311.7L301.6 311.7ZM306.8 321.8L311.8 313L301.9 313ZM307.1 321.4L312.1 312.6L302.2 312.6ZM307.4 324.6L312.3 315.7L302.5 315.7ZM307.7 320.7L312.6 311.8L302.8 311.8ZM308 323.4L312.9 314.6L303.1 314.6ZM308.3 341.6L313.2 332.7L303.3 332.7ZM308.6 329.9L313.5 321.1L303.6 321.1ZM308.8 316.4L313.8 307.5L303.9 307.5ZM309.1 337.3L314 328.4L304.2 328.4ZM309.4 331.6L314.3 322.8L304.5 322.8ZM309.7 328.1L314.6 319.3L304.7 319.3ZM309.9 334.2L314.9 325.3L305 325.3ZM310.2 328.8L315.1 320L305.3 320ZM310.5 342L315.4 333.2L305.5 333.2ZM310.7 342.9L315.7 334.1L305.8 334.1ZM311 338.7L315.9 329.8L306.1 329.8ZM311.3 341.8L316.2 333L306.3 333ZM311.5 343.9L316.5 335.1L306.6 335.1ZM311.8 336.7L316.7 327.9L306.9 327.9ZM312.1 338.6L317 329.8L307.1 329.8ZM312.3 340.4L317.2 331.6L307.4 331.6ZM312.6 342.9L317.5 334L307.6 334ZM312.8 340.2L317.8 331.4L307.9 331.4ZM313.1 342.6L318 333.7L308.1 333.7ZM313.3 345.9L318.3 337.1L308.4 337.1ZM313.6 340.6L318.5 331.8L308.7 331.8ZM313.8 341.8L318.8 332.9L308.9 332.9ZM314.1 343.5L319 334.7L309.1 334.7ZM314.3 340.9L319.3 332L309.4 332ZM314.6 349.6L319.5 340.7L309.6 340.7ZM314.8 345.3L319.7 336.5L309.9 336.5ZM315.1 347.3L320 338.5L310.1 338.5ZM315.3 338.9L320.2 330.1L310.4 330.1ZM315.5 343L320.5 334.2L310.6 334.2ZM315.8 335.7L320.7 326.9L310.8 326.9ZM316 338.5L320.9 329.7L311.1 329.7ZM316.3 347.8L321.2 339L311.3 339ZM316.5 351.5L321.4 342.6L311.6 342.6ZM316.7 344.3L321.7 335.5L311.8 335.5ZM317 348.1L321.9 339.3L312 339.3Z" fill="#ed6925"/>
<path d="M84.3 425.8L115 387.1L133 359.6L145.7 357.1L155.6 346.5L163.7 332.6L170.5 329.7L176.4 329L181.6 320.9L186.3 320.8L190.5 318.8L194.4 324.6L197.9 321.4L201.2 323.7L204.2 331.6L207.1 325.8L209.8 329.5L212.3 323.5L214.7 335L217 338.7L219.2 335.2L221.2 341.5L223.2 340.5L225.1 347.7L226.9 347.1L228.6 345.8L230.3 349.3L231.9 352.1L233.5 357.6L235 351.7L236.4 353.7L237.8 351.4L239.2 353.9L240.5 350.7L241.8 355.9L243 355.4L244.2 353.9L245.4 361.6L246.6 359.4L247.7 360.4L248.8 350.7L249.9 359.9L250.9 357.3L251.9 358L252.9 362.3L253.9 368.1L254.8 358.3L255.8 364.6L256.7 360.5L257.6 369.5L258.5 366.5L259.3 360L260.2 359.8L261 371.7L261.8 372.4L262.6 367.6L263.4 364.7L264.2 367.2L264.9 366.8L265.7 372.4L266.4 366L267.1 364L267.8 370.7L268.5 375L269.2 372.4L269.9 366.2L270.5 376.8L271.2 370L271.8 373.1L272.5 369L273.1 368.9L273.7 367.3L274.3 360.6L274.9 364.6L275.5 360.2L276.1 365.9L276.7 366.8L277.3 362.7L277.8 375.6L278.4 363.3L279 361.4L279.5 366.2L280 358.2L280.6 361.4L281.1 368.3L281.6 358L282.1 360.3L282.6 357.4L283.1 354.9L283.6 348.2L284.1 352L284.6 351.4L285.1 348.3L285.5 356.1L286 342.1L286.5 350.4L286.9 342.7L287.4 347.9L287.8 346L288.3 342.3L288.7 331.5L289.2 335.2L289.6 339.4L290 336.8L290.4 339.2L290.9 333L291.3 333.8L291.7 326.9L292.1 334L292.5 328.3L292.9 328.9L293.3 326.9L293.7 319.5L294.1 320.5L294.5 317.2L294.9 313.3L295.2 312.1L295.6 321.2L296 311.8L296.4 319.9L296.7 311.4L297.1 301.7L297.5 309.1L297.8 308.4L298.2 304.8L298.5 304.1L298.9 302.7L299.2 304.6L299.6 295.6L299.9 295L300.2 298.3L300.6 294.8L300.9 292.1L301.3 289.6L301.6 293.2L301.9 292.9L302.2 297.8L302.6 302.1L302.9 300.6L303.2 295.2L303.5 296.3L303.8 300.9L304.1 305.5L304.4 303.6L304.7 299.6L305.1 302.5L305.4 312.7L305.7 311.6L306 319.1L306.2 319.4L306.5 315.5L306.8 317.7L307.1 314.8L307.4 314.6L307.7 317.4L308 316.4L308.3 325.2L308.6 328.6L308.8 322.8L309.1 314.8L309.4 325.4L309.7 332.7L309.9 327.8L310.2 323.9L310.5 335.1L310.7 328.4L311 335L311.3 327.7L311.5 330.3L311.8 332.8L312.1 326.3L312.3 336.9L312.6 338.5L312.8 328.5L313.1 340.4L313.3 328.1L313.6 337.9L313.8 342.6L314.1 338.6L314.3 338.3L314.6 338.3L314.8 340.2L315.1 335.1L315.3 349.5L315.5 342.4L315.8 341.4L316 333L316.3 349.1L316.5 342.5L316.7 346.1L317 344.3" fill="none" stroke="#fbb61a" stroke-width="2.2" stroke-linejoin="round"/>
<path d="M80 425.8a4.2 4.2 0 1 0 8.5 0a4.2 4.2 0 1 0 -8.5 0M110.7 387.1a4.2 4.2 0 1 0 8.5 0a4.2 4.2 0 1 0 -8.5 0M128.7 359.6a4.2 4.2 0 1 0 8.5 0a4.2 4.2 0 1 0 -8.5 0M141.4 357.1a4.2 4.2 0 1 0 8.5 0a4.2 4.2 0 1 0 -8.5 0M151.3 346.5a4.2 4.2 0 1 0 8.5 0a4.2 4.2 0 1 0 -8.5 0M159.4 332.6a4.2 4.2 0 1 0 8.5 0a4.2 4.2 0 1 0 -8.5 0M166.2 329.7a4.2 4.2 0 1 0 8.5 0a4.2 4.2 0 1 0 -8.5 0M172.2 329a4.2 4.2 0 1 0 8.5 0a4.2 4.2 0 1 0 -8.5 0M177.4 320.9a4.2 4.2 0 1 0 8.5 0a4.2 4.2 0 1 0 -8.5 0M182 320.8a4.2 4.2 0 1 0 8.5 0a4.2 4.2 0 1 0 -8.5 0M186.3 318.8a4.2 4.2 0 1 0 8.5 0a4.2 4.2 0 1 0 -8.5 0M190.1 324.6a4.2 4.2 0 1 0 8.5 0a4.2 4.2 0 1 0 -8.5 0M193.7 321.4a4.2 4.2 0 1 0 8.5 0a4.2 4.2 0 1 0 -8.5 0M196.9 323.7a4.2 4.2 0 1 0 8.5 0a4.2 4.2 0 1 0 -8.5 0M200 331.6a4.2 4.2 0 1 0 8.5 0a4.2 4.2 0 1 0 -8.5 0M202.9 325.8a4.2 4.2 0 1 0 8.5 0a4.2 4.2 0 1 0 -8.5 0M205.5 329.5a4.2 4.2 0 1 0 8.5 0a4.2 4.2 0 1 0 -8.5 0M208.1 323.5a4.2 4.2 0 1 0 8.5 0a4.2 4.2 0 1 0 -8.5 0M210.5 335a4.2 4.2 0 1 0 8.5 0a4.2 4.2 0 1 0 -8.5 0M212.7 338.7a4.2 4.2 0 1 0 8.5 0a4.2 4.2 0 1 0 -8.5 0M214.9 335.2a4.2 4.2 0 1 0 8.5 0a4.2 4.2 0 1 0 -8.5 0M217 341.5a4.2 4.2 0 1 0 8.5 0a4.2 4.2 0 1 0 -8.5 0M218.9 340.5a4.2 4.2 0 1 0 8.5 0a4.2 4.2 0 1 0 -8.5 0M220.8 347.7a4.2 4.2 0 1 0 8.5 0a4.2 4.2 0 1 0 -8.5 0M222.6 347.1a4.2 4.2 0 1 0 8.5 0a4.2 4.2 0 1 0 -8.5 0M224.4 345.8a4.2 4.2 0 1 0 8.5 0a4.2 4.2 0 1 0 -8.5 0M226 349.3a4.2 4.2 0 1 0 8.5 0a4.2 4.2 0 1 0 -8.5 0M227.6 352.1a4.2 4.2 0 1 0 8.5 0a4.2 4.2 0 1 0 -8.5 0M229.2 357.6a4.2 4.2 0 1 0 8.5 0a4.2 4.2 0 1 0 -8.5 0M230.7 351.7a4.2 4.2 0 1 0 8.5 0a4.2 4.2 0 1 0 -8.5 0M232.2 353.7a4.2 4.2 0 1 0 8.5 0a4.2 4.2 0 1 0 -8.5 0M233.6 351.4a4.2 4.2 0 1 0 8.5 0a4.2 4.2 0 1 0 -8.5 0M234.9 353.9a4.2 4.2 0 1 0 8.5 0a4.2 4.2 0 1 0 -8.5 0M236.2 350.7a4.2 4.2 0 1 0 8.5 0a4.2 4.2 0 1 0 -8.5 0M237.5 355.9a4.2 4.2 0 1 0 8.5 0a4.2 4.2 0 1 0 -8.5 0M238.8 355.4a4.2 4.2 0 1 0 8.5 0a4.2 4.2 0 1 0 -8.5 0M240 353.9a4.2 4.2 0 1 0 8.5 0a4.2 4.2 0 1 0 -8.5 0M241.2 361.6a4.2 4.2 0 1 0 8.5 0a4.2 4.2 0 1 0 -8.5 0M242.3 359.4a4.2 4.2 0 1 0 8.5 0a4.2 4.2 0 1 0 -8.5 0M243.4 360.4a4.2 4.2 0 1 0 8.5 0a4.2 4.2 0 1 0 -8.5 0M244.5 350.7a4.2 4.2 0 1 0 8.5 0a4.2 4.2 0 1 0 -8.5 0M245.6 359.9a4.2 4.2 0 1 0 8.5 0a4.2 4.2 0 1 0 -8.5 0M246.7 357.3a4.2 4.2 0 1 0 8.5 0a4.2 4.2 0 1 0 -8.5 0M247.7 358a4.2 4.2 0 1 0 8.5 0a4.2 4.2 0 1 0 -8.5 0M248.7 362.3a4.2 4.2 0 1 0 8.5 0a4.2 4.2 0 1 0 -8.5 0M249.6 368.1a4.2 4.2 0 1 0 8.5 0a4.2 4.2 0 1 0 -8.5 0M250.6 358.3a4.2 4.2 0 1 0 8.5 0a4.2 4.2 0 1 0 -8.5 0M251.5 364.6a4.2 4.2 0 1 0 8.5 0a4.2 4.2 0 1 0 -8.5 0M252.4 360.5a4.2 4.2 0 1 0 8.5 0a4.2 4.2 0 1 0 -8.5 0M253.3 369.5a4.2 4.2 0 1 0 8.5 0a4.2 4.2 0 1 0 -8.5 0M254.2 366.5a4.2 4.2 0 1 0 8.5 0a4.2 4.2 0 1 0 -8.5 0M255.1 360a4.2 4.2 0 1 0 8.5 0a4.2 4.2 0 1 0 -8.5 0M255.9 359.8a4.2 4.2 0 1 0 8.5 0a4.2 4.2 0 1 0 -8.5 0M256.7 371.7a4.2 4.2 0 1 0 8.5 0a4.2 4.2 0 1 0 -8.5 0M257.6 372.4a4.2 4.2 0 1 0 8.5 0a4.2 4.2 0 1 0 -8.5 0M258.4 367.6a4.2 4.2 0 1 0 8.5 0a4.2 4.2 0 1 0 -8.5 0M259.1 364.7a4.2 4.2 0 1 0 8.5 0a4.2 4.2 0 1 0 -8.5 0M259.9 367.2a4.2 4.2 0 1 0 8.5 0a4.2 4.2 0 1 0 -8.5 0M260.7 366.8a4.2 4.2 0 1 0 8.5 0a4.2 4.2 0 1 0 -8.5 0M261.4 372.4a4.2 4.2 0 1 0 8.5 0a4.2 4.2 0 1 0 -8.5 0M262.1 366a4.2 4.2 0 1 0 8.5 0a4.2 4.2 0 1 0 -8.5 0M262.9 364a4.2 4.2 0 1 0 8.5 0a4.2 4.2 0 1 0 -8.5 0M263.6 370.7a4.2 4.2 0 1 0 8.5 0a4.2 4.2 0 1 0 -8.5 0M264.3 375a4.2 4.2 0 1 0 8.5 0a4.2 4.2 0 1 0 -8.5 0M265 372.4a4.2 4.2 0 1 0 8.5 0a4.2 4.2 0 1 0 -8.5 0M265.6 366.2a4.2 4.2 0 1 0 8.5 0a4.2 4.2 0 1 0 -8.5 0M266.3 376.8a4.2 4.2 0 1 0 8.5 0a4.2 4.2 0 1 0 -8.5 0M267 370a4.2 4.2 0 1 0 8.5 0a4.2 4.2 0 1 0 -8.5 0M267.6 373.1a4.2 4.2 0 1 0 8.5 0a4.2 4.2 0 1 0 -8.5 0M268.2 369a4.2 4.2 0 1 0 8.5 0a4.2 4.2 0 1 0 -8.5 0M268.9 368.9a4.2 4.2 0 1 0 8.5 0a4.2 4.2 0 1 0 -8.5 0M269.5 367.3a4.2 4.2 0 1 0 8.5 0a4.2 4.2 0 1 0 -8.5 0M270.1 360.6a4.2 4.2 0 1 0 8.5 0a4.2 4.2 0 1 0 -8.5 0M270.7 364.6a4.2 4.2 0 1 0 8.5 0a4.2 4.2 0 1 0 -8.5 0M271.3 360.2a4.2 4.2 0 1 0 8.5 0a4.2 4.2 0 1 0 -8.5 0M271.9 365.9a4.2 4.2 0 1 0 8.5 0a4.2 4.2 0 1 0 -8.5 0M272.5 366.8a4.2 4.2 0 1 0 8.5 0a4.2 4.2 0 1 0 -8.5 0M273 362.7a4.2 4.2 0 1 0 8.5 0a4.2 4.2 0 1 0 -8.5 0M273.6 375.6a4.2 4.2 0 1 0 8.5 0a4.2 4.2 0 1 0 -8.5 0M274.2 363.3a4.2 4.2 0 1 0 8.5 0a4.2 4.2 0 1 0 -8.5 0M274.7 361.4a4.2 4.2 0 1 0 8.5 0a4.2 4.2 0 1 0 -8.5 0M275.2 366.2a4.2 4.2 0 1 0 8.5 0a4.2 4.2 0 1 0 -8.5 0M275.8 358.2a4.2 4.2 0 1 0 8.5 0a4.2 4.2 0 1 0 -8.5 0M276.3 361.4a4.2 4.2 0 1 0 8.5 0a4.2 4.2 0 1 0 -8.5 0M276.8 368.3a4.2 4.2 0 1 0 8.5 0a4.2 4.2 0 1 0 -8.5 0M277.4 358a4.2 4.2 0 1 0 8.5 0a4.2 4.2 0 1 0 -8.5 0M277.9 360.3a4.2 4.2 0 1 0 8.5 0a4.2 4.2 0 1 0 -8.5 0M278.4 357.4a4.2 4.2 0 1 0 8.5 0a4.2 4.2 0 1 0 -8.5 0M278.9 354.9a4.2 4.2 0 1 0 8.5 0a4.2 4.2 0 1 0 -8.5 0M279.4 348.2a4.2 4.2 0 1 0 8.5 0a4.2 4.2 0 1 0 -8.5 0M279.9 352a4.2 4.2 0 1 0 8.5 0a4.2 4.2 0 1 0 -8.5 0M280.3 351.4a4.2 4.2 0 1 0 8.5 0a4.2 4.2 0 1 0 -8.5 0M280.8 348.3a4.2 4.2 0 1 0 8.5 0a4.2 4.2 0 1 0 -8.5 0M281.3 356.1a4.2 4.2 0 1 0 8.5 0a4.2 4.2 0 1 0 -8.5 0M281.8 342.1a4.2 4.2 0 1 0 8.5 0a4.2 4.2 0 1 0 -8.5 0M282.2 350.4a4.2 4.2 0 1 0 8.5 0a4.2 4.2 0 1 0 -8.5 0M282.7 342.7a4.2 4.2 0 1 0 8.5 0a4.2 4.2 0 1 0 -8.5 0M283.1 347.9a4.2 4.2 0 1 0 8.5 0a4.2 4.2 0 1 0 -8.5 0M283.6 346a4.2 4.2 0 1 0 8.5 0a4.2 4.2 0 1 0 -8.5 0M284 342.3a4.2 4.2 0 1 0 8.5 0a4.2 4.2 0 1 0 -8.5 0M284.5 331.5a4.2 4.2 0 1 0 8.5 0a4.2 4.2 0 1 0 -8.5 0M284.9 335.2a4.2 4.2 0 1 0 8.5 0a4.2 4.2 0 1 0 -8.5 0M285.3 339.4a4.2 4.2 0 1 0 8.5 0a4.2 4.2 0 1 0 -8.5 0M285.8 336.8a4.2 4.2 0 1 0 8.5 0a4.2 4.2 0 1 0 -8.5 0M286.2 339.2a4.2 4.2 0 1 0 8.5 0a4.2 4.2 0 1 0 -8.5 0M286.6 333a4.2 4.2 0 1 0 8.5 0a4.2 4.2 0 1 0 -8.5 0M287 333.8a4.2 4.2 0 1 0 8.5 0a4.2 4.2 0 1 0 -8.5 0M287.4 326.9a4.2 4.2 0 1 0 8.5 0a4.2 4.2 0 1 0 -8.5 0M287.9 334a4.2 4.2 0 1 0 8.5 0a4.2 4.2 0 1 0 -8.5 0M288.3 328.3a4.2 4.2 0 1 0 8.5 0a4.2 4.2 0 1 0 -8.5 0M288.7 328.9a4.2 4.2 0 1 0 8.5 0a4.2 4.2 0 1 0 -8.5 0M289.1 326.9a4.2 4.2 0 1 0 8.5 0a4.2 4.2 0 1 0 -8.5 0M289.5 319.5a4.2 4.2 0 1 0 8.5 0a4.2 4.2 0 1 0 -8.5 0M289.8 320.5a4.2 4.2 0 1 0 8.5 0a4.2 4.2 0 1 0 -8.5 0M290.2 317.2a4.2 4.2 0 1 0 8.5 0a4.2 4.2 0 1 0 -8.5 0M290.6 313.3a4.2 4.2 0 1 0 8.5 0a4.2 4.2 0 1 0 -8.5 0M291 312.1a4.2 4.2 0 1 0 8.5 0a4.2 4.2 0 1 0 -8.5 0M291.4 321.2a4.2 4.2 0 1 0 8.5 0a4.2 4.2 0 1 0 -8.5 0M291.7 311.8a4.2 4.2 0 1 0 8.5 0a4.2 4.2 0 1 0 -8.5 0M292.1 319.9a4.2 4.2 0 1 0 8.5 0a4.2 4.2 0 1 0 -8.5 0M292.5 311.4a4.2 4.2 0 1 0 8.5 0a4.2 4.2 0 1 0 -8.5 0M292.8 301.7a4.2 4.2 0 1 0 8.5 0a4.2 4.2 0 1 0 -8.5 0M293.2 309.1a4.2 4.2 0 1 0 8.5 0a4.2 4.2 0 1 0 -8.5 0M293.6 308.4a4.2 4.2 0 1 0 8.5 0a4.2 4.2 0 1 0 -8.5 0M293.9 304.8a4.2 4.2 0 1 0 8.5 0a4.2 4.2 0 1 0 -8.5 0M294.3 304.1a4.2 4.2 0 1 0 8.5 0a4.2 4.2 0 1 0 -8.5 0M294.6 302.7a4.2 4.2 0 1 0 8.5 0a4.2 4.2 0 1 0 -8.5 0M295 304.6a4.2 4.2 0 1 0 8.5 0a4.2 4.2 0 1 0 -8.5 0M295.3 295.6a4.2 4.2 0 1 0 8.5 0a4.2 4.2 0 1 0 -8.5 0M295.7 295a4.2 4.2 0 1 0 8.5 0a4.2 4.2 0 1 0 -8.5 0M296 298.3a4.2 4.2 0 1 0 8.5 0a4.2 4.2 0 1 0 -8.5 0M296.3 294.8a4.2 4.2 0 1 0 8.5 0a4.2 4.2 0 1 0 -8.5 0M296.7 292.1a4.2 4.2 0 1 0 8.5 0a4.2 4.2 0 1 0 -8.5 0M297 289.6a4.2 4.2 0 1 0 8.5 0a4.2 4.2 0 1 0 -8.5 0M297.3 293.2a4.2 4.2 0 1 0 8.5 0a4.2 4.2 0 1 0 -8.5 0M297.7 292.9a4.2 4.2 0 1 0 8.5 0a4.2 4.2 0 1 0 -8.5 0M298 297.8a4.2 4.2 0 1 0 8.5 0a4.2 4.2 0 1 0 -8.5 0M298.3 302.1a4.2 4.2 0 1 0 8.5 0a4.2 4.2 0 1 0 -8.5 0M298.6 300.6a4.2 4.2 0 1 0 8.5 0a4.2 4.2 0 1 0 -8.5 0M298.9 295.2a4.2 4.2 0 1 0 8.5 0a4.2 4.2 0 1 0 -8.5 0M299.3 296.3a4.2 4.2 0 1 0 8.5 0a4.2 4.2 0 1 0 -8.5 0M299.6 300.9a4.2 4.2 0 1 0 8.5 0a4.2 4.2 0 1 0 -8.5 0M299.9 305.5a4.2 4.2 0 1 0 8.5 0a4.2 4.2 0 1 0 -8.5 0M300.2 303.6a4.2 4.2 0 1 0 8.5 0a4.2 4.2 0 1 0 -8.5 0M300.5 299.6a4.2 4.2 0 1 0 8.5 0a4.2 4.2 0 1 0 -8.5 0M300.8 302.5a4.2 4.2 0 1 0 8.5 0a4.2 4.2 0 1 0 -8.5 0M301.1 312.7a4.2 4.2 0 1 0 8.5 0a4.2 4.2 0 1 0 -8.5 0M301.4 311.6a4.2 4.2 0 1 0 8.5 0a4.2 4.2 0 1 0 -8.5 0M301.7 319.1a4.2 4.2 0 1 0 8.5 0a4.2 4.2 0 1 0 -8.5 0M302 319.4a4.2 4.2 0 1 0 8.5 0a4.2 4.2 0 1 0 -8.5 0M302.3 315.5a4.2 4.2 0 1 0 8.5 0a4.2 4.2 0 1 0 -8.5 0M302.6 317.7a4.2 4.2 0 1 0 8.5 0a4.2 4.2 0 1 0 -8.5 0M302.9 314.8a4.2 4.2 0 1 0 8.5 0a4.2 4.2 0 1 0 -8.5 0M303.2 314.6a4.2 4.2 0 1 0 8.5 0a4.2 4.2 0 1 0 -8.5 0M303.5 317.4a4.2 4.2 0 1 0 8.5 0a4.2 4.2 0 1 0 -8.5 0M303.7 316.4a4.2 4.2 0 1 0 8.5 0a4.2 4.2 0 1 0 -8.5 0M304 325.2a4.2 4.2 0 1 0 8.5 0a4.2 4.2 0 1 0 -8.5 0M304.3 328.6a4.2 4.2 0 1 0 8.5 0a4.2 4.2 0 1 0 -8.5 0M304.6 322.8a4.2 4.2 0 1 0 8.5 0a4.2 4.2 0 1 0 -8.5 0M304.9 314.8a4.2 4.2 0 1 0 8.5 0a4.2 4.2 0 1 0 -8.5 0M305.1 325.4a4.2 4.2 0 1 0 8.5 0a4.2 4.2 0 1 0 -8.5 0M305.4 332.7a4.2 4.2 0 1 0 8.5 0a4.2 4.2 0 1 0 -8.5 0M305.7 327.8a4.2 4.2 0 1 0 8.5 0a4.2 4.2 0 1 0 -8.5 0M306 323.9a4.2 4.2 0 1 0 8.5 0a4.2 4.2 0 1 0 -8.5 0M306.2 335.1a4.2 4.2 0 1 0 8.5 0a4.2 4.2 0 1 0 -8.5 0M306.5 328.4a4.2 4.2 0 1 0 8.5 0a4.2 4.2 0 1 0 -8.5 0M306.8 335a4.2 4.2 0 1 0 8.5 0a4.2 4.2 0 1 0 -8.5 0M307 327.7a4.2 4.2 0 1 0 8.5 0a4.2 4.2 0 1 0 -8.5 0M307.3 330.3a4.2 4.2 0 1 0 8.5 0a4.2 4.2 0 1 0 -8.5 0M307.5 332.8a4.2 4.2 0 1 0 8.5 0a4.2 4.2 0 1 0 -8.5 0M307.8 326.3a4.2 4.2 0 1 0 8.5 0a4.2 4.2 0 1 0 -8.5 0M308.1 336.9a4.2 4.2 0 1 0 8.5 0a4.2 4.2 0 1 0 -8.5 0M308.3 338.5a4.2 4.2 0 1 0 8.5 0a4.2 4.2 0 1 0 -8.5 0M308.6 328.5a4.2 4.2 0 1 0 8.5 0a4.2 4.2 0 1 0 -8.5 0M308.8 340.4a4.2 4.2 0 1 0 8.5 0a4.2 4.2 0 1 0 -8.5 0M309.1 328.1a4.2 4.2 0 1 0 8.5 0a4.2 4.2 0 1 0 -8.5 0M309.3 337.9a4.2 4.2 0 1 0 8.5 0a4.2 4.2 0 1 0 -8.5 0M309.6 342.6a4.2 4.2 0 1 0 8.5 0a4.2 4.2 0 1 0 -8.5 0M309.8 338.6a4.2 4.2 0 1 0 8.5 0a4.2 4.2 0 1 0 -8.5 0M310.1 338.3a4.2 4.2 0 1 0 8.5 0a4.2 4.2 0 1 0 -8.5 0M310.3 338.3a4.2 4.2 0 1 0 8.5 0a4.2 4.2 0 1 0 -8.5 0M310.6 340.2a4.2 4.2 0 1 0 8.5 0a4.2 4.2 0 1 0 -8.5 0M310.8 335.1a4.2 4.2 0 1 0 8.5 0a4.2 4.2 0 1 0 -8.5 0M311 349.5a4.2 4.2 0 1 0 8.5 0a4.2 4.2 0 1 0 -8.5 0M311.3 342.4a4.2 4.2 0 1 0 8.5 0a4.2 4.2 0 1 0 -8.5 0M311.5 341.4a4.2 4.2 0 1 0 8.5 0a4.2 4.2 0 1 0 -8.5 0M311.8 333a4.2 4.2 0 1 0 8.5 0a4.2 4.2 0 1 0 -8.5 0M312 349.1a4.2 4.2 0 1 0 8.5 0a4.2 4.2 0 1 0 -8.5 0M312.2 342.5a4.2 4.2 0 1 0 8.5 0a4.2 4.2 0 1 0 -8.5 0M312.5 346.1a4.2 4.2 0 1 0 8.5 0a4.2 4.2 0 1 0 -8.5 0M312.7 344.3a4.2 4.2 0 1 0 8.5 0a4.2 4.2 0 1 0 -8.5 0" fill="#fbb61a"/>
<path d="M84.3 411.7L115 378.4L133 367L145.7 351.8L155.6 357.1L163.7 355L170.5 349.9L176.4 334.3L181.6 337.3L186.3 334.3L190.5 327L194.4 331L197.9 326.5L201.2 325.4L204.2 328.1L207.1 328.1L209.8 328.3L212.3 329.1L214.7 331.1L217 326.5L219.2 331.6L221.2 333.7L223.2 332.8L225.1 334.8L226.9 335.1L228.6 336L230.3 332L231.9 337.2L233.5 337.8L235 337.6L236.4 335.7L237.8 341.2L239.2 342.8L240.5 337.2L241.8 346.2L243 344.8L244.2 343.5L245.4 340.9L246.6 348.8L247.7 353.2L248.8 348L249.9 351.6L250.9 352.5L251.9 351.9L252.9 353.5L253.9 354.5L254.8 357.1L255.8 354.7L256.7 355.4L257.6 359.6L258.5 361.7L259.3 360.3L260.2 361.8L261 366L261.8 365.8L262.6 363.6L263.4 366.6L264.2 367.4L264.9 366.5L265.7 367.3L266.4 367.5L267.1 371.8L267.8 364.4L268.5 367.8L269.2 370.3L269.9 366.7L270.5 368.3L271.2 369L271.8 366.4L272.5 363.4L273.1 366.5L273.7 363.8L274.3 362.2L274.9 368.3L275.5 366.8L276.1 363.7L276.7 368.3L277.3 364.8L277.8 361.1L278.4 361L279 360.9L279.5 365L280 355.2L280.6 358L281.1 356.5L281.6 356.1L282.1 359.8L282.6 358.2L283.1 356.8L283.6 349.4L284.1 354.2L284.6 351.8L285.1 350.5L285.5 347.4L286 346.2L286.5 345.3L286.9 347.2L287.4 349.8L287.8 341.6L288.3 340.1L288.7 336.8L289.2 338.3L289.6 338.1L290 334.8L290.4 337.6L290.9 335.1L291.3 333.5L291.7 329.3L292.1 324L292.5 325.3L292.9 323L293.3 323.4L293.7 321.9L294.1 322L294.5 320.2L294.9 323.3L295.2 319.3L295.6 318.1L296 312.3L296.4 311.2L296.7 308.7L297.1 306.5L297.5 308.9L297.8 304.7L298.2 301.4L298.5 304.2L298.9 300.5L299.2 301.8L299.6 303.4L299.9 298.5L300.2 299.1L300.6 295.9L300.9 295.8L301.3 293.3L301.6 299.3L301.9 291.5L302.2 293.9L302.6 298.4L302.9 300.5L303.2 299.5L303.5 299L303.8 300.6L304.1 302.3L304.4 308.9L304.7 308.9L305.1 305.4L305.4 309.3L305.7 314.6L306 314.9L306.2 317.7L306.5 318.4L306.8 315.3L307.1 319.3L307.4 317.5L307.7 320.5L308 325.1L308.3 324.3L308.6 319.1L308.8 326.5L309.1 328.1L309.4 324.3L309.7 327.7L309.9 328.9L310.2 326.7L310.5 334.5L310.7 330.8L311 334.7L311.3 336L311.5 335.3L311.8 331.7L312.1 334.9L312.3 339.1L312.6 338L312.8 333L313.1 334.5L313.3 339.6L313.6 332.6L313.8 339L314.1 341.2L314.3 339.2L314.6 337.1L314.8 335.9L315.1 337.4L315.3 340.8L315.5 341.3L315.8 343.4L316 340.8L316.3 342.1L316.5 340.6L316.7 344L317 342.7" fill="none" stroke="#7f7f7f" stroke-width="5.5" stroke-linejoin="round"/>
</g>
<rect x="72.1" y="276.6" width="245.6" height="163.4" fill="none" stroke="#000" stroke-width="1.8"/>
<line x1="72.1" y1="326" x2="80.1" y2="326" stroke="#000" stroke-width="1.8"/>
<line x1="72.1" y1="430" x2="80.1" y2="430" stroke="#000" stroke-width="1.8"/>
<line x1="72.1" y1="367.4" x2="76.1" y2="367.4" stroke="#000" stroke-width="1.8"/>
<line x1="72.1" y1="357.3" x2="76.1" y2="357.3" stroke="#000" stroke-width="1.8"/>
<line x1="72.1" y1="349.1" x2="76.1" y2="349.1" stroke="#000" stroke-width="1.8"/>
<line x1="72.1" y1="342.1" x2="76.1" y2="342.1" stroke="#000" stroke-width="1.8"/>
<line x1="72.1" y1="336.1" x2="76.1" y2="336.1" stroke="#000" stroke-width="1.8"/>
<line x1="72.1" y1="330.8" x2="76.1" y2="330.8" stroke="#000" stroke-width="1.8"/>
<line x1="72.1" y1="294.7" x2="76.1" y2="294.7" stroke="#000" stroke-width="1.8"/>
<line x1="72.1" y1="434.8" x2="76.1" y2="434.8" stroke="#000" stroke-width="1.8"/>
<line x1="113" y1="440" x2="113" y2="432" stroke="#000" stroke-width="1.8"/>
<line x1="215" y1="440" x2="215" y2="432" stroke="#000" stroke-width="1.8"/>
<line x1="72.4" y1="440" x2="72.4" y2="436" stroke="#000" stroke-width="1.8"/>
<line x1="82.3" y1="440" x2="82.3" y2="436" stroke="#000" stroke-width="1.8"/>
<line x1="90.4" y1="440" x2="90.4" y2="436" stroke="#000" stroke-width="1.8"/>
<line x1="97.2" y1="440" x2="97.2" y2="436" stroke="#000" stroke-width="1.8"/>
<line x1="103.1" y1="440" x2="103.1" y2="436" stroke="#000" stroke-width="1.8"/>
<line x1="108.3" y1="440" x2="108.3" y2="436" stroke="#000" stroke-width="1.8"/>
<line x1="143.7" y1="440" x2="143.7" y2="436" stroke="#000" stroke-width="1.8"/>
<line x1="161.7" y1="440" x2="161.7" y2="436" stroke="#000" stroke-width="1.8"/>
<line x1="174.4" y1="440" x2="174.4" y2="436" stroke="#000" stroke-width="1.8"/>
<line x1="184.3" y1="440" x2="184.3" y2="436" stroke="#000" stroke-width="1.8"/>
<line x1="192.4" y1="440" x2="192.4" y2="436" stroke="#000" stroke-width="1.8"/>
<line x1="199.2" y1="440" x2="199.2" y2="436" stroke="#000" stroke-width="1.8"/>
<line x1="205.1" y1="440" x2="205.1" y2="436" stroke="#000" stroke-width="1.8"/>
<line x1="210.3" y1="440" x2="210.3" y2="436" stroke="#000" stroke-width="1.8"/>
<line x1="245.7" y1="440" x2="245.7" y2="436" stroke="#000" stroke-width="1.8"/>
<line x1="263.7" y1="440" x2="263.7" y2="436" stroke="#000" stroke-width="1.8"/>
<line x1="276.4" y1="440" x2="276.4" y2="436" stroke="#000" stroke-width="1.8"/>
<line x1="286.3" y1="440" x2="286.3" y2="436" stroke="#000" stroke-width="1.8"/>
<line x1="294.4" y1="440" x2="294.4" y2="436" stroke="#000" stroke-width="1.8"/>
<line x1="301.2" y1="440" x2="301.2" y2="436" stroke="#000" stroke-width="1.8"/>
<line x1="307.1" y1="440" x2="307.1" y2="436" stroke="#000" stroke-width="1.8"/>
<line x1="312.3" y1="440" x2="312.3" y2="436" stroke="#000" stroke-width="1.8"/>
<line x1="86.1" y1="287.9" x2="106.4" y2="287.9" stroke="#7f7f7f" stroke-width="5.7"/>
<line x1="195.5" y1="395.5" x2="214.5" y2="395.5" stroke="#fbb61a" stroke-width="2.2"/>
<path d="M200.5 395.5a4.5 4.5 0 1 0 9 0a4.5 4.5 0 1 0 -9 0" fill="#fbb61a"/>
<line x1="263.7" y1="395.5" x2="282.7" y2="395.5" stroke="#a3307e" stroke-width="2.2"/>
<path d="M268.6 390.9h9.2v9.2h-9.2Z" fill="#a3307e"/>
<line x1="195.5" y1="418.5" x2="214.5" y2="418.5" stroke="#ed6925" stroke-width="2.2"/>
<path d="M205 425L211.1 414.1L198.9 414.1Z" fill="#ed6925"/>
<line x1="263.7" y1="418.5" x2="282.7" y2="418.5" stroke="#420a68" stroke-width="2.2"/>
<path d="M273.2 412L279.3 422.9L267.1 422.9Z" fill="#420a68"/>
</g>
<g>
<defs><clipPath id="cpc"><rect x="424" y="277.6" width="243.4" height="160.7"/></clipPath></defs>
<g clip-path="url(#cpc)">
<path d="M423 437.6L424 434.1L425 432.7L425.9 429.7L426.9 425.7L427.9 421.6L428.9 421.2L429.9 421L430.9 419.4L431.8 417.5L432.8 415.3L433.8 414.7L434.8 413.6L435.8 412.1L436.7 410.5L437.7 409.8L438.7 407.9L439.7 406.3L440.7 403.9L441.7 403.8L442.6 401.7L443.6 402.4L444.6 400.5L445.6 400.5L446.6 400.6L447.5 399.7L448.5 398.6L449.5 399L450.5 397.5L451.5 396.7L452.4 396.1L453.4 395.7L454.4 397.4L455.4 395.7L456.4 396L457.4 394.3L458.3 394.5L459.3 393.9L460.3 393.2L461.3 393.6L462.3 392.6L463.2 392.7L464.2 390.1L465.2 391.6L466.2 390.7L467.2 391.6L468.2 390.9L469.1 389.9L470.1 388.2L471.1 387.7L472.1 387.6L473.1 387.8L474 385.4L475 386.9L476 386.2L477 384.6L478 385.1L479 383.6L479.9 382.4L480.9 382.6L481.9 381.6L482.9 381.3L483.9 381.3L484.8 382.5L485.8 380.5L486.8 379L487.8 378.9L488.8 376.8L489.7 374.9L490.7 372.8L491.7 373.5L492.7 371.6L493.7 369.8L494.7 368.3L495.6 368.4L496.6 364.2L497.6 363.9L498.6 360.2L499.6 358.9L500.5 356.1L501.5 352.9L502.5 351.3L503.5 349.7L504.5 348.9L505.5 347L506.4 345.8L507.4 341.6L508.4 342.6L509.4 341.7L510.4 336.8L511.3 335.4L512.3 334.9L513.3 330.8L514.3 328.8L515.3 325.3L516.3 321.2L517.2 318.1L518.2 314.7L519.2 307.1L520.2 301.6L521.2 300.9L522.1 300.6L523.1 298.4L524.1 297.6L525.1 296.2L526.1 294.3L527 294.1L528 292.3L529 291.1L530 291.2L531 289.4L532 292.2L532.9 290.7L533.9 291.3L534.9 290.1L535.9 287.9L536.9 290.8L537.8 289.5L538.8 288.5L539.8 288.7L540.8 287.8L541.8 289.4L542.8 287.3L543.7 288.6L544.7 288.7L545.7 287.3L546.7 287.3L547.7 288.1L548.6 288.1L549.6 287.5L550.6 287.3L551.6 287.3L552.6 287.8L553.6 288.7L554.5 285.9L555.5 286.7L556.5 287.6L557.5 287.8L558.5 287L559.4 286.8L560.4 288.1L561.4 285.4L562.4 286.2L563.4 286.7L564.4 286.2L565.3 286.3L566.3 285.6L567.3 286.3L568.3 285.5L569.3 285.2L570.2 286.6L571.2 286.7L572.2 287L573.2 286.5L574.2 286.9L575.1 286.3L576.1 286.1L577.1 285.9L578.1 287.2L579.1 285.5L580.1 286.5L581 286.4L582 286.7L583 287.8L584 286.1L585 287.6L585.9 285.4L586.9 286.2L587.9 285L588.9 285.7L589.9 285.7L590.9 285.1L591.8 286.2L592.8 285L593.8 286.3L594.8 286L595.8 286.7L596.7 285.7L597.7 285.6L598.7 286.5L599.7 287.1L600.7 286.1L601.7 285.8L602.6 286.2L603.6 286.8L604.6 286.6L605.6 286.2L606.6 288L607.5 286.5L608.5 284.9L609.5 287L610.5 286.2L611.5 284.7L612.4 285.4L613.4 285.3L614.4 286.1L615.4 286.9L616.4 283.7L617.4 285.7L618.3 285.7L619.3 284.6L620.3 285.3L621.3 285.8L622.3 286.7L623.2 286L624.2 286L625.2 286.3L626.2 286.5L627.2 286.6L628.2 285.9L629.1 286.2L630.1 285.5L631.1 285L632.1 285.5L633.1 285.7L634 284.6L635 285.2L636 286.8L637 286.3L638 285.6L639 286.4L639.9 285.1L640.9 287L641.9 287.1L642.9 284.9L643.9 285.2L644.8 286.8L645.8 285.6L646.8 284.6L647.8 286.4L648.8 286.5L649.7 286.5L650.7 286.3L651.7 286.9L652.7 285.9L653.7 286.6L654.7 285.5L655.6 283.8L656.6 286.3L657.6 284.8L658.6 284.6L659.6 287.2L660.5 285.4L661.5 285.5L662.5 285.7L663.5 284.8L664.5 285.8L665.5 285.2L666.4 285.7L667.4 285.5L668.4 286" fill="none" stroke="#420a68" stroke-width="7.5" stroke-linejoin="round" stroke-linecap="round"/>
<path d="M423 440.3L424 439.2L425 437.2L425.9 432L426.9 429.5L427.9 428L428.9 427L429.9 425.7L430.9 422.8L431.8 422.7L432.8 421.6L433.8 419L434.8 418.5L435.8 417L436.7 414.1L437.7 413.6L438.7 411.9L439.7 411.2L440.7 409.1L441.7 408.9L442.6 406.6L443.6 405.8L444.6 406.4L445.6 406.7L446.6 404.8L447.5 404.9L448.5 403.9L449.5 404.3L450.5 403L451.5 402.2L452.4 400.7L453.4 400.7L454.4 401.3L455.4 400.1L456.4 401.2L457.4 399.4L458.3 399.7L459.3 398.3L460.3 398.6L461.3 398.6L462.3 398.5L463.2 396.6L464.2 397.1L465.2 396.2L466.2 395.9L467.2 397.4L468.2 395L469.1 395.4L470.1 394.4L471.1 393.9L472.1 395.2L473.1 393.7L474 393.1L475 392.3L476 391.5L477 392.3L478 391.6L479 390.5L479.9 391.9L480.9 388.6L481.9 390.2L482.9 388L483.9 388.4L484.8 386.6L485.8 386.8L486.8 387.1L487.8 387.9L488.8 386L489.7 385.4L490.7 384.7L491.7 385.6L492.7 384.7L493.7 384.2L494.7 382.9L495.6 383.3L496.6 382.2L497.6 380.9L498.6 381.4L499.6 379.6L500.5 379.9L501.5 379.8L502.5 378.3L503.5 378.2L504.5 378.3L505.5 378.1L506.4 377.2L507.4 376.4L508.4 375.3L509.4 375.4L510.4 375.6L511.3 375.6L512.3 373.9L513.3 373.3L514.3 371.7L515.3 371.8L516.3 371.3L517.2 368.5L518.2 368.2L519.2 367.9L520.2 364.6L521.2 364L522.1 363.5L523.1 362.3L524.1 361.9L525.1 359.5L526.1 359.4L527 357.7L528 355.9L529 354.8L530 351.4L531 349.2L532 348.2L532.9 348.6L533.9 345.5L534.9 344L535.9 341.8L536.9 342.5L537.8 341.3L538.8 338.8L539.8 336.5L540.8 335.7L541.8 331.9L542.8 332.3L543.7 329.8L544.7 328L545.7 326.6L546.7 323.2L547.7 322.7L548.6 319.9L549.6 316.9L550.6 314.4L551.6 310.6L552.6 309.3L553.6 306.4L554.5 305.2L555.5 301.9L556.5 300.8L557.5 298.6L558.5 298.1L559.4 295.7L560.4 296.1L561.4 294.4L562.4 294.1L563.4 293.4L564.4 292.4L565.3 292.4L566.3 293.1L567.3 292L568.3 291.8L569.3 292.6L570.2 291L571.2 290.1L572.2 290.8L573.2 290.6L574.2 290.1L575.1 289.5L576.1 290.7L577.1 289.5L578.1 290.7L579.1 289.7L580.1 289.7L581 291L582 289.4L583 289.7L584 291.1L585 290.1L585.9 290.2L586.9 290.4L587.9 289.3L588.9 290.2L589.9 289.5L590.9 290.3L591.8 289.6L592.8 288L593.8 289L594.8 290.4L595.8 289.9L596.7 289.2L597.7 290.3L598.7 288.3L599.7 289L600.7 289L601.7 288.8L602.6 289.3L603.6 289.6L604.6 291.1L605.6 289.9L606.6 288.4L607.5 288L608.5 288.6L609.5 289.8L610.5 288.7L611.5 288.3L612.4 289.3L613.4 287.3L614.4 289.1L615.4 288.2L616.4 289L617.4 287.5L618.3 289.1L619.3 288.8L620.3 287.2L621.3 289L622.3 288.4L623.2 287.6L624.2 287.7L625.2 289.3L626.2 287.4L627.2 288.1L628.2 286.9L629.1 289.1L630.1 287.2L631.1 287.4L632.1 288L633.1 288L634 287.4L635 288.1L636 287.8L637 288.1L638 287.4L639 287L639.9 288.7L640.9 287.4L641.9 287.2L642.9 286.2L643.9 287.9L644.8 286.3L645.8 287.6L646.8 286.9L647.8 287L648.8 287L649.7 287.4L650.7 287.9L651.7 285.9L652.7 285.9L653.7 287.1L654.7 287.1L655.6 287.1L656.6 287.9L657.6 287.7L658.6 286.5L659.6 286.1L660.5 287L661.5 287.5L662.5 287.5L663.5 287.2L664.5 286.1L665.5 286.6L666.4 287.7L667.4 287.5L668.4 286.3" fill="none" stroke="#a3307e" stroke-width="7.5" stroke-linejoin="round" stroke-linecap="round"/>
<path d="M423 449.4L424 445.3L425 442.4L425.9 440.3L426.9 437.9L427.9 434.2L428.9 433.9L429.9 432.3L430.9 429.7L431.8 428.7L432.8 427.2L433.8 425.4L434.8 425.6L435.8 423.4L436.7 422.7L437.7 421.2L438.7 420L439.7 418.5L440.7 418.6L441.7 417.3L442.6 414.9L443.6 413.9L444.6 414.2L445.6 413.6L446.6 414.2L447.5 412L448.5 412L449.5 410.8L450.5 411.8L451.5 411.2L452.4 410.7L453.4 409.3L454.4 409.5L455.4 409.3L456.4 410.4L457.4 409.4L458.3 409.5L459.3 408.1L460.3 407L461.3 407.2L462.3 407.5L463.2 404.9L464.2 406.9L465.2 404.6L466.2 404.4L467.2 404.7L468.2 403.5L469.1 404.9L470.1 404.1L471.1 403.5L472.1 402.6L473.1 402.7L474 400.8L475 402L476 401.5L477 401.9L478 400.2L479 399.6L479.9 400.4L480.9 400.4L481.9 400.1L482.9 397.7L483.9 397.6L484.8 397.6L485.8 396.9L486.8 396.7L487.8 396.4L488.8 397.5L489.7 395.5L490.7 395L491.7 394.3L492.7 394L493.7 394.9L494.7 393.8L495.6 394.7L496.6 392.1L497.6 393.9L498.6 391.9L499.6 392.6L500.5 392.3L501.5 392L502.5 391.1L503.5 390.2L504.5 389.3L505.5 389.9L506.4 388.7L507.4 388.3L508.4 387L509.4 388.6L510.4 387.6L511.3 386.9L512.3 386.9L513.3 386.2L514.3 386.5L515.3 385.6L516.3 385.2L517.2 384.6L518.2 384.1L519.2 382.9L520.2 383.1L521.2 381.9L522.1 380.4L523.1 381.4L524.1 380.3L525.1 378.9L526.1 378.5L527 377.5L528 374.4L529 374.6L530 374.3L531 373.6L532 373.3L532.9 372.1L533.9 372L534.9 368.9L535.9 368.8L536.9 366.8L537.8 366.6L538.8 367.1L539.8 363.3L540.8 363.6L541.8 362.8L542.8 363.3L543.7 362.7L544.7 361.8L545.7 359.7L546.7 361.4L547.7 360.7L548.6 358.9L549.6 360.2L550.6 357L551.6 358.4L552.6 356L553.6 356.5L554.5 356L555.5 356L556.5 353.5L557.5 354.2L558.5 354.4L559.4 352.3L560.4 352.3L561.4 351.2L562.4 351.3L563.4 350L564.4 348.9L565.3 348.3L566.3 348.6L567.3 346L568.3 344.4L569.3 344.1L570.2 342.8L571.2 341.9L572.2 341.8L573.2 339.8L574.2 339.8L575.1 339.4L576.1 338.6L577.1 335.9L578.1 335.2L579.1 334.3L580.1 334.3L581 334.2L582 331.3L583 331L584 330.4L585 329.5L585.9 328.5L586.9 328.4L587.9 325.6L588.9 324.5L589.9 323.4L590.9 323.3L591.8 322.9L592.8 322L593.8 320.2L594.8 317.7L595.8 317.3L596.7 316.9L597.7 315.6L598.7 314.4L599.7 314L600.7 312.9L601.7 311.9L602.6 311.5L603.6 311L604.6 309.6L605.6 307.3L606.6 308.4L607.5 306.5L608.5 305.5L609.5 304.1L610.5 303.2L611.5 301L612.4 300.5L613.4 298.9L614.4 297.1L615.4 297.4L616.4 294.4L617.4 294.3L618.3 295.9L619.3 294.7L620.3 295L621.3 294.5L622.3 293.4L623.2 295.2L624.2 293L625.2 293.1L626.2 293.2L627.2 291.3L628.2 293.1L629.1 293.7L630.1 292.1L631.1 292L632.1 292.4L633.1 293.4L634 293.2L635 290.4L636 292.7L637 290.4L638 290.7L639 292.9L639.9 291L640.9 290.6L641.9 290.1L642.9 289.9L643.9 289.8L644.8 290.7L645.8 290.8L646.8 290.7L647.8 290L648.8 291L649.7 291L650.7 288.4L651.7 289.3L652.7 289.1L653.7 290L654.7 290.4L655.6 290L656.6 290.2L657.6 290L658.6 290.6L659.6 288.8L660.5 288.9L661.5 288.5L662.5 289L663.5 289.5L664.5 287.3L665.5 288L666.4 288.2L667.4 287.9L668.4 288.7" fill="none" stroke="#ed6925" stroke-width="8" stroke-linejoin="round" stroke-linecap="round"/>
<path d="M423 447.2L424 445.3L425 440.9L425.9 437.9L426.9 434.9L427.9 432.2L428.9 431.1L429.9 429.8L430.9 428.1L431.8 427.7L432.8 425.6L433.8 424.3L434.8 424.5L435.8 423.6L436.7 420.8L437.7 420L438.7 419.1L439.7 418.2L440.7 416.8L441.7 416L442.6 413.7L443.6 413.9L444.6 413.6L445.6 412.1L446.6 410.4L447.5 410.2L448.5 410.9L449.5 410.1L450.5 410.2L451.5 409.7L452.4 409.8L453.4 408.8L454.4 409.2L455.4 408.6L456.4 407.8L457.4 407.3L458.3 405.3L459.3 407.1L460.3 406.9L461.3 405.2L462.3 404.9L463.2 404.4L464.2 404.6L465.2 405.3L466.2 404L467.2 404.3L468.2 403L469.1 401.3L470.1 402.4L471.1 401.7L472.1 400.6L473.1 402L474 400L475 400.5L476 400.4L477 399.7L478 399.8L479 398L479.9 398.3L480.9 398.3L481.9 397.3L482.9 398.4L483.9 399L484.8 395.6L485.8 396.7L486.8 395.4L487.8 396.3L488.8 396.6L489.7 395.7L490.7 393.9L491.7 393.9L492.7 394.3L493.7 393L494.7 393.4L495.6 392.7L496.6 393.3L497.6 393.9L498.6 391.7L499.6 391L500.5 391.8L501.5 389.6L502.5 390.2L503.5 388.8L504.5 389.2L505.5 388.5L506.4 389.2L507.4 389.8L508.4 386.7L509.4 387L510.4 387.1L511.3 388L512.3 386.3L513.3 387.4L514.3 385.8L515.3 385.1L516.3 385L517.2 385.7L518.2 384L519.2 383.9L520.2 383.2L521.2 382.3L522.1 383.3L523.1 383L524.1 383.5L525.1 380.2L526.1 381.3L527 379.1L528 379.2L529 378L530 378.1L531 377.3L532 377.3L532.9 376.1L533.9 376.7L534.9 374.5L535.9 376L536.9 374.5L537.8 373.8L538.8 372.8L539.8 372.4L540.8 372.5L541.8 371.2L542.8 372.7L543.7 370.7L544.7 369.7L545.7 369.6L546.7 367.9L547.7 368.2L548.6 367.2L549.6 367.9L550.6 365.8L551.6 365.4L552.6 366.6L553.6 363.8L554.5 365.3L555.5 364.8L556.5 362.7L557.5 361.5L558.5 361.8L559.4 361.9L560.4 361.8L561.4 361.3L562.4 360L563.4 359.4L564.4 359.8L565.3 358.1L566.3 359.6L567.3 357.1L568.3 357.4L569.3 357.1L570.2 354L571.2 354.5L572.2 354.7L573.2 354.7L574.2 352.2L575.1 352.6L576.1 352.7L577.1 353.3L578.1 350.3L579.1 349.8L580.1 349.4L581 350L582 350L583 347.2L584 347.7L585 346.3L585.9 348.3L586.9 346L587.9 344.7L588.9 344.7L589.9 342.7L590.9 342.9L591.8 342.2L592.8 341.9L593.8 342L594.8 341.9L595.8 341.4L596.7 339.3L597.7 339.8L598.7 340.7L599.7 338.4L600.7 337.9L601.7 337.8L602.6 336.5L603.6 336.7L604.6 333.3L605.6 334.8L606.6 334.4L607.5 332.8L608.5 332L609.5 330.7L610.5 330.4L611.5 329.3L612.4 329L613.4 328.4L614.4 327.8L615.4 325.9L616.4 323.7L617.4 322.9L618.3 319.6L619.3 318.8L620.3 316L621.3 314.7L622.3 314.3L623.2 310.4L624.2 310.3L625.2 310.6L626.2 308.5L627.2 307.9L628.2 307.1L629.1 305.4L630.1 305.1L631.1 303.2L632.1 304.1L633.1 302L634 300.4L635 300.3L636 298.2L637 297.3L638 299.6L639 298.8L639.9 298.7L640.9 297L641.9 298.4L642.9 299.4L643.9 298.1L644.8 297.7L645.8 297.5L646.8 297.3L647.8 297L648.8 297.4L649.7 296.7L650.7 296.9L651.7 296.7L652.7 296.5L653.7 295.5L654.7 295.8L655.6 295.4L656.6 296.3L657.6 296.9L658.6 295.6L659.6 294.7L660.5 295.3L661.5 295.5L662.5 296.2L663.5 294.6L664.5 295.4L665.5 295.9L666.4 294.2L667.4 294.3L668.4 293.3" fill="none" stroke="#fbb61a" stroke-width="8.5" stroke-linejoin="round" stroke-linecap="round"/>
<line x1="527.5" y1="278.6" x2="527.5" y2="439.3" stroke="#420a68" stroke-width="2.2" stroke-dasharray="7.4 3.2"/>
<line x1="566.1" y1="278.6" x2="566.1" y2="439.3" stroke="#a3307e" stroke-width="2.2" stroke-dasharray="7.4 3.2"/>
<line x1="622.5" y1="278.6" x2="622.5" y2="439.3" stroke="#ed6925" stroke-width="2.2" stroke-dasharray="7.4 3.2"/>
<line x1="637" y1="278.6" x2="637" y2="439.3" stroke="#fbb61a" stroke-width="2.2" stroke-dasharray="7.4 3.2"/>
</g>
<rect x="423" y="276.6" width="245.4" height="162.7" fill="none" stroke="#000" stroke-width="1.8"/>
<line x1="423" y1="287.3" x2="430.8" y2="287.3" stroke="#000" stroke-width="1.8"/>
<line x1="423" y1="325.5" x2="430.8" y2="325.5" stroke="#000" stroke-width="1.8"/>
<line x1="423" y1="363.7" x2="430.8" y2="363.7" stroke="#000" stroke-width="1.8"/>
<line x1="423" y1="401.9" x2="430.8" y2="401.9" stroke="#000" stroke-width="1.8"/>
<line x1="423" y1="439.3" x2="423" y2="431.5" stroke="#000" stroke-width="1.8"/>
<line x1="545.7" y1="439.3" x2="545.7" y2="431.5" stroke="#000" stroke-width="1.8"/>
<line x1="668.4" y1="439.3" x2="668.4" y2="431.5" stroke="#000" stroke-width="1.8"/>
<line x1="484.4" y1="439.3" x2="484.4" y2="435.3" stroke="#000" stroke-width="1.8"/>
<line x1="607" y1="439.3" x2="607" y2="435.3" stroke="#000" stroke-width="1.8"/>
<path d="M439.2 306.7a4 4 0 1 0 8 0a4 4 0 1 0 -8 0" fill="#fbb61a"/>
<path d="M443.2 331.1L448.4 321.7L438 321.7Z" fill="#ed6925"/>
<path d="M439.5 340.3h7.4v7.4h-7.4Z" fill="#a3307e"/>
<path d="M443.2 356.8L448.4 366.2L438 366.2Z" fill="#420a68"/>
</g>
<g>
<rect x="108.5" y="689.9" width="21.1" height="18.1" fill="#ec764e" stroke="#1a1a1a" stroke-width="1.4"/>
<rect x="129.6" y="697.4" width="21.1" height="10.6" fill="#5c2d7f" stroke="#1a1a1a" stroke-width="1.4"/>
<rect x="182" y="664.1" width="21.1" height="43.9" fill="#808080" stroke="#1a1a1a" stroke-width="1.4"/>
<rect x="203.1" y="660.9" width="21.1" height="47.1" fill="#ec764e" stroke="#1a1a1a" stroke-width="1.4"/>
<rect x="224.2" y="684.8" width="21.1" height="23.2" fill="#5c2d7f" stroke="#1a1a1a" stroke-width="1.4"/>
<rect x="276.7" y="527.2" width="21.1" height="180.8" fill="#808080" stroke="#1a1a1a" stroke-width="1.4"/>
<rect x="297.8" y="543.2" width="21.1" height="164.8" fill="#ec764e" stroke="#1a1a1a" stroke-width="1.4"/>
<rect x="318.9" y="556.1" width="21.1" height="151.9" fill="#5c2d7f" stroke="#1a1a1a" stroke-width="1.4"/>
<rect x="371.4" y="612.5" width="21.1" height="95.5" fill="#808080" stroke="#1a1a1a" stroke-width="1.4"/>
<rect x="392.5" y="617.4" width="21.1" height="90.6" fill="#ec764e" stroke="#1a1a1a" stroke-width="1.4"/>
<rect x="413.6" y="582.5" width="21.1" height="125.5" fill="#5c2d7f" stroke="#1a1a1a" stroke-width="1.4"/>
<rect x="466.1" y="700.5" width="21.1" height="7.5" fill="#808080" stroke="#1a1a1a" stroke-width="1.4"/>
<rect x="487.2" y="700.8" width="21.1" height="7.2" fill="#ec764e" stroke="#1a1a1a" stroke-width="1.4"/>
<rect x="508.3" y="691" width="21.1" height="17" fill="#5c2d7f" stroke="#1a1a1a" stroke-width="1.4"/>
<line x1="119" y1="699.5" x2="119" y2="708" stroke="#cf5a28" stroke-width="1.3"/>
<line x1="213.7" y1="699.5" x2="213.7" y2="708" stroke="#cf5a28" stroke-width="1.3"/>
<line x1="308.4" y1="699.5" x2="308.4" y2="708" stroke="#cf5a28" stroke-width="1.3"/>
<line x1="403" y1="699.5" x2="403" y2="708" stroke="#cf5a28" stroke-width="1.3"/>
<line x1="497.7" y1="699.5" x2="497.7" y2="708" stroke="#cf5a28" stroke-width="1.3"/>
<rect x="285" y="525.7" width="4.6" height="3" fill="#000"/>
<rect x="379.6" y="611" width="4.6" height="3" fill="#000"/>
<rect x="327.2" y="553.5" width="4.6" height="5" fill="#06068c"/>
<rect x="421.8" y="579.9" width="4.6" height="5" fill="#06068c"/>
<rect x="516.5" y="688.4" width="4.6" height="5" fill="#06068c"/>
<rect x="211.7" y="659.6" width="4" height="2.5" fill="#d9692a"/>
<rect x="306.4" y="542" width="4" height="2.5" fill="#d9692a"/>
<rect x="401" y="616.1" width="4" height="2.5" fill="#d9692a"/>
<rect x="117" y="688.7" width="4" height="2.5" fill="#d9692a"/>
<rect x="72.1" y="511.6" width="596.3" height="196.4" fill="none" stroke="#000" stroke-width="1.8"/>
<line x1="72.1" y1="708" x2="80.1" y2="708" stroke="#000" stroke-width="1.8"/>
<line x1="72.1" y1="642.8" x2="80.1" y2="642.8" stroke="#000" stroke-width="1.8"/>
<line x1="72.1" y1="577.6" x2="80.1" y2="577.6" stroke="#000" stroke-width="1.8"/>
<line x1="72.1" y1="512.4" x2="80.1" y2="512.4" stroke="#000" stroke-width="1.8"/>
<line x1="72.1" y1="675.4" x2="76.1" y2="675.4" stroke="#000" stroke-width="1.8"/>
<line x1="72.1" y1="610.2" x2="76.1" y2="610.2" stroke="#000" stroke-width="1.8"/>
<line x1="72.1" y1="545" x2="76.1" y2="545" stroke="#000" stroke-width="1.8"/>
<line x1="119" y1="708" x2="119" y2="700" stroke="#000" stroke-width="1.8"/>
<line x1="213.7" y1="708" x2="213.7" y2="700" stroke="#000" stroke-width="1.8"/>
<line x1="308.4" y1="708" x2="308.4" y2="700" stroke="#000" stroke-width="1.8"/>
<line x1="403" y1="708" x2="403" y2="700" stroke="#000" stroke-width="1.8"/>
<line x1="497.7" y1="708" x2="497.7" y2="700" stroke="#000" stroke-width="1.8"/>
<line x1="592.4" y1="708" x2="592.4" y2="700" stroke="#000" stroke-width="1.8"/>
<g transform="translate(489.8,742.9) scale(1.0)" fill="none" stroke="#000" stroke-linecap="round" stroke-linejoin="round"><path d="M3.6 3.9 C4.2 1.5 5.5 0.5 8 0.4 C10.5 0.3 13 0.6 16.8 0 M0.3 15.4 C2.5 13.9 4.5 13.8 7.5 14.6 C10.5 15.4 14 15 16.3 11.3 M5.8 6.6 L13.1 6.6" stroke-width="1.15"/><path d="M16.8 0 L0.3 15.4" stroke-width="1.7"/></g>
<rect x="96.2" y="525" width="13.4" height="12.4" fill="#808080" stroke="#1a1a1a" stroke-width="1.4"/>
<rect x="96.2" y="552.2" width="13.4" height="12.4" fill="#ec764e" stroke="#1a1a1a" stroke-width="1.4"/>
<rect x="96.2" y="579.4" width="13.4" height="12.4" fill="#5c2d7f" stroke="#1a1a1a" stroke-width="1.4"/>
<rect x="513" y="511.6" width="155.4" height="107.7" fill="#fff"/>
<line x1="514" y1="556.2" x2="668.4" y2="556.2" stroke="#888" stroke-width="3" stroke-dasharray="11 5"/>
<path d="M544.2 597.3L567.3 588.9L621.1 556.5L644.2 539.3" fill="none" stroke="#000" stroke-width="2.8"/>
<path d="M537.4 597.3a6.8 6.8 0 1 0 13.6 0a6.8 6.8 0 1 0 -13.6 0" fill="#fbb61a"/>
<path d="M567.3 597.5L575.4 583L559.2 583Z" fill="#ed6925"/>
<path d="M614.6 550h13v13h-13Z" fill="#a3307e"/>
<path d="M644.2 530.6L652.3 545.2L636.1 545.2Z" fill="#420a68"/>
<rect x="513" y="511.6" width="155.4" height="107.7" fill="none" stroke="#000" stroke-width="1.8"/>
<line x1="513" y1="601.4" x2="520" y2="601.4" stroke="#000" stroke-width="1.8"/>
<line x1="513" y1="565.6" x2="520" y2="565.6" stroke="#000" stroke-width="1.8"/>
<line x1="513" y1="529.8" x2="520" y2="529.8" stroke="#000" stroke-width="1.8"/>
<line x1="567.3" y1="619.3" x2="567.3" y2="612.3" stroke="#000" stroke-width="1.8"/>
<line x1="644.2" y1="619.3" x2="644.2" y2="612.3" stroke="#000" stroke-width="1.8"/>
<line x1="513.5" y1="619.3" x2="513.5" y2="615.5" stroke="#000" stroke-width="1.8"/>
<line x1="527.1" y1="619.3" x2="527.1" y2="615.5" stroke="#000" stroke-width="1.8"/>
<line x1="536.7" y1="619.3" x2="536.7" y2="615.5" stroke="#000" stroke-width="1.8"/>
<line x1="544.2" y1="619.3" x2="544.2" y2="615.5" stroke="#000" stroke-width="1.8"/>
<line x1="550.2" y1="619.3" x2="550.2" y2="615.5" stroke="#000" stroke-width="1.8"/>
<line x1="555.4" y1="619.3" x2="555.4" y2="615.5" stroke="#000" stroke-width="1.8"/>
<line x1="559.8" y1="619.3" x2="559.8" y2="615.5" stroke="#000" stroke-width="1.8"/>
<line x1="563.8" y1="619.3" x2="563.8" y2="615.5" stroke="#000" stroke-width="1.8"/>
<line x1="590.4" y1="619.3" x2="590.4" y2="615.5" stroke="#000" stroke-width="1.8"/>
<line x1="604" y1="619.3" x2="604" y2="615.5" stroke="#000" stroke-width="1.8"/>
<line x1="613.6" y1="619.3" x2="613.6" y2="615.5" stroke="#000" stroke-width="1.8"/>
<line x1="621.1" y1="619.3" x2="621.1" y2="615.5" stroke="#000" stroke-width="1.8"/>
<line x1="627.1" y1="619.3" x2="627.1" y2="615.5" stroke="#000" stroke-width="1.8"/>
<line x1="632.3" y1="619.3" x2="632.3" y2="615.5" stroke="#000" stroke-width="1.8"/>
<line x1="636.7" y1="619.3" x2="636.7" y2="615.5" stroke="#000" stroke-width="1.8"/>
<line x1="640.7" y1="619.3" x2="640.7" y2="615.5" stroke="#000" stroke-width="1.8"/>
<path d="M455.3 553.5L467.4 548.8L479.4 553.5M455.3 577.2L467.4 582.2L479.4 577.2" fill="none" stroke="#000" stroke-width="1.3"/>
<g transform="translate(457.9,573.8) scale(1.0) rotate(-90)" fill="none" stroke="#000" stroke-linecap="round" stroke-linejoin="round"><path d="M3.6 3.9 C4.2 1.5 5.5 0.5 8 0.4 C10.5 0.3 13 0.6 16.8 0 M0.3 15.4 C2.5 13.9 4.5 13.8 7.5 14.6 C10.5 15.4 14 15 16.3 11.3 M5.8 6.6 L13.1 6.6" stroke-width="1.15"/><path d="M16.8 0 L0.3 15.4" stroke-width="1.7"/></g>
</g>
<text transform="translate(0.11 21.54) scale(0.96 1)" font-size="27.36" text-anchor="start">(a)</text>
<text transform="translate(-1.19 286.31) scale(0.96 1)" font-size="27.36" text-anchor="start">(b)</text>
<text transform="translate(343.84 285.7) scale(0.96 1)" font-size="27.36" text-anchor="start">(c)</text>
<text transform="translate(-0.89 514.75) scale(0.96 1)" font-size="27.36" text-anchor="start">(d)</text>
<text transform="translate(71.18 24.42) scale(0.95 1)" font-size="22.74" text-anchor="start">(i)</text>
<text transform="translate(280.51 23.24) scale(1 1)" font-size="21.88" text-anchor="start">(ii)</text>
<text transform="translate(493.11 23.35) scale(1 1)" font-size="21.88" text-anchor="start">(iii)</text>
<text transform="translate(370.16 17.68) scale(1.07 1)" font-size="24.49" text-anchor="middle"><tspan font-style="italic">g</tspan>(<tspan font-weight="bold">r</tspan>)</text>
<text transform="translate(581.11 17.24) scale(1.19 1)" font-size="24.2" text-anchor="middle"><tspan font-style="italic">S</tspan>(<tspan font-weight="bold">k</tspan>)</text>
<text transform="translate(204.5 14.54)" font-size="19.65" text-anchor="middle">0</text>
<text transform="translate(247.09 13.77)" font-size="19.65" text-anchor="middle">6</text>
<text transform="translate(414.66 13.92)" font-size="19.65" text-anchor="middle">0</text>
<text transform="translate(457.75 14.62) scale(1.06 1)" font-size="18.97" text-anchor="middle">20</text>
<text transform="translate(625.08 13.66) scale(1.06 1)" font-size="18.97" text-anchor="middle">0</text>
<text transform="translate(667.51 13.97) scale(1.06 1)" font-size="18.97" text-anchor="middle">5</text>
<text transform="translate(83.83 231.8) scale(1.16 1)" font-size="21" text-anchor="middle">-30<tspan font-style="italic">d</tspan></text>
<text transform="translate(159.93 232) scale(1.16 1)" font-size="21" text-anchor="middle">0</text>
<text transform="translate(234.42 232) scale(1.16 1)" font-size="21" text-anchor="middle">30<tspan font-style="italic">d</tspan></text>
<text transform="translate(291.08 232.29) scale(1.16 1)" font-size="21" text-anchor="middle">-2<tspan font-style="italic">d</tspan></text>
<text transform="translate(369.5 232) scale(1.16 1)" font-size="21" text-anchor="middle">0</text>
<text transform="translate(447.84 232.45) scale(1.16 1)" font-size="21" text-anchor="middle">2<tspan font-style="italic">d</tspan></text>
<text transform="translate(513.68 233.27) scale(1.16 1)" font-size="22.02" text-anchor="middle">-2<tspan font-style="italic">d</tspan><tspan font-size="0.7em" dy="-0.62em" dx="0.25em">-1</tspan></text>
<text transform="translate(580.69 232) scale(1.16 1)" font-size="21" text-anchor="middle">0</text>
<text transform="translate(646.67 233.27) scale(1.16 1)" font-size="22.02" text-anchor="middle">2<tspan font-style="italic">d</tspan><tspan font-size="0.7em" dy="-0.62em" dx="0.25em">-1</tspan></text>
<text transform="translate(65.14 333.69) scale(1.32 1)" font-size="19.2" text-anchor="end">10<tspan font-size="0.7em" dy="-0.62em">0</tspan></text>
<text transform="translate(62.12 436.79) scale(1.32 1)" font-size="19.2" text-anchor="end">10<tspan font-size="0.7em" dy="-0.62em">&#8722;1</tspan></text>
<text transform="translate(111.3 463.65) scale(1.32 1)" font-size="19.2" text-anchor="middle">10<tspan font-size="0.7em" dy="-0.62em">&#8722;1</tspan></text>
<text transform="translate(214.76 463.9) scale(1.14 1)" font-size="22.32" text-anchor="middle">10<tspan font-size="0.7em" dy="-0.62em">0</tspan></text>
<text transform="translate(317.33 463.9) scale(1.14 1)" font-size="22.32" text-anchor="middle">10<tspan font-size="0.7em" dy="-0.62em">1</tspan></text>
<text transform="translate(194.37 487.75) scale(1.11 1)" font-size="25.74" text-anchor="middle"><tspan font-style="italic">kd</tspan></text>
<text transform="translate(19.91 358.54) rotate(-90) scale(1.11 1)" font-size="26.62" text-anchor="middle"><tspan font-style="italic">S</tspan>(<tspan font-style="italic">k</tspan>)</text>
<text transform="translate(110.41 295.76) scale(1.06 1)" font-size="22.06" text-anchor="start">Colloid</text>
<text transform="translate(153.74 405.87) scale(1.12 1)" font-size="24.51" text-anchor="middle">Re</text>
<text transform="translate(114.3 423.31) scale(1.32 1)" font-size="18.56" text-anchor="start">Spinner</text>
<text transform="translate(214.62 404.56) scale(1.23 1)" font-size="19.92" text-anchor="start">0.05</text>
<text transform="translate(283.54 404.6) scale(1.23 1)" font-size="19.92" text-anchor="start">0.5</text>
<text transform="translate(215.12 424.51) scale(1.26 1)" font-size="19.64" text-anchor="start">0.1</text>
<text transform="translate(282.33 424.51) scale(1.26 1)" font-size="19.64" text-anchor="start">1.0</text>
<text transform="translate(420.24 296.25) scale(1.14 1)" font-size="22.32" text-anchor="end">10<tspan font-size="0.7em" dy="-0.62em">0</tspan></text>
<text transform="translate(417.95 334.18) scale(1.14 1)" font-size="22.32" text-anchor="end">10<tspan font-size="0.7em" dy="-0.62em">&#8722;1</tspan></text>
<text transform="translate(417.94 372.34) scale(1.14 1)" font-size="22.32" text-anchor="end">10<tspan font-size="0.7em" dy="-0.62em">&#8722;2</tspan></text>
<text transform="translate(417.46 410.79) scale(1.14 1)" font-size="22.32" text-anchor="end">10<tspan font-size="0.7em" dy="-0.62em">&#8722;3</tspan></text>
<text transform="translate(417.31 449.03) scale(1.14 1)" font-size="22.32" text-anchor="end">10<tspan font-size="0.7em" dy="-0.62em">&#8722;4</tspan></text>
<text transform="translate(422.84 461.77) scale(1.27 1)" font-size="19.37" text-anchor="middle">0</text>
<text transform="translate(544.71 461.41) scale(1.22 1)" font-size="20.11" text-anchor="middle">50</text>
<text transform="translate(667.95 461.41) scale(1.22 1)" font-size="20.11" text-anchor="middle">100</text>
<text transform="translate(544.22 482.84) scale(0.91 1)" font-size="28.51" text-anchor="middle"><tspan font-style="italic">&#969;t</tspan></text>
<text transform="translate(361.32 357.61) rotate(-90) scale(1.21 1)" font-size="27.12" text-anchor="middle"><tspan font-style="italic">N</tspan><tspan font-size="0.7em" dy="0.3em">lc</tspan><tspan dy="-0.21em">/</tspan><tspan font-style="italic">N</tspan></text>
<text transform="translate(453.2 295.16) scale(1.14 1)" font-size="21.53" text-anchor="start">Re</text>
<text transform="translate(453.23 314.08) scale(1.19 1)" font-size="19.49" text-anchor="start">0.05</text>
<text transform="translate(452.85 332.41) scale(1.19 1)" font-size="19.49" text-anchor="start">0.1</text>
<text transform="translate(452.83 351.62) scale(1.19 1)" font-size="19.49" text-anchor="start">0.5</text>
<text transform="translate(451.75 369.8) scale(1.19 1)" font-size="19.49" text-anchor="start">1.0</text>
<text transform="translate(65.92 520) scale(1.02 1)" font-size="24.27" text-anchor="end">0.6</text>
<text transform="translate(65.43 584.74) scale(1.02 1)" font-size="24.27" text-anchor="end">0.4</text>
<text transform="translate(66.01 650.68) scale(1.02 1)" font-size="24.27" text-anchor="end">0.2</text>
<text transform="translate(65.92 715.32) scale(1.02 1)" font-size="24.27" text-anchor="end">0.0</text>
<text transform="translate(119.27 729.94) scale(0.99 1)" font-size="22.02" text-anchor="middle">0</text>
<text transform="translate(213.42 729.94) scale(0.99 1)" font-size="22.02" text-anchor="middle">1</text>
<text transform="translate(308.52 729.94) scale(0.99 1)" font-size="22.02" text-anchor="middle">2</text>
<text transform="translate(403.56 729.94) scale(0.99 1)" font-size="22.02" text-anchor="middle">3</text>
<text transform="translate(498.16 729.94) scale(0.99 1)" font-size="22.02" text-anchor="middle">4</text>
<text transform="translate(592.36 729.94) scale(0.99 1)" font-size="22.02" text-anchor="middle">5</text>
<text transform="translate(233.93 758.5) scale(1.03 1)" font-size="26.94" text-anchor="start">Coordination Number</text>
<text transform="translate(18.93 609.38) rotate(-90) scale(1.13 1)" font-size="24.92" text-anchor="middle">Probability</text>
<text transform="translate(118.33 539.65) scale(1.02 1)" font-size="24.09" text-anchor="start">Colloid</text>
<text transform="translate(118.3 566.31) scale(1.22 1)" font-size="21.39" text-anchor="start">Re=0.1</text>
<text transform="translate(118.29 593.25) scale(1.11 1)" font-size="23.2" text-anchor="start">Re=1.0</text>
<text transform="translate(510.88 608.74) scale(1.4 1)" font-size="17.49" text-anchor="end">2.0</text>
<text transform="translate(510.86 571.09) scale(1.49 1)" font-size="13.7" text-anchor="end">2.2</text>
<text transform="translate(509.93 534.85) scale(1.76 1)" font-size="11.64" text-anchor="end">2.4</text>
<text transform="translate(567.03 640.64) scale(1.32 1)" font-size="18.1" text-anchor="middle">0.1</text>
<text transform="translate(643.6 640.64) scale(1.32 1)" font-size="18.1" text-anchor="middle">1</text>
<text transform="translate(590.71 665.16) scale(1.12 1)" font-size="25.12" text-anchor="middle">Re</text>
</svg>
</body></html>
